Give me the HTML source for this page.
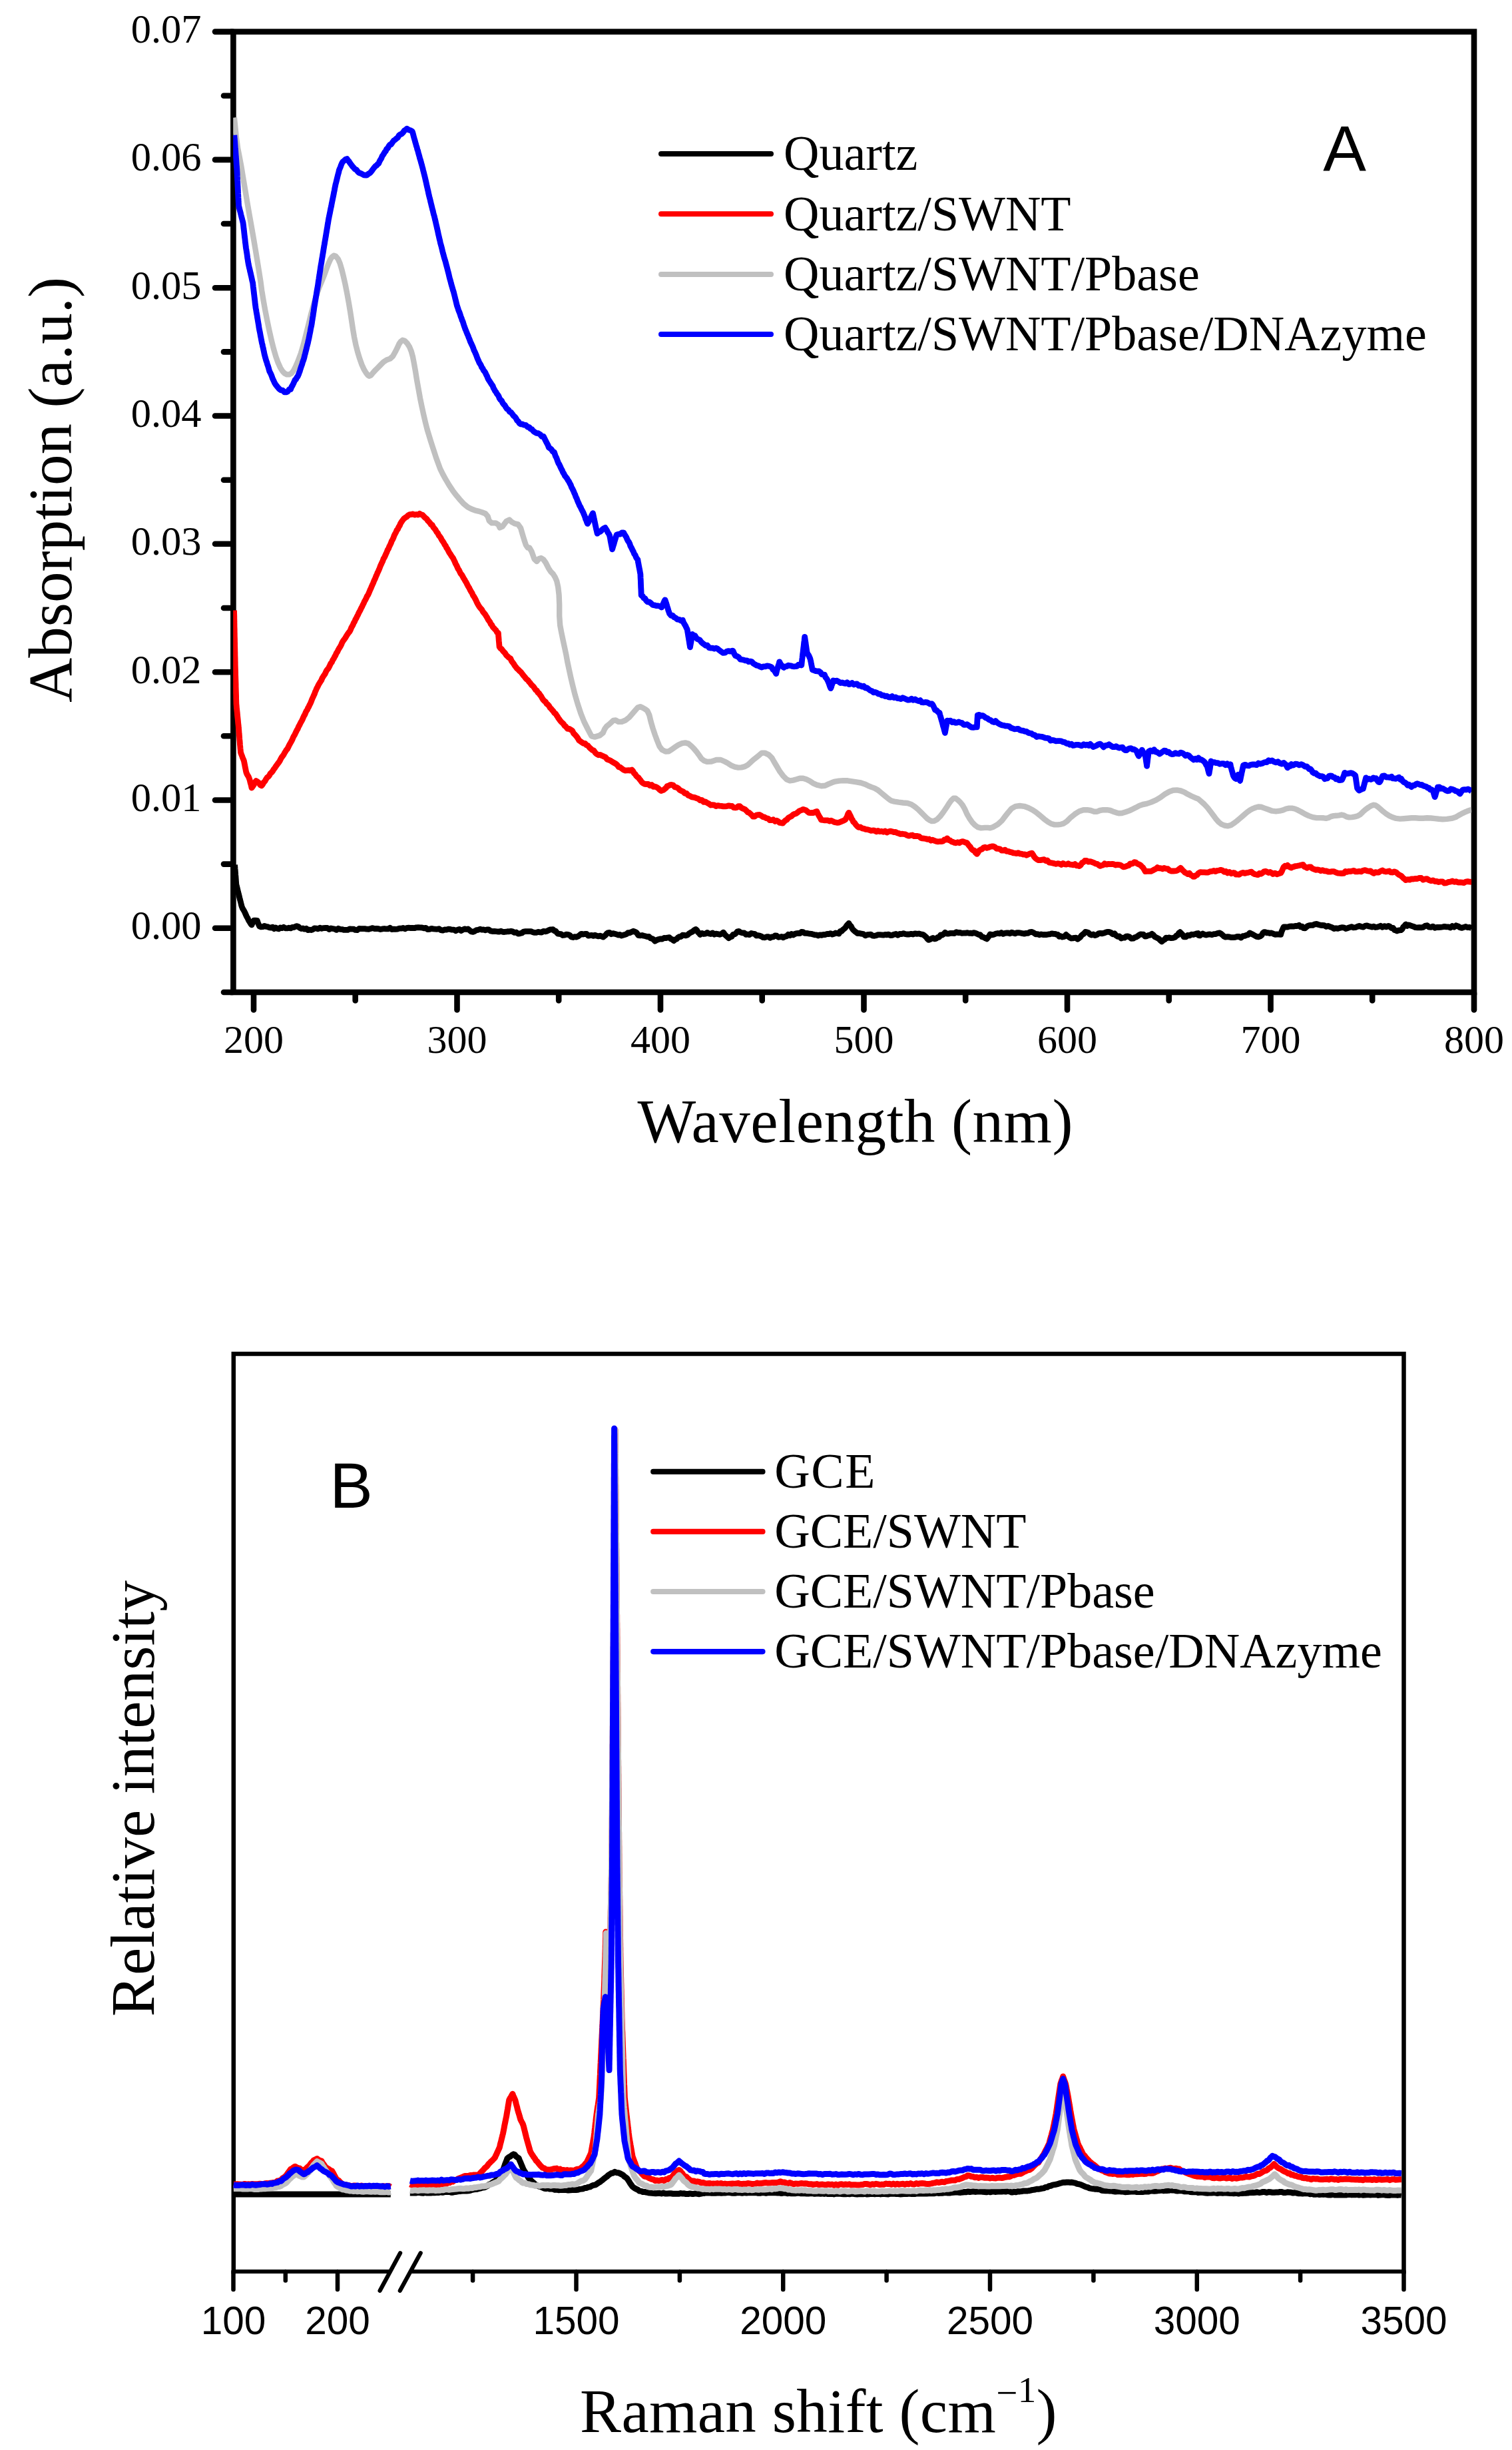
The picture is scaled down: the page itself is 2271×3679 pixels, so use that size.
<!DOCTYPE html>
<html lang="en"><head><meta charset="utf-8"><title>Figure: UV-vis absorption and Raman spectra</title>
<style>html,body{margin:0;padding:0;background:#fff}body{width:2271px;height:3679px;overflow:hidden}svg{display:block}text{fill:#000}</style>
</head><body>
<svg width="2271" height="3679" viewBox="0 0 2271 3679">
<rect width="2271" height="3679" fill="#fff"/>
<g id="chartA">
<rect x="350.4" y="47.6" width="1863.6" height="1442.4" fill="none" stroke="#000" stroke-width="8.6"/>
<line x1="323.0" y1="1393.8" x2="349.4" y2="1393.8" stroke="#000" stroke-width="8.6" stroke-linecap="round"/>
<text x="302.5" y="1410.1" font-family="'Liberation Serif',serif" font-size="60.5" text-anchor="end" >0.00</text>
<line x1="323.0" y1="1201.5" x2="349.4" y2="1201.5" stroke="#000" stroke-width="8.6" stroke-linecap="round"/>
<text x="302.5" y="1217.8" font-family="'Liberation Serif',serif" font-size="60.5" text-anchor="end" >0.01</text>
<line x1="323.0" y1="1009.2" x2="349.4" y2="1009.2" stroke="#000" stroke-width="8.6" stroke-linecap="round"/>
<text x="302.5" y="1025.5" font-family="'Liberation Serif',serif" font-size="60.5" text-anchor="end" >0.02</text>
<line x1="323.0" y1="816.8" x2="349.4" y2="816.8" stroke="#000" stroke-width="8.6" stroke-linecap="round"/>
<text x="302.5" y="833.1" font-family="'Liberation Serif',serif" font-size="60.5" text-anchor="end" >0.03</text>
<line x1="323.0" y1="624.5" x2="349.4" y2="624.5" stroke="#000" stroke-width="8.6" stroke-linecap="round"/>
<text x="302.5" y="640.8" font-family="'Liberation Serif',serif" font-size="60.5" text-anchor="end" >0.04</text>
<line x1="323.0" y1="432.2" x2="349.4" y2="432.2" stroke="#000" stroke-width="8.6" stroke-linecap="round"/>
<text x="302.5" y="448.5" font-family="'Liberation Serif',serif" font-size="60.5" text-anchor="end" >0.05</text>
<line x1="323.0" y1="239.9" x2="349.4" y2="239.9" stroke="#000" stroke-width="8.6" stroke-linecap="round"/>
<text x="302.5" y="256.2" font-family="'Liberation Serif',serif" font-size="60.5" text-anchor="end" >0.06</text>
<line x1="323.0" y1="47.6" x2="349.4" y2="47.6" stroke="#000" stroke-width="8.6" stroke-linecap="round"/>
<text x="302.5" y="63.9" font-family="'Liberation Serif',serif" font-size="60.5" text-anchor="end" >0.07</text>
<line x1="336.0" y1="1490.0" x2="349.4" y2="1490.0" stroke="#000" stroke-width="8.6" stroke-linecap="round"/>
<line x1="336.0" y1="1297.6" x2="349.4" y2="1297.6" stroke="#000" stroke-width="8.6" stroke-linecap="round"/>
<line x1="336.0" y1="1105.3" x2="349.4" y2="1105.3" stroke="#000" stroke-width="8.6" stroke-linecap="round"/>
<line x1="336.0" y1="913.0" x2="349.4" y2="913.0" stroke="#000" stroke-width="8.6" stroke-linecap="round"/>
<line x1="336.0" y1="720.7" x2="349.4" y2="720.7" stroke="#000" stroke-width="8.6" stroke-linecap="round"/>
<line x1="336.0" y1="528.4" x2="349.4" y2="528.4" stroke="#000" stroke-width="8.6" stroke-linecap="round"/>
<line x1="336.0" y1="336.0" x2="349.4" y2="336.0" stroke="#000" stroke-width="8.6" stroke-linecap="round"/>
<line x1="336.0" y1="143.7" x2="349.4" y2="143.7" stroke="#000" stroke-width="8.6" stroke-linecap="round"/>
<line x1="381.0" y1="1491.0" x2="381.0" y2="1516.5" stroke="#000" stroke-width="8.6" stroke-linecap="round"/>
<text x="381.0" y="1581.0" font-family="'Liberation Serif',serif" font-size="60" text-anchor="middle" >200</text>
<line x1="686.5" y1="1491.0" x2="686.5" y2="1516.5" stroke="#000" stroke-width="8.6" stroke-linecap="round"/>
<text x="686.5" y="1581.0" font-family="'Liberation Serif',serif" font-size="60" text-anchor="middle" >300</text>
<line x1="992.0" y1="1491.0" x2="992.0" y2="1516.5" stroke="#000" stroke-width="8.6" stroke-linecap="round"/>
<text x="992.0" y="1581.0" font-family="'Liberation Serif',serif" font-size="60" text-anchor="middle" >400</text>
<line x1="1297.5" y1="1491.0" x2="1297.5" y2="1516.5" stroke="#000" stroke-width="8.6" stroke-linecap="round"/>
<text x="1297.5" y="1581.0" font-family="'Liberation Serif',serif" font-size="60" text-anchor="middle" >500</text>
<line x1="1603.0" y1="1491.0" x2="1603.0" y2="1516.5" stroke="#000" stroke-width="8.6" stroke-linecap="round"/>
<text x="1603.0" y="1581.0" font-family="'Liberation Serif',serif" font-size="60" text-anchor="middle" >600</text>
<line x1="1908.5" y1="1491.0" x2="1908.5" y2="1516.5" stroke="#000" stroke-width="8.6" stroke-linecap="round"/>
<text x="1908.5" y="1581.0" font-family="'Liberation Serif',serif" font-size="60" text-anchor="middle" >700</text>
<line x1="2214.0" y1="1491.0" x2="2214.0" y2="1516.5" stroke="#000" stroke-width="8.6" stroke-linecap="round"/>
<text x="2214.0" y="1581.0" font-family="'Liberation Serif',serif" font-size="60" text-anchor="middle" >800</text>
<line x1="533.7" y1="1491.0" x2="533.7" y2="1502.5" stroke="#000" stroke-width="8.6" stroke-linecap="round"/>
<line x1="839.2" y1="1491.0" x2="839.2" y2="1502.5" stroke="#000" stroke-width="8.6" stroke-linecap="round"/>
<line x1="1144.7" y1="1491.0" x2="1144.7" y2="1502.5" stroke="#000" stroke-width="8.6" stroke-linecap="round"/>
<line x1="1450.2" y1="1491.0" x2="1450.2" y2="1502.5" stroke="#000" stroke-width="8.6" stroke-linecap="round"/>
<line x1="1755.7" y1="1491.0" x2="1755.7" y2="1502.5" stroke="#000" stroke-width="8.6" stroke-linecap="round"/>
<line x1="2061.2" y1="1491.0" x2="2061.2" y2="1502.5" stroke="#000" stroke-width="8.6" stroke-linecap="round"/>
<clipPath id="ca"><rect x="350.2" y="47.6" width="1859.9999999999998" height="1442.4"/></clipPath>
<g clip-path="url(#ca)">
<polyline points="352.6,1298.5 352.8,1301.5 353.0,1304.4 353.3,1307.5 353.5,1310.4 353.7,1313.4 354.0,1316.4 354.2,1319.3 354.4,1322.4 354.6,1325.2 354.9,1328.3 355.6,1330.9 356.3,1333.7 357.0,1336.8 357.7,1339.9 358.4,1342.2 359.1,1345.1 359.8,1348.2 360.5,1351.1 361.2,1353.5 361.8,1356.0 362.5,1359.0 363.1,1361.1 364.4,1364.3 365.6,1366.1 366.9,1368.4 368.1,1370.9 369.3,1373.6 370.6,1376.6 371.8,1378.4 373.1,1381.3 374.3,1383.5 375.5,1385.2 376.8,1387.5 378.0,1388.9 379.1,1386.5 380.2,1384.1 381.3,1382.1 383.8,1382.2 386.3,1382.4 387.4,1385.7 388.5,1388.3 389.6,1390.9 392.1,1391.9 394.6,1391.7 397.0,1390.5 399.5,1391.3 402.0,1391.6 404.5,1392.9 407.0,1393.0 409.4,1392.2 411.6,1394.6 413.9,1392.9 416.1,1394.2 418.5,1394.9 421.0,1393.0 423.5,1393.7 426.0,1392.3 428.6,1393.8 431.3,1393.9 433.9,1393.2 436.6,1393.9 439.2,1392.3 441.4,1392.5 443.6,1391.5 445.8,1390.7 448.0,1391.4 450.2,1393.3 452.4,1394.5 454.9,1394.0 457.4,1395.2 459.9,1394.3 462.4,1396.6 464.8,1396.1 467.3,1396.5 469.8,1395.7 472.3,1393.9 475.0,1394.1 477.8,1394.9 480.5,1393.2 483.3,1394.3 486.1,1393.6 488.8,1393.4 491.6,1393.5 494.3,1395.5 497.1,1394.0 499.8,1394.5 502.6,1395.0 505.3,1396.4 508.2,1394.3 511.0,1395.3 513.8,1395.6 516.7,1396.4 519.5,1396.3 522.4,1396.4 525.2,1394.9 528.0,1395.2 530.9,1395.1 533.7,1396.4 536.5,1396.6 539.4,1394.5 542.2,1394.6 545.0,1394.7 548.0,1394.6 550.9,1395.2 553.8,1395.3 556.8,1394.4 559.7,1393.6 562.7,1394.6 565.6,1394.3 568.5,1394.7 571.5,1395.6 574.3,1394.9 577.2,1394.5 580.0,1394.8 582.8,1394.9 585.7,1393.3 588.5,1395.5 591.3,1395.2 594.2,1395.4 597.0,1395.2 599.8,1394.2 602.7,1394.2 605.5,1393.4 608.3,1394.8 611.2,1393.3 614.0,1393.2 616.8,1393.5 619.7,1393.3 622.5,1393.7 625.3,1392.8 628.2,1392.6 631.0,1392.9 633.8,1393.0 636.7,1393.9 639.5,1393.3 642.3,1395.7 645.2,1395.3 648.0,1394.3 650.8,1394.8 653.7,1395.1 656.5,1395.3 659.3,1394.7 662.2,1396.7 665.0,1397.2 667.9,1395.9 670.7,1396.1 673.4,1395.2 676.2,1395.4 679.0,1396.2 681.7,1396.1 684.5,1397.8 687.2,1396.2 689.9,1395.5 692.5,1397.6 695.2,1396.2 697.8,1394.9 700.4,1395.5 702.9,1395.0 705.4,1397.0 707.9,1398.9 710.4,1399.3 713.0,1398.3 715.7,1396.6 718.3,1396.3 721.0,1395.2 723.6,1396.1 726.2,1395.9 728.9,1396.8 731.5,1396.0 734.2,1396.0 736.8,1397.9 739.5,1398.6 742.1,1398.5 744.8,1398.7 747.4,1399.0 750.1,1399.0 752.5,1398.2 755.0,1399.4 757.5,1399.5 760.0,1399.2 762.5,1398.7 764.9,1398.8 767.4,1398.3 769.9,1398.9 772.6,1400.4 775.4,1400.0 778.2,1402.1 780.9,1401.8 783.7,1401.1 786.4,1399.1 789.2,1398.7 791.9,1398.7 794.7,1398.6 797.5,1398.6 800.2,1399.7 803.0,1400.4 805.6,1400.3 808.3,1399.4 810.9,1399.8 813.5,1400.2 816.2,1398.3 818.7,1398.8 821.2,1398.4 823.6,1397.1 826.1,1396.0 828.3,1395.9 830.5,1395.7 832.7,1397.8 834.5,1398.1 836.4,1400.5 838.2,1402.2 840.0,1402.4 842.6,1402.7 845.3,1404.5 847.9,1404.2 850.6,1403.1 853.2,1403.3 855.7,1404.3 858.2,1407.0 860.7,1407.5 863.1,1406.7 865.6,1407.1 868.1,1406.2 870.6,1404.3 873.1,1402.3 875.7,1403.1 878.4,1402.4 881.0,1402.4 883.7,1405.2 886.3,1404.7 888.8,1404.4 891.3,1405.4 893.7,1404.1 896.2,1405.3 898.7,1405.9 901.2,1405.2 903.7,1406.2 906.1,1407.1 907.8,1405.5 909.4,1404.5 911.1,1402.2 912.8,1400.8 915.4,1400.4 918.0,1402.7 920.7,1401.6 923.3,1402.2 926.0,1402.9 928.5,1404.1 930.9,1403.3 933.4,1405.0 935.9,1404.3 938.4,1403.6 940.9,1402.7 943.3,1400.6 945.8,1400.8 948.6,1399.4 951.3,1398.2 954.1,1399.4 955.7,1400.0 957.4,1402.4 959.0,1404.7 961.7,1404.8 964.3,1404.5 967.0,1405.3 969.6,1405.8 972.3,1406.7 974.6,1406.4 976.9,1408.7 979.2,1409.4 981.5,1410.7 983.8,1413.2 986.6,1411.5 989.4,1410.5 992.1,1409.9 994.8,1410.0 997.4,1408.5 1000.1,1408.6 1002.7,1408.0 1005.3,1407.6 1007.5,1409.7 1009.8,1410.8 1012.0,1412.6 1014.0,1410.9 1016.1,1410.2 1018.2,1408.0 1020.2,1406.7 1022.7,1406.5 1025.2,1404.2 1027.7,1404.4 1030.1,1404.9 1032.6,1404.1 1035.1,1401.7 1037.6,1400.2 1040.1,1399.2 1042.5,1396.8 1045.0,1395.5 1046.7,1396.9 1048.3,1399.7 1050.0,1401.5 1051.6,1403.4 1054.3,1401.4 1056.9,1402.5 1059.6,1402.1 1062.2,1400.4 1064.9,1402.0 1067.5,1402.5 1070.2,1400.9 1072.8,1403.2 1075.4,1402.1 1078.1,1402.6 1080.9,1403.3 1083.6,1402.4 1086.4,1400.1 1088.4,1402.9 1090.5,1405.2 1092.6,1406.9 1094.6,1408.7 1096.8,1407.2 1099.0,1406.4 1101.2,1403.3 1103.3,1403.0 1105.4,1401.4 1107.4,1399.0 1109.5,1398.3 1112.3,1400.1 1115.0,1400.9 1117.8,1400.9 1120.4,1403.4 1123.1,1403.0 1125.7,1403.6 1128.4,1401.5 1131.0,1402.0 1133.5,1402.3 1136.0,1405.0 1138.4,1404.6 1140.9,1405.0 1143.6,1406.1 1146.2,1407.7 1148.9,1407.8 1151.5,1406.7 1154.2,1406.7 1156.6,1408.3 1159.1,1407.0 1161.6,1406.9 1164.1,1404.9 1166.6,1405.2 1169.0,1407.3 1171.5,1407.0 1174.0,1406.5 1176.5,1407.9 1179.0,1406.3 1181.4,1405.9 1183.9,1403.3 1186.4,1404.8 1188.9,1402.4 1191.4,1404.0 1193.8,1402.5 1196.3,1401.6 1198.8,1401.5 1201.3,1401.7 1203.8,1399.4 1206.2,1399.7 1208.7,1401.4 1211.2,1401.3 1213.7,1401.7 1216.2,1402.2 1218.6,1402.3 1221.1,1403.1 1223.6,1403.8 1226.2,1403.8 1228.9,1405.0 1231.5,1403.8 1234.2,1404.3 1236.8,1403.5 1239.5,1403.6 1242.1,1402.4 1244.8,1402.7 1247.4,1401.7 1250.1,1403.2 1252.5,1402.4 1255.0,1401.0 1257.5,1401.3 1260.0,1402.1 1262.0,1398.5 1264.1,1398.3 1266.2,1395.9 1268.2,1394.4 1269.9,1392.9 1271.5,1390.1 1273.2,1388.2 1274.9,1386.4 1276.5,1389.3 1278.2,1390.8 1279.8,1394.0 1281.5,1396.3 1283.7,1398.3 1285.9,1399.8 1288.1,1401.7 1291.0,1401.4 1293.9,1402.2 1296.8,1402.6 1299.7,1404.9 1302.4,1403.7 1305.2,1403.4 1307.9,1403.2 1310.7,1405.2 1313.4,1405.3 1316.2,1404.7 1318.8,1403.7 1321.5,1403.6 1324.1,1403.8 1326.8,1404.2 1329.4,1403.4 1332.1,1403.8 1334.7,1403.1 1337.4,1404.5 1340.0,1404.3 1342.8,1403.2 1345.7,1402.4 1348.5,1404.3 1351.3,1402.5 1354.2,1402.7 1357.0,1401.7 1359.8,1402.7 1362.7,1403.0 1365.6,1403.0 1368.5,1402.3 1371.4,1403.1 1374.3,1401.8 1377.2,1402.4 1380.1,1402.0 1383.0,1402.8 1385.2,1403.1 1387.4,1404.1 1389.6,1405.9 1391.3,1407.5 1392.9,1409.8 1394.6,1411.4 1396.8,1410.8 1399.0,1409.5 1401.2,1408.5 1403.7,1409.8 1406.1,1409.4 1408.3,1407.6 1410.5,1407.4 1412.8,1404.0 1415.0,1404.1 1417.2,1402.8 1419.4,1400.3 1422.2,1402.1 1425.0,1402.1 1427.9,1401.3 1430.7,1401.4 1433.5,1401.5 1436.4,1399.6 1439.2,1400.5 1442.0,1400.4 1444.7,1401.3 1447.5,1401.2 1450.2,1401.2 1453.0,1400.6 1455.7,1401.4 1457.9,1401.2 1460.1,1401.6 1462.4,1400.7 1464.8,1401.1 1467.3,1402.1 1469.8,1403.5 1472.3,1403.7 1474.8,1406.7 1477.2,1407.3 1479.7,1408.7 1482.2,1409.9 1483.8,1408.0 1485.5,1405.7 1487.2,1402.9 1490.0,1403.9 1492.9,1403.2 1495.8,1402.0 1498.7,1401.5 1501.4,1401.9 1504.0,1400.5 1506.7,1402.4 1509.3,1401.3 1512.0,1400.9 1514.4,1401.0 1516.9,1401.8 1519.4,1400.1 1521.9,1401.0 1524.6,1401.8 1527.4,1400.7 1530.1,1400.6 1532.9,1401.0 1535.7,1401.7 1538.4,1402.1 1541.3,1401.4 1544.2,1401.3 1547.1,1399.6 1550.0,1399.5 1552.7,1400.7 1555.5,1402.8 1558.3,1402.6 1561.0,1403.8 1563.8,1402.9 1566.5,1403.6 1569.3,1403.3 1572.0,1403.6 1574.8,1402.9 1577.3,1402.8 1579.7,1401.8 1582.2,1402.4 1584.7,1402.3 1586.8,1403.3 1588.8,1403.5 1590.9,1406.3 1593.0,1405.6 1595.7,1407.0 1598.5,1406.4 1601.2,1403.5 1603.7,1405.7 1606.2,1407.6 1608.7,1409.0 1611.2,1408.9 1613.6,1408.4 1616.1,1408.2 1618.6,1410.2 1621.1,1408.2 1622.7,1407.2 1624.4,1404.6 1626.0,1403.3 1627.7,1402.2 1630.2,1399.4 1632.7,1399.8 1634.9,1400.6 1637.1,1403.0 1639.3,1404.1 1642.0,1403.0 1644.8,1404.7 1647.5,1403.7 1650.0,1401.9 1652.5,1401.3 1655.0,1401.9 1657.5,1401.3 1660.2,1400.3 1663.0,1399.4 1665.7,1399.3 1668.5,1400.4 1671.2,1402.8 1674.0,1401.8 1676.5,1404.9 1679.0,1406.3 1681.4,1405.9 1683.9,1409.0 1686.4,1408.1 1688.9,1408.2 1691.4,1406.2 1693.8,1406.0 1696.6,1407.0 1699.3,1409.3 1702.1,1409.2 1704.3,1407.8 1706.5,1407.1 1708.7,1405.8 1710.9,1404.0 1713.1,1402.8 1715.3,1403.1 1717.5,1403.2 1719.7,1406.0 1721.9,1405.8 1724.7,1404.7 1727.5,1404.2 1730.2,1402.3 1732.3,1404.0 1734.3,1406.5 1736.4,1407.6 1738.5,1408.7 1740.7,1409.9 1742.9,1412.2 1745.1,1413.9 1747.2,1411.8 1749.2,1411.0 1751.3,1408.2 1753.4,1408.5 1756.3,1407.9 1759.1,1408.7 1762.0,1408.4 1764.9,1407.4 1766.8,1405.1 1768.7,1404.6 1770.6,1401.1 1772.5,1399.7 1774.4,1401.7 1776.3,1403.8 1778.2,1406.8 1781.1,1406.9 1783.9,1404.4 1786.8,1404.8 1789.7,1403.2 1792.2,1403.5 1794.7,1402.8 1797.2,1401.9 1799.7,1401.5 1800.0,1404.4 1802.2,1404.9 1804.4,1403.3 1806.5,1402.0 1808.7,1403.2 1811.6,1404.0 1814.6,1403.2 1817.5,1403.0 1820.4,1403.7 1823.3,1402.7 1826.2,1402.6 1829.1,1401.3 1832.0,1400.9 1834.2,1402.3 1836.4,1404.2 1838.6,1406.2 1840.7,1407.1 1843.7,1406.7 1846.6,1407.0 1849.5,1407.7 1852.4,1407.7 1855.3,1407.3 1858.2,1406.3 1861.1,1406.5 1864.0,1408.0 1866.9,1405.6 1869.5,1405.3 1872.0,1404.3 1874.6,1403.7 1877.1,1400.9 1879.7,1402.3 1882.2,1403.5 1884.8,1405.0 1887.3,1406.4 1890.2,1406.9 1893.1,1405.9 1895.0,1404.4 1896.8,1401.2 1898.6,1399.7 1900.4,1399.7 1902.6,1400.9 1904.8,1400.6 1907.0,1401.6 1909.1,1400.9 1912.0,1401.9 1915.0,1403.3 1917.9,1403.0 1920.8,1403.1 1923.7,1403.4 1924.8,1399.3 1925.9,1396.7 1927.0,1394.2 1928.1,1392.0 1931.0,1391.9 1933.9,1392.1 1936.8,1391.1 1939.7,1390.9 1942.6,1391.2 1945.5,1390.4 1948.4,1390.6 1951.3,1389.3 1953.5,1391.9 1955.7,1391.3 1957.9,1393.7 1960.1,1393.8 1962.3,1391.9 1964.4,1390.4 1966.6,1389.6 1968.8,1389.4 1971.7,1389.4 1974.6,1387.8 1977.5,1387.5 1980.4,1388.5 1983.4,1389.3 1986.3,1389.5 1989.2,1389.7 1992.1,1391.4 1995.0,1390.4 1997.9,1391.8 2000.8,1392.7 2003.7,1394.6 2006.6,1393.8 2009.5,1394.4 2012.5,1393.4 2015.4,1392.7 2018.3,1392.8 2021.2,1394.5 2024.1,1393.7 2027.0,1392.6 2029.9,1391.7 2032.8,1392.8 2035.7,1392.7 2038.6,1391.5 2041.6,1390.5 2044.5,1391.5 2047.4,1392.2 2050.3,1390.4 2053.2,1389.9 2055.7,1390.9 2058.3,1391.3 2060.8,1392.2 2063.4,1391.2 2065.9,1392.5 2068.5,1392.2 2071.0,1391.3 2073.6,1390.3 2076.5,1392.3 2079.4,1390.6 2082.3,1391.9 2085.2,1390.4 2087.6,1391.4 2090.1,1393.7 2092.5,1393.5 2094.4,1396.5 2096.4,1397.1 2098.3,1398.0 2100.3,1397.2 2102.2,1396.9 2104.1,1396.7 2106.0,1395.2 2107.8,1391.8 2109.6,1390.3 2111.4,1388.0 2113.6,1390.4 2115.8,1389.0 2118.0,1389.6 2120.1,1390.3 2123.1,1391.3 2126.0,1392.7 2128.9,1392.8 2131.8,1392.6 2134.7,1392.9 2137.6,1392.4 2140.5,1390.4 2143.4,1389.7 2146.3,1392.2 2149.2,1392.3 2152.2,1391.1 2155.1,1393.3 2158.0,1392.5 2160.9,1392.5 2163.8,1392.4 2166.7,1392.0 2169.6,1391.3 2172.5,1391.8 2175.4,1391.8 2178.3,1393.1 2181.3,1390.5 2184.2,1392.2 2187.1,1389.8 2190.0,1390.8 2192.9,1392.7 2195.8,1393.4 2198.7,1392.4 2201.6,1391.5 2204.5,1392.7 2207.5,1392.5 2210.4,1393.9" fill="none" stroke="#000" stroke-width="8.8" stroke-linejoin="round" />
<polyline points="351.6,916.6 351.6,919.5 351.7,922.4 351.8,925.3 351.8,928.2 351.9,931.1 351.9,934.0 352.0,936.9 352.0,939.7 352.1,942.6 352.2,945.5 352.2,948.4 352.3,951.3 352.3,954.2 352.4,957.1 352.5,960.0 352.5,962.9 352.6,965.8 352.6,968.7 352.7,971.6 352.8,974.5 352.8,977.4 352.9,980.2 352.9,983.1 353.0,986.1 353.1,989.0 353.1,991.8 353.2,994.7 353.2,997.6 353.3,1000.6 353.4,1003.6 353.5,1006.6 353.6,1009.6 353.6,1012.5 353.7,1015.5 353.8,1018.4 353.9,1021.4 354.0,1024.4 354.1,1027.4 354.1,1030.4 354.2,1033.3 354.3,1036.3 354.4,1039.3 354.5,1042.3 354.6,1045.2 354.6,1048.2 354.7,1051.2 354.8,1054.2 354.9,1057.1 355.2,1059.8 355.4,1062.7 355.7,1065.3 356.0,1068.1 356.3,1070.8 356.5,1073.7 356.8,1076.4 357.1,1079.3 357.4,1082.0 357.6,1084.8 357.9,1087.4 358.2,1090.1 358.4,1093.0 358.7,1095.9 358.9,1098.8 359.1,1101.5 359.4,1104.3 359.6,1107.2 359.8,1110.1 360.1,1112.9 360.3,1115.8 360.5,1118.6 360.8,1121.4 361.0,1124.1 361.3,1127.1 361.5,1129.9 362.5,1132.6 363.5,1135.1 364.5,1138.0 365.5,1140.2 366.5,1142.9 367.0,1145.8 367.6,1148.5 368.1,1151.6 368.7,1154.2 369.2,1156.8 369.8,1159.6 371.0,1162.7 372.2,1164.6 373.5,1166.8 374.7,1169.9 375.4,1172.3 376.0,1175.2 376.7,1177.3 377.4,1180.1 378.0,1183.0 379.7,1180.8 381.3,1178.4 383.0,1174.8 384.6,1172.6 386.7,1173.8 388.8,1175.6 390.8,1178.7 392.9,1179.7 394.6,1177.8 396.2,1174.7 397.9,1173.1 399.5,1170.2 401.2,1167.6 402.8,1166.4 404.5,1164.6 406.1,1161.4 407.8,1160.1 409.4,1158.2 411.1,1155.3 412.8,1153.2 414.4,1150.6 416.1,1148.3 417.7,1146.1 419.1,1144.4 420.5,1142.2 421.8,1139.4 423.2,1137.0 424.6,1135.2 426.0,1133.4 427.4,1130.6 428.7,1128.6 430.1,1126.2 431.5,1124.8 432.9,1122.2 434.2,1119.4 435.4,1117.2 436.6,1115.1 437.8,1112.9 439.0,1110.7 440.2,1107.7 441.3,1105.4 442.5,1103.6 443.7,1101.0 444.9,1098.5 446.1,1096.1 447.2,1094.5 448.4,1091.4 449.6,1089.3 450.8,1086.8 452.0,1084.5 453.1,1082.6 454.3,1080.4 455.5,1077.3 456.7,1074.8 457.9,1073.0 459.0,1070.1 460.2,1067.5 461.4,1066.1 462.6,1063.2 463.8,1061.3 465.0,1058.5 466.1,1056.6 467.3,1053.8 468.3,1051.0 469.4,1048.4 470.4,1046.4 471.4,1044.0 472.5,1041.8 473.5,1038.6 474.5,1036.6 475.6,1033.9 477.0,1031.4 478.4,1028.4 479.8,1026.0 481.3,1023.6 482.7,1021.5 484.1,1018.0 485.5,1015.8 486.9,1013.8 488.3,1011.7 489.8,1008.3 491.2,1005.9 492.6,1004.5 494.0,1002.2 495.4,999.3 496.8,996.2 498.3,994.6 499.7,991.3 501.1,989.3 502.5,986.4 503.9,984.1 505.3,980.7 506.8,978.8 508.2,975.6 509.6,973.2 511.0,971.1 512.4,968.5 513.8,965.1 515.3,962.6 516.9,960.3 518.6,958.0 520.2,955.3 521.9,952.5 523.5,950.2 525.2,948.3 526.4,946.0 527.7,942.6 528.9,940.6 530.1,938.4 531.4,935.1 532.6,933.5 533.9,930.2 535.1,928.3 536.3,925.7 537.6,923.4 538.8,920.5 540.1,918.2 541.3,915.9 542.5,913.2 543.8,911.0 545.0,908.3 546.3,905.8 547.5,902.9 548.7,901.0 550.0,898.4 551.2,895.6 552.5,893.7 553.7,891.3 554.9,888.4 556.0,885.6 557.2,883.3 558.3,880.4 559.4,877.9 560.5,875.6 561.6,872.7 562.7,870.4 563.8,867.9 564.9,864.9 566.0,862.9 567.1,859.8 568.2,857.8 569.3,855.3 570.4,852.5 571.5,849.5 572.6,847.3 573.7,844.7 574.8,842.6 576.0,839.1 577.3,837.2 578.5,834.6 579.7,831.7 581.0,829.1 582.2,825.8 583.5,823.9 584.7,820.7 585.9,818.5 587.2,815.7 588.4,812.3 589.7,810.2 590.9,807.7 592.1,804.1 593.4,801.7 594.6,799.5 596.0,796.2 597.5,794.5 598.9,791.2 600.3,789.2 601.7,785.8 603.1,783.6 604.6,781.5 606.6,778.8 608.7,777.3 610.8,776.1 612.8,774.1 615.3,772.7 617.8,772.5 620.3,771.9 622.7,773.1 625.2,772.5 627.7,773.0 630.2,771.3 632.7,772.8 634.7,773.2 636.8,775.8 638.9,777.8 640.9,779.1 642.6,781.9 644.2,783.3 645.9,785.3 647.5,787.7 649.2,788.4 650.8,791.7 652.5,793.6 654.2,795.8 655.8,798.8 657.5,800.5 659.1,804.0 660.8,805.9 662.2,808.0 663.6,810.9 665.0,812.8 666.4,814.9 667.9,817.9 669.3,819.4 670.7,822.7 672.1,824.4 673.5,827.3 674.9,830.0 676.4,831.9 677.8,834.4 679.2,836.3 680.6,838.3 681.8,840.9 683.1,843.5 684.3,846.5 685.6,848.7 686.8,851.3 688.0,854.2 689.3,855.9 690.5,858.4 691.9,861.3 693.4,862.9 694.8,865.2 696.2,868.0 697.6,870.1 699.0,872.7 700.4,874.9 701.9,878.0 703.3,880.6 704.7,882.7 706.1,885.8 707.5,888.2 709.0,890.4 710.4,894.0 711.8,895.8 713.2,898.2 714.6,900.8 716.0,904.0 717.5,906.9 718.9,909.4 720.3,911.5 721.9,913.5 723.6,915.3 725.3,918.5 726.9,920.5 728.6,922.4 730.2,925.1 731.6,927.2 733.0,930.1 734.5,932.2 735.9,934.0 737.3,937.2 738.7,938.5 740.1,941.4 741.8,943.2 743.4,945.0 745.1,946.7 746.7,949.8 748.4,950.6 748.6,954.2 748.9,957.1 749.1,959.8 749.3,962.6 749.6,965.5 749.8,968.3 750.1,971.2 751.7,973.6 753.4,974.6 755.0,976.8 756.7,978.8 758.3,980.4 760.4,983.8 762.5,985.7 764.5,987.7 766.6,988.5 768.2,992.3 769.9,994.6 771.5,996.7 773.2,999.6 774.9,1001.7 776.5,1003.9 778.5,1005.5 780.5,1007.7 782.5,1009.4 784.4,1011.9 786.4,1014.6 788.1,1016.4 789.7,1018.6 791.4,1020.3 793.0,1021.5 794.7,1023.9 796.3,1025.6 798.0,1028.1 799.7,1029.6 801.3,1031.1 803.0,1033.7 804.6,1036.1 806.3,1036.9 807.9,1040.1 809.6,1041.0 811.2,1043.6 812.9,1045.7 814.5,1048.7 816.2,1051.2 817.8,1052.8 819.5,1054.1 821.2,1056.9 822.8,1058.0 824.5,1059.8 826.1,1062.7 827.8,1064.2 829.4,1066.3 831.1,1068.1 832.7,1070.6 834.4,1071.7 836.0,1074.2 837.4,1076.1 838.7,1078.5 840.0,1080.1 841.7,1082.5 843.3,1084.2 845.0,1085.7 846.6,1087.5 848.3,1090.1 849.9,1091.1 852.4,1094.3 854.9,1094.4 857.4,1095.8 859.8,1097.6 861.5,1101.2 863.1,1102.6 864.8,1104.5 866.5,1106.6 868.1,1108.8 869.8,1111.9 872.0,1113.3 874.2,1114.8 876.4,1116.3 878.6,1116.3 880.8,1118.7 883.0,1119.6 885.2,1122.4 887.4,1124.3 889.6,1126.4 891.8,1126.8 894.0,1130.2 896.2,1132.2 898.9,1133.8 901.5,1133.3 904.2,1134.8 906.8,1135.9 909.4,1137.1 911.9,1140.1 914.4,1141.2 916.9,1142.1 919.4,1143.8 921.3,1145.0 923.3,1146.0 925.3,1147.3 927.3,1148.9 929.3,1151.8 931.8,1152.4 934.2,1154.3 936.7,1156.1 939.2,1157.0 941.7,1156.9 944.2,1156.6 946.6,1157.2 949.1,1156.0 950.8,1158.1 952.4,1161.1 954.1,1162.5 955.7,1165.1 957.4,1166.7 959.0,1167.7 960.7,1170.2 962.4,1172.2 964.0,1174.6 965.7,1175.9 968.3,1177.3 971.0,1177.5 973.6,1177.4 976.2,1179.6 978.9,1178.5 981.4,1181.4 983.8,1181.2 986.3,1182.1 988.8,1183.8 991.0,1186.1 993.2,1187.6 995.4,1186.6 997.1,1186.0 998.7,1184.4 1000.4,1183.2 1002.0,1180.5 1004.2,1180.0 1006.4,1178.6 1008.7,1178.5 1011.1,1179.0 1013.6,1182.0 1016.1,1182.3 1018.6,1183.8 1021.1,1186.4 1023.5,1187.7 1026.0,1188.6 1028.5,1191.3 1031.0,1191.3 1033.5,1194.1 1035.9,1195.1 1038.4,1196.6 1041.1,1197.2 1043.7,1197.6 1046.3,1198.7 1049.0,1199.7 1051.6,1201.8 1054.3,1201.4 1056.9,1204.4 1059.6,1203.9 1062.2,1205.6 1064.9,1207.0 1067.5,1209.0 1070.2,1208.6 1072.8,1208.8 1075.4,1210.6 1078.1,1209.6 1080.9,1210.1 1083.6,1210.3 1086.4,1210.8 1089.1,1210.8 1091.9,1210.5 1094.6,1209.8 1097.1,1210.4 1099.6,1210.5 1102.1,1212.7 1104.6,1212.9 1106.8,1212.5 1109.0,1210.6 1111.2,1210.7 1113.6,1213.0 1116.1,1214.3 1118.6,1215.1 1121.1,1217.4 1123.1,1219.8 1125.1,1220.3 1127.0,1221.9 1129.0,1223.7 1131.0,1226.1 1133.5,1226.1 1136.0,1224.1 1138.4,1223.7 1140.9,1223.5 1143.4,1224.9 1145.9,1226.6 1148.4,1227.1 1150.8,1228.7 1153.5,1229.0 1156.1,1231.5 1158.8,1231.6 1161.4,1230.8 1164.1,1233.4 1166.4,1232.1 1168.7,1233.4 1171.0,1235.4 1173.3,1235.7 1175.6,1236.2 1177.7,1233.9 1179.8,1231.8 1181.8,1230.9 1183.9,1228.3 1186.4,1226.8 1188.9,1225.5 1191.4,1223.1 1193.8,1222.2 1195.9,1221.6 1198.0,1220.0 1200.0,1218.2 1202.1,1217.1 1204.3,1216.4 1206.5,1215.3 1208.7,1216.1 1210.8,1216.9 1212.9,1218.8 1214.9,1220.4 1217.0,1220.6 1219.5,1220.5 1221.9,1220.5 1224.4,1219.3 1226.9,1218.5 1228.2,1221.7 1229.6,1224.2 1230.9,1226.4 1232.2,1228.6 1233.5,1231.1 1236.0,1231.5 1238.5,1231.8 1241.0,1231.8 1243.4,1231.9 1245.9,1233.1 1248.4,1232.2 1250.9,1233.4 1253.4,1234.7 1255.6,1235.0 1257.8,1235.4 1260.0,1235.1 1262.5,1234.2 1264.9,1233.1 1267.4,1232.2 1269.9,1230.5 1271.1,1228.2 1272.4,1225.8 1273.6,1222.4 1274.9,1220.3 1276.0,1222.7 1277.1,1224.6 1278.2,1227.0 1279.3,1229.9 1280.4,1231.2 1281.5,1234.0 1283.5,1235.5 1285.6,1238.6 1287.7,1240.9 1289.7,1242.3 1292.4,1242.0 1295.0,1243.8 1297.7,1244.3 1300.3,1245.4 1303.0,1245.6 1305.6,1246.4 1308.3,1247.3 1310.9,1247.0 1313.5,1247.2 1316.2,1248.9 1318.8,1247.4 1321.5,1248.7 1324.1,1248.2 1326.8,1249.3 1329.4,1248.0 1332.1,1250.1 1334.7,1248.7 1337.4,1248.1 1340.0,1248.7 1342.5,1249.6 1345.0,1249.3 1347.4,1250.8 1349.9,1251.4 1352.4,1252.5 1354.9,1252.2 1357.4,1252.5 1359.8,1252.9 1362.5,1254.4 1365.1,1255.2 1367.8,1254.4 1370.4,1254.0 1373.1,1255.6 1375.5,1255.3 1378.0,1255.5 1380.5,1256.0 1383.0,1258.2 1385.5,1258.9 1387.9,1259.2 1390.4,1259.5 1392.9,1260.3 1395.6,1260.0 1398.2,1262.2 1400.8,1261.2 1403.5,1262.4 1406.1,1263.3 1408.9,1263.8 1411.6,1263.5 1414.4,1263.7 1416.5,1263.0 1418.5,1260.9 1420.6,1261.1 1422.7,1258.9 1424.9,1261.5 1427.1,1262.1 1429.3,1263.9 1431.5,1264.4 1433.7,1265.5 1435.9,1265.8 1438.4,1264.7 1440.9,1265.8 1443.3,1264.2 1445.8,1263.6 1448.0,1264.2 1450.2,1265.2 1452.4,1265.6 1454.1,1268.1 1455.7,1270.2 1457.4,1271.8 1459.0,1274.7 1461.1,1276.6 1463.2,1277.1 1465.2,1280.4 1467.3,1282.4 1469.0,1280.1 1470.6,1277.2 1472.3,1276.2 1474.8,1275.2 1477.2,1273.0 1479.7,1272.1 1482.2,1273.4 1484.7,1272.6 1487.2,1271.5 1489.6,1271.0 1492.1,1270.9 1494.6,1272.2 1497.1,1274.4 1499.6,1274.4 1502.0,1275.0 1504.5,1277.1 1507.0,1277.2 1509.5,1276.2 1512.0,1278.3 1514.4,1278.3 1516.9,1279.4 1519.4,1279.8 1521.9,1280.9 1524.4,1281.1 1526.8,1281.7 1529.3,1280.6 1531.8,1282.1 1534.3,1282.2 1536.8,1283.1 1539.2,1282.8 1541.7,1284.2 1544.5,1282.9 1547.2,1281.7 1550.0,1281.1 1551.6,1283.6 1553.3,1286.5 1554.9,1288.4 1557.4,1290.5 1559.9,1291.6 1562.7,1291.7 1565.4,1291.2 1568.2,1290.7 1570.7,1292.6 1573.1,1292.0 1575.6,1295.1 1578.1,1295.5 1580.7,1296.0 1583.4,1296.6 1586.0,1297.4 1588.7,1296.6 1591.3,1297.0 1594.0,1298.5 1596.6,1296.5 1599.3,1297.9 1601.9,1298.1 1604.6,1296.8 1607.0,1298.1 1609.5,1298.3 1612.0,1298.9 1614.5,1297.5 1616.7,1299.8 1618.9,1299.7 1621.1,1300.5 1623.2,1299.1 1625.2,1295.6 1627.3,1294.7 1629.4,1292.5 1632.1,1292.4 1634.9,1294.2 1637.6,1293.6 1640.4,1294.7 1643.1,1295.7 1645.9,1297.2 1648.1,1297.3 1650.3,1299.1 1652.5,1300.4 1654.7,1299.5 1656.9,1299.0 1659.1,1296.8 1662.0,1298.2 1664.9,1297.3 1667.8,1297.7 1670.7,1297.3 1673.2,1297.9 1675.6,1299.0 1678.1,1298.3 1680.6,1298.6 1682.8,1299.0 1685.0,1300.4 1687.2,1301.8 1690.0,1301.3 1692.7,1300.3 1695.5,1299.5 1697.6,1296.8 1699.6,1297.2 1701.7,1296.5 1703.8,1294.7 1706.0,1295.1 1708.2,1297.0 1710.4,1297.9 1712.9,1299.0 1715.3,1301.5 1716.6,1302.6 1717.8,1304.5 1719.1,1306.6 1720.3,1308.7 1723.0,1308.4 1725.8,1308.4 1728.6,1308.4 1731.0,1307.3 1733.5,1305.9 1736.0,1304.8 1738.5,1302.6 1741.0,1303.9 1743.4,1303.7 1745.9,1304.8 1748.4,1303.5 1751.2,1304.4 1753.9,1304.7 1756.7,1307.1 1759.4,1308.0 1762.2,1308.0 1764.9,1307.8 1767.0,1307.7 1769.1,1306.6 1771.1,1305.0 1773.2,1303.3 1774.9,1305.2 1776.5,1307.0 1778.2,1308.5 1779.8,1310.3 1782.0,1311.3 1784.2,1312.6 1786.4,1311.1 1788.3,1313.9 1790.2,1314.6 1792.1,1316.4 1794.0,1316.4 1796.0,1314.6 1798.0,1313.9 1800.0,1311.3 1802.9,1309.6 1805.8,1309.9 1808.7,1309.8 1811.6,1310.1 1814.6,1310.0 1817.5,1308.7 1820.4,1308.4 1823.3,1307.5 1825.8,1308.6 1828.4,1307.3 1830.9,1307.0 1833.5,1306.4 1836.0,1307.0 1838.6,1309.2 1841.1,1308.4 1843.7,1311.0 1846.6,1309.4 1849.5,1311.7 1852.4,1310.5 1854.3,1310.9 1856.3,1313.2 1858.2,1312.8 1861.1,1313.3 1864.0,1311.3 1866.9,1310.3 1869.5,1311.4 1872.0,1310.7 1874.6,1310.4 1877.1,1309.6 1879.7,1309.2 1882.2,1311.5 1884.8,1312.8 1887.3,1313.3 1889.5,1313.6 1891.7,1311.4 1893.9,1312.3 1896.0,1311.0 1898.5,1308.8 1900.9,1308.4 1903.3,1309.4 1905.5,1310.5 1907.7,1309.5 1909.9,1310.8 1912.0,1312.5 1915.0,1311.1 1917.9,1312.8 1920.8,1311.9 1923.7,1310.9 1924.8,1309.3 1925.9,1306.9 1927.0,1304.2 1928.1,1301.9 1930.0,1300.3 1931.9,1301.1 1933.9,1299.4 1935.8,1301.2 1937.8,1302.3 1939.7,1303.0 1941.6,1301.8 1943.6,1301.5 1945.5,1300.6 1948.4,1300.3 1951.3,1299.7 1954.2,1299.0 1957.2,1298.4 1959.1,1301.5 1961.0,1302.0 1963.0,1303.3 1965.9,1301.8 1968.8,1302.0 1971.2,1304.2 1973.7,1305.3 1976.1,1306.3 1978.6,1305.9 1981.2,1306.4 1983.7,1307.7 1986.3,1306.7 1989.2,1307.8 1992.1,1308.0 1995.0,1309.0 1997.9,1309.2 2000.8,1308.7 2003.7,1308.7 2006.6,1310.1 2009.5,1311.2 2012.5,1311.3 2015.4,1311.5 2018.3,1311.4 2020.7,1308.5 2023.1,1309.3 2025.6,1308.3 2028.2,1308.6 2030.8,1308.0 2033.4,1307.4 2036.0,1308.9 2038.6,1308.9 2041.6,1308.4 2044.5,1308.8 2047.4,1307.2 2050.3,1306.6 2053.2,1307.7 2056.1,1308.3 2058.5,1307.9 2061.0,1310.1 2063.4,1311.4 2065.8,1309.6 2068.2,1310.1 2070.7,1310.0 2072.6,1308.8 2074.5,1307.6 2076.5,1307.0 2079.0,1308.5 2081.6,1309.0 2084.1,1308.6 2086.7,1308.0 2089.2,1309.9 2091.8,1310.0 2094.3,1308.8 2096.9,1309.8 2099.3,1312.1 2101.7,1313.8 2104.1,1314.9 2106.0,1316.6 2107.8,1318.6 2109.6,1319.8 2111.4,1321.6 2114.3,1320.7 2117.2,1321.2 2120.1,1319.8 2123.1,1320.0 2126.0,1319.4 2128.9,1319.5 2131.8,1318.4 2134.7,1318.5 2137.6,1321.1 2140.5,1320.0 2143.4,1319.7 2146.3,1321.7 2149.2,1322.7 2152.2,1321.9 2155.1,1323.5 2158.0,1323.5 2160.9,1324.5 2163.8,1323.9 2166.7,1323.9 2169.6,1326.2 2172.5,1325.9 2175.4,1324.5 2178.3,1324.2 2181.3,1323.0 2184.2,1324.4 2187.1,1323.7 2190.0,1325.1 2192.9,1324.8 2195.8,1325.1 2198.7,1325.6 2201.6,1324.0 2204.5,1323.6 2207.5,1324.2 2210.4,1324.3" fill="none" stroke="#ff0000" stroke-width="8.8" stroke-linejoin="round" />
<polyline points="351.9,176.5 352.9,186.4 354.9,206.2 357.2,222.8 359.8,236.0 362.5,250.5 365.1,266.4 368.1,284.3 371.4,304.1 374.7,323.3 378.0,341.8 381.0,359.0 383.7,374.9 386.3,390.7 388.9,406.6 391.3,421.8 393.2,436.4 395.6,450.9 398.2,465.5 401.2,480.7 404.5,496.6 407.8,511.1 411.1,524.3 414.4,535.6 417.7,544.8 421.0,552.1 424.3,557.4 427.6,560.8 430.9,562.4 434.2,562.4 437.6,560.8 440.9,556.7 444.2,550.1 447.8,541.5 451.8,531.0 455.7,517.7 459.7,501.9 463.7,486.0 467.6,470.1 471.6,455.6 475.6,442.3 479.6,431.1 483.5,421.8 487.2,412.6 490.5,403.3 493.4,395.7 496.1,389.7 498.7,385.8 501.4,383.8 504.4,384.8 507.7,388.8 510.6,395.4 513.3,404.6 515.9,415.2 518.6,427.1 521.2,440.3 523.9,454.9 526.2,468.8 528.2,482.0 530.1,494.6 532.1,506.5 534.4,517.7 537.1,528.3 540.1,538.2 543.4,547.5 546.7,554.8 550.0,560.1 552.6,563.4 554.6,564.7 557.3,563.4 560.6,559.4 564.2,555.4 568.2,551.5 572.1,547.5 576.1,543.5 580.7,540.5 586.0,538.6 590.3,534.6 593.6,528.6 596.6,522.7 599.3,516.7 601.9,512.8 604.6,510.8 607.9,511.8 611.8,515.7 615.1,521.0 617.8,527.6 620.1,536.2 622.1,546.8 624.1,558.1 626.0,570.0 628.4,583.2 631.0,597.8 633.7,611.0 636.3,622.9 638.9,634.1 641.6,644.7 647.0,662.5 655.1,687.5 661.2,704.1 665.3,712.4 669.9,720.7 674.8,728.9 679.8,736.4 684.7,743.0 690.4,749.8 696.8,756.8 702.6,761.6 707.9,764.3 713.2,766.3 718.5,767.6 723.8,769.2 729.1,771.2 732.7,775.5 734.7,782.1 738.7,785.4 744.6,785.4 748.6,787.8 750.6,792.4 754.6,790.7 760.5,782.8 765.1,780.5 768.5,783.8 772.8,786.1 778.0,787.4 782.0,792.7 784.7,802.0 787.3,810.6 789.9,818.5 792.6,822.5 795.2,822.5 798.5,828.1 802.5,839.4 806.2,843.0 809.5,839.0 812.8,838.0 816.1,840.0 819.7,845.0 823.7,852.9 827.3,858.5 830.6,861.8 833.6,866.5 836.2,872.4 838.2,881.3 839.6,893.3 840.2,907.8 840.2,925.0 841.2,938.9 843.2,949.5 845.5,960.7 848.1,972.6 850.5,983.9 852.4,994.4 854.8,1005.7 857.4,1017.6 860.4,1030.2 863.7,1043.4 867.7,1057.1 872.4,1071.4 877.2,1083.5 882.2,1093.5 885.9,1100.7 888.4,1105.4 893.3,1106.6 900.8,1104.4 905.7,1100.5 908.2,1094.7 911.1,1090.6 914.4,1088.1 917.7,1085.2 921.0,1081.9 924.7,1081.5 928.9,1083.9 933.8,1083.9 939.6,1081.5 945.0,1077.3 950.0,1071.5 954.3,1066.6 957.9,1062.5 961.6,1061.2 965.4,1062.9 969.0,1064.9 972.3,1067.4 975.2,1073.6 977.6,1083.5 980.5,1093.5 983.8,1103.4 987.2,1112.5 990.5,1120.7 994.6,1126.1 999.6,1128.6 1004.5,1128.2 1009.5,1124.9 1014.4,1121.6 1019.4,1118.3 1024.4,1116.2 1029.3,1115.4 1033.9,1116.6 1038.0,1119.9 1042.1,1124.0 1046.3,1129.0 1050.0,1134.0 1053.3,1138.9 1057.4,1142.2 1062.4,1143.9 1068.6,1143.5 1076.0,1141.0 1082.6,1141.0 1088.4,1143.5 1093.8,1146.4 1098.8,1149.7 1103.7,1151.7 1108.7,1152.6 1113.6,1152.4 1118.6,1151.2 1123.6,1148.3 1128.5,1143.7 1133.1,1139.7 1137.2,1136.4 1140.9,1133.4 1144.2,1130.6 1148.8,1130.6 1154.6,1133.4 1159.1,1137.7 1162.4,1143.5 1166.6,1150.5 1171.5,1158.8 1176.5,1165.4 1181.4,1170.3 1186.4,1172.4 1191.4,1171.6 1196.3,1170.3 1201.3,1168.7 1206.2,1168.7 1211.2,1170.3 1216.2,1172.8 1221.1,1176.1 1226.9,1178.6 1233.5,1180.3 1239.3,1179.8 1244.3,1177.4 1249.2,1175.3 1254.2,1173.6 1260.0,1172.6 1266.6,1172.1 1273.2,1172.3 1279.8,1173.3 1286.4,1174.4 1293.0,1175.5 1298.8,1177.4 1303.8,1179.8 1308.8,1181.9 1313.7,1183.6 1318.7,1186.5 1323.6,1190.6 1328.6,1194.7 1333.6,1198.9 1337.0,1201.4 1339.0,1202.5 1343.3,1203.6 1349.9,1204.7 1356.5,1205.5 1363.1,1206.0 1368.9,1207.9 1373.9,1211.2 1378.9,1215.4 1383.8,1220.3 1388.4,1224.9 1392.5,1229.0 1396.2,1231.7 1399.5,1233.1 1403.2,1232.7 1407.4,1230.5 1411.9,1226.1 1416.9,1219.5 1421.4,1212.9 1425.6,1206.3 1429.1,1201.6 1432.1,1198.8 1435.4,1198.8 1439.0,1201.6 1442.5,1205.0 1445.8,1209.2 1449.1,1215.0 1452.4,1222.4 1456.2,1229.0 1460.3,1234.8 1464.4,1239.2 1468.6,1242.2 1473.5,1243.4 1479.3,1242.9 1483.8,1242.9 1487.2,1243.4 1492.1,1241.7 1498.7,1237.9 1504.5,1232.7 1509.5,1226.1 1514.4,1219.9 1519.4,1214.1 1525.2,1210.8 1531.8,1210.0 1538.4,1210.8 1545.0,1213.3 1550.8,1216.2 1555.8,1219.5 1561.6,1224.1 1568.2,1229.8 1574.0,1234.1 1578.9,1237.0 1583.9,1238.4 1588.8,1238.4 1593.4,1237.8 1597.5,1236.6 1602.5,1233.2 1608.3,1227.4 1614.5,1222.4 1621.1,1218.3 1627.3,1216.2 1633.1,1216.2 1638.4,1217.0 1643.4,1218.7 1648.0,1218.7 1652.1,1217.0 1657.0,1216.2 1662.8,1216.2 1667.8,1217.0 1671.9,1218.7 1676.1,1220.1 1680.2,1221.2 1685.2,1221.0 1690.9,1219.3 1696.3,1217.4 1701.3,1215.0 1706.2,1212.6 1711.2,1209.9 1716.6,1208.0 1722.4,1206.9 1729.0,1204.6 1736.4,1201.3 1743.4,1197.2 1750.1,1192.2 1756.3,1188.8 1762.0,1186.8 1767.8,1186.4 1773.6,1187.5 1779.0,1189.6 1783.9,1192.6 1789.7,1195.5 1796.3,1198.3 1799.7,1199.7 1799.9,1199.8 1802.9,1202.4 1808.7,1207.5 1813.8,1213.0 1818.2,1218.8 1822.6,1224.6 1826.9,1230.4 1830.9,1234.8 1834.6,1237.7 1838.9,1239.5 1844.0,1240.3 1848.7,1239.2 1853.1,1236.3 1857.5,1233.0 1861.8,1229.4 1866.9,1225.0 1872.8,1219.9 1877.9,1216.3 1882.2,1214.1 1886.2,1212.5 1889.9,1211.5 1894.2,1211.8 1899.3,1213.6 1904.8,1215.5 1910.6,1217.7 1916.4,1218.4 1922.2,1217.7 1927.3,1216.4 1931.7,1214.5 1936.1,1213.6 1940.4,1213.6 1944.8,1214.5 1949.2,1216.4 1954.2,1219.0 1960.1,1222.4 1965.9,1225.1 1971.7,1227.1 1977.5,1228.1 1983.4,1228.1 1988.1,1228.3 1991.7,1228.8 1995.4,1228.0 1999.0,1226.1 2003.0,1225.1 2007.4,1224.8 2011.4,1224.3 2015.0,1223.5 2018.6,1224.3 2022.3,1226.4 2026.3,1227.4 2030.6,1227.1 2035.0,1226.4 2039.4,1225.2 2043.4,1222.8 2047.0,1219.2 2051.0,1215.7 2055.4,1212.5 2059.2,1210.2 2062.6,1208.8 2065.9,1209.1 2069.1,1211.3 2072.8,1214.4 2077.2,1218.3 2081.6,1221.7 2085.9,1224.6 2091.0,1227.0 2096.9,1228.9 2102.7,1229.6 2108.5,1229.2 2114.3,1228.8 2120.1,1228.3 2126.0,1228.3 2131.8,1228.8 2137.6,1228.8 2143.4,1228.3 2149.2,1228.5 2155.1,1229.2 2160.9,1229.8 2166.7,1230.2 2173.3,1229.9 2180.5,1228.9 2186.4,1227.1 2190.7,1224.5 2195.1,1222.1 2199.4,1219.9 2203.8,1218.1 2208.2,1216.6 2210.4,1215.9" fill="none" stroke="#c0c0c0" stroke-width="8.4" stroke-linejoin="round" />
<polyline points="351.9,202.9 352.1,205.8 352.3,208.7 352.6,211.7 352.8,214.8 353.0,217.6 353.2,220.6 353.4,223.6 353.7,226.3 353.9,229.4 354.1,232.3 354.3,235.2 354.6,238.3 354.8,241.1 355.0,244.1 355.2,247.0 355.4,250.0 355.7,252.9 355.9,255.8 356.0,258.8 356.2,261.6 356.3,264.7 356.5,267.7 356.6,270.5 356.8,273.4 356.9,276.4 357.0,279.3 357.2,282.3 357.3,285.3 357.5,288.2 357.6,291.0 357.8,294.1 357.9,297.0 358.1,299.9 358.2,302.9 358.4,305.7 358.5,308.7 359.2,311.6 359.8,314.3 360.5,316.8 361.2,319.2 361.8,322.0 362.5,324.8 363.1,327.0 363.8,329.8 364.5,332.4 365.1,334.9 365.5,338.0 365.8,340.8 366.1,343.7 366.5,346.5 366.8,349.6 367.1,352.2 367.4,355.3 367.8,358.0 368.1,360.8 368.4,364.0 368.8,366.6 369.1,369.7 369.5,372.7 370.0,375.6 370.4,378.2 370.9,381.3 371.3,384.1 371.7,387.4 372.2,390.3 372.6,393.1 373.1,396.0 373.7,398.8 374.4,402.1 375.1,404.7 375.7,407.8 376.4,410.3 377.0,413.3 377.7,416.1 378.4,419.5 379.0,422.3 379.7,424.9 380.0,428.1 380.3,430.8 380.7,433.7 381.0,436.5 381.3,439.4 381.7,442.4 382.0,445.1 382.3,447.9 382.7,450.9 383.0,453.7 383.3,456.8 383.7,459.4 384.1,462.6 384.6,465.1 385.1,468.4 385.6,471.2 386.1,473.8 386.5,476.8 387.0,479.6 387.5,482.5 388.0,485.4 388.5,488.3 388.9,491.5 389.4,494.2 389.9,496.8 390.4,499.0 390.9,501.7 391.4,504.7 391.9,506.9 392.4,509.9 392.9,512.3 393.5,515.4 394.1,517.4 394.7,520.6 395.3,522.9 395.8,525.4 396.4,528.0 397.0,531.2 397.6,533.6 398.2,536.0 399.0,538.8 399.9,541.9 400.7,543.9 401.5,546.9 402.3,549.1 403.2,551.8 404.0,555.0 404.8,557.6 405.9,559.7 407.1,562.2 408.2,564.9 409.3,568.1 410.5,570.6 411.6,573.0 412.8,575.6 414.6,578.3 416.5,580.6 418.3,582.9 420.2,584.6 422.0,585.9 424.7,586.2 427.3,588.9 429.9,588.9 432.2,587.9 434.4,584.6 436.6,584.6 437.9,581.0 439.2,579.0 440.5,576.4 441.9,573.3 443.2,570.4 444.5,569.7 445.8,566.9 447.1,565.4 448.5,562.3 449.3,559.8 450.2,557.7 451.1,554.6 452.0,551.8 452.9,549.3 453.8,546.9 454.6,543.7 455.5,541.6 456.4,538.8 457.1,536.3 457.7,533.3 458.4,531.1 459.0,528.5 459.7,525.9 460.4,522.9 461.0,520.5 461.7,517.6 462.4,515.3 463.0,512.1 463.6,509.7 464.2,506.8 464.8,503.6 465.4,500.7 466.0,497.8 466.5,494.8 467.1,491.6 467.7,489.2 468.3,485.8 468.7,482.9 469.2,479.9 469.6,477.0 470.1,474.4 470.5,471.1 471.0,468.2 471.4,465.5 471.8,462.3 472.3,459.3 472.8,456.7 473.2,453.8 473.7,450.9 474.2,448.1 474.7,444.9 475.2,442.4 475.6,439.4 476.1,436.2 476.6,433.4 477.1,430.7 477.6,427.8 478.0,424.7 478.4,421.7 478.9,418.9 479.3,415.9 479.8,413.1 480.2,410.3 480.7,407.0 481.1,404.3 481.5,401.4 482.0,398.5 482.4,396.2 482.9,393.6 483.3,390.7 483.7,388.1 484.2,385.6 484.6,382.8 485.1,380.1 485.5,377.7 485.9,375.0 486.4,372.1 486.8,369.4 487.3,366.8 487.7,364.3 488.1,361.9 488.6,359.1 489.0,356.6 489.5,353.9 489.9,351.2 490.4,348.2 490.8,345.8 491.2,343.3 491.7,340.7 492.1,337.7 492.6,335.1 493.0,332.6 493.4,329.8 494.0,327.0 494.6,323.8 495.2,321.0 495.8,318.1 496.4,314.9 497.0,312.0 497.6,309.6 498.1,306.5 498.7,303.7 499.3,300.6 499.9,297.7 500.5,294.8 501.1,291.9 501.7,288.5 502.3,285.9 502.8,282.7 503.4,280.0 504.0,276.9 504.7,274.4 505.3,272.0 506.0,269.1 506.7,266.2 507.3,263.8 508.0,261.1 508.7,258.8 509.3,255.7 510.4,253.0 511.4,250.7 512.5,247.5 513.5,245.3 514.6,243.1 516.8,241.3 519.0,239.4 521.2,238.5 522.5,240.7 523.9,242.0 525.2,244.0 526.5,245.9 528.2,248.1 529.8,250.3 531.5,252.1 533.1,254.0 535.1,254.8 537.1,257.3 539.1,259.3 541.1,260.1 543.7,261.3 546.3,262.8 549.0,263.0 551.2,263.0 553.4,261.0 555.6,259.9 557.3,258.0 558.9,255.8 560.6,253.5 562.2,251.4 563.9,249.6 565.5,248.6 567.2,246.6 568.8,245.4 570.2,241.9 571.5,239.7 572.8,237.8 574.1,234.3 575.4,232.6 576.8,230.4 578.1,228.0 579.4,227.0 580.7,223.7 582.4,222.6 584.0,219.5 585.7,217.3 587.4,216.9 589.3,214.0 591.3,211.2 593.3,209.9 595.3,208.1 597.3,206.7 599.3,203.4 601.2,201.7 603.2,201.2 605.2,199.2 607.2,196.2 609.2,194.9 611.2,193.3 613.8,195.0 616.5,195.7 619.1,197.3 619.8,199.0 620.4,201.2 621.1,203.8 621.7,206.2 622.4,208.6 623.1,210.8 623.8,213.7 624.6,216.3 625.3,219.1 626.1,221.1 626.8,224.4 627.6,226.3 628.4,229.6 629.1,232.1 629.9,234.7 630.6,237.7 631.4,240.0 632.1,242.5 632.9,245.5 633.7,248.2 634.3,250.6 635.0,253.1 635.6,255.8 636.3,258.4 637.0,261.3 637.6,263.6 638.3,266.3 638.9,269.1 639.5,271.6 640.1,274.2 640.7,277.2 641.3,279.9 641.9,282.3 642.5,284.9 643.1,287.4 643.6,290.1 644.2,292.6 644.9,295.6 645.6,298.2 646.2,300.5 646.9,303.7 647.5,306.0 648.2,309.0 648.9,311.6 649.5,314.4 650.2,316.5 650.8,319.3 651.5,322.3 652.2,324.2 652.8,326.9 653.5,329.9 654.2,332.5 654.8,335.5 655.4,338.0 656.0,340.5 656.6,343.4 657.2,345.8 657.8,348.4 658.3,351.2 658.9,353.6 659.5,356.3 660.1,359.1 660.8,361.5 661.4,364.6 662.1,367.1 662.8,369.6 663.4,371.9 664.1,374.8 664.7,377.4 665.4,380.2 666.2,382.9 666.9,385.8 667.7,388.5 668.4,390.7 669.2,393.3 669.9,396.1 670.7,399.1 671.3,401.2 672.0,404.0 672.7,406.8 673.3,409.0 674.0,411.8 674.7,414.9 675.3,417.4 676.0,419.9 676.7,422.2 677.5,425.5 678.2,427.9 679.0,430.7 679.8,433.5 680.5,436.0 681.3,438.3 681.9,440.8 682.6,443.5 683.3,446.3 683.9,448.9 684.6,451.4 685.2,454.0 685.9,457.0 686.6,459.6 687.5,462.0 688.5,465.3 689.4,467.6 690.3,469.6 691.3,472.7 692.2,475.7 693.2,477.8 694.1,480.9 695.1,482.8 696.0,485.8 697.0,489.0 697.9,491.4 698.8,494.1 699.8,496.3 700.9,499.2 702.0,501.9 703.1,504.2 704.2,507.3 705.3,509.8 706.4,513.0 707.5,515.2 708.6,517.6 709.7,519.9 710.8,522.6 711.9,526.0 713.0,527.9 714.1,530.5 715.3,533.2 716.4,536.3 717.6,539.3 718.7,541.7 719.8,544.5 721.0,546.3 722.3,548.3 723.6,551.7 724.9,553.2 726.2,556.0 727.6,557.6 728.9,559.5 730.2,562.4 731.5,564.8 732.9,568.5 734.2,570.7 735.6,572.7 737.1,575.2 738.5,577.4 740.0,579.2 741.2,582.7 742.3,584.5 743.7,587.3 745.0,588.7 746.3,591.2 747.6,592.8 748.9,594.7 750.3,598.3 751.8,600.4 753.4,601.7 754.9,604.9 756.4,607.0 758.0,608.3 759.5,611.0 761.5,614.0 763.5,615.2 765.5,618.4 767.5,619.1 769.4,621.6 771.4,624.5 773.2,625.8 775.0,628.1 776.7,631.4 778.5,632.9 780.2,635.6 782.0,636.8 784.7,637.0 787.3,638.2 789.9,638.4 792.6,641.3 794.7,641.3 796.8,643.8 798.9,644.6 801.1,647.4 803.2,648.9 805.8,650.3 808.5,650.7 811.1,652.2 813.8,655.4 816.4,655.4 817.7,658.1 819.0,660.7 820.4,663.5 821.7,666.0 823.0,668.4 824.3,671.9 826.3,673.3 828.3,674.9 830.3,678.1 832.3,678.8 833.4,682.0 834.5,685.3 835.6,687.1 836.7,690.1 837.8,693.2 838.9,695.9 840.2,697.7 841.5,700.6 842.9,703.7 844.2,705.9 845.5,709.3 846.8,711.0 848.4,714.5 849.9,716.2 851.5,718.2 853.0,721.0 854.5,722.9 856.1,726.3 857.2,728.1 858.3,731.3 859.4,733.3 860.5,735.5 861.6,737.7 862.7,740.6 863.8,742.8 864.9,746.2 866.0,748.0 867.1,751.1 868.2,753.8 869.3,756.1 870.6,759.4 872.0,761.5 873.3,764.5 874.6,767.0 875.9,769.3 876.9,771.9 877.8,774.0 878.8,776.6 879.7,779.8 880.7,781.7 881.6,784.5 882.5,786.4 883.9,784.2 885.2,781.3 886.5,778.8 887.8,775.9 889.2,773.0 890.5,770.6 891.1,773.5 891.7,776.2 892.3,779.3 892.9,781.8 893.5,784.7 894.1,787.8 894.7,790.4 895.3,793.3 895.9,796.0 896.5,798.3 897.1,801.2 899.1,798.7 901.1,798.7 903.0,797.1 905.0,794.8 907.0,793.4 909.0,792.4 910.3,794.7 911.6,796.5 913.0,799.7 914.3,801.4 915.6,804.2 916.1,806.4 916.6,809.0 917.1,812.1 917.6,814.7 918.1,817.3 918.6,819.6 919.1,822.2 919.6,824.9 920.4,822.1 921.2,819.3 922.1,816.6 922.9,813.5 923.7,810.9 924.5,808.4 925.4,805.2 926.2,802.9 928.8,802.2 931.5,802.0 934.1,799.9 936.8,799.8 938.1,802.7 939.4,804.6 940.7,806.6 942.1,810.2 943.4,812.5 944.7,814.2 945.8,816.4 946.8,819.7 947.9,821.8 948.9,823.5 950.0,826.1 951.3,828.3 952.6,831.7 954.0,833.3 955.3,836.8 956.6,838.9 957.9,840.4 958.4,843.8 958.9,846.2 959.4,849.1 959.9,851.8 960.4,854.1 960.9,856.7 961.4,859.8 961.9,862.1 962.0,865.1 962.1,868.0 962.3,870.9 962.4,873.8 962.5,876.6 962.6,879.5 962.7,882.3 962.9,885.3 963.0,888.1 963.1,891.0 963.2,894.0 965.1,895.0 966.9,898.2 968.8,898.5 970.6,901.8 972.5,903.8 975.1,903.9 977.8,905.9 980.4,908.4 983.1,908.8 985.7,909.6 988.4,909.7 991.0,910.2 993.7,912.0 994.7,909.9 995.8,907.3 996.8,905.1 997.9,902.5 998.9,900.8 999.8,903.3 1000.6,905.6 1001.4,908.2 1002.2,911.1 1003.1,913.7 1003.9,916.8 1004.7,918.9 1005.6,921.5 1007.9,924.3 1010.2,924.1 1012.5,926.8 1014.8,927.9 1017.5,930.2 1020.1,930.4 1022.8,932.0 1025.4,931.3 1026.7,934.9 1028.0,937.2 1029.4,939.4 1030.7,942.2 1032.0,944.7 1032.5,946.8 1032.9,949.6 1033.4,952.4 1033.8,955.2 1034.3,957.9 1034.7,960.7 1035.2,963.5 1035.6,966.5 1036.1,969.2 1036.5,971.8 1037.0,969.0 1037.5,966.3 1038.0,963.4 1038.5,960.4 1039.0,957.6 1039.5,954.7 1039.9,952.4 1041.8,954.3 1043.7,954.3 1045.5,957.4 1047.4,959.6 1049.2,960.2 1051.2,961.2 1053.2,964.0 1055.2,965.9 1057.1,967.3 1059.8,969.3 1062.4,969.0 1065.1,972.7 1067.7,973.1 1070.4,973.1 1073.0,974.1 1075.7,973.2 1077.6,974.0 1079.6,975.8 1081.6,977.3 1083.6,978.8 1086.2,980.4 1088.9,980.2 1091.5,978.3 1094.2,977.6 1096.1,978.1 1098.1,977.8 1100.0,977.1 1101.1,977.6 1102.3,980.5 1103.4,982.7 1104.6,984.7 1107.0,985.5 1109.5,986.8 1112.0,990.1 1114.5,990.5 1117.0,991.0 1119.4,991.9 1121.9,991.8 1124.4,993.6 1126.9,993.1 1129.4,993.8 1131.8,996.5 1134.3,997.9 1136.8,999.3 1139.3,999.8 1141.8,1001.2 1144.2,1002.1 1146.9,1000.8 1149.5,1000.9 1152.2,999.8 1154.8,1000.3 1157.5,1001.1 1159.1,1002.0 1160.8,1005.2 1162.4,1006.2 1164.1,1008.7 1165.7,1011.7 1166.6,1007.7 1167.4,1004.9 1168.2,1002.5 1169.0,999.5 1169.9,997.2 1170.7,993.8 1172.3,997.0 1174.0,999.0 1175.6,1001.0 1177.3,1002.4 1179.5,1000.8 1181.7,1000.7 1183.9,999.2 1186.1,999.5 1188.3,999.8 1190.5,1000.7 1192.7,1000.8 1194.9,1000.7 1197.1,1000.4 1199.3,998.2 1201.6,998.6 1203.8,999.0 1204.1,996.3 1204.4,993.4 1204.7,990.4 1205.1,987.5 1205.4,984.7 1205.7,981.8 1206.1,979.1 1206.4,976.2 1206.7,973.4 1207.1,970.6 1207.4,967.7 1207.7,964.8 1208.1,962.0 1208.4,958.9 1208.7,956.3 1209.1,959.2 1209.5,961.9 1210.0,964.9 1210.4,968.0 1210.8,970.7 1211.2,973.6 1211.6,976.4 1212.0,979.3 1213.3,982.4 1214.5,983.7 1215.7,986.4 1217.0,989.5 1217.5,992.0 1218.1,994.6 1218.6,997.6 1219.2,1000.2 1219.7,1003.1 1220.3,1005.8 1222.8,1006.7 1225.3,1007.7 1227.7,1008.0 1230.2,1008.0 1232.3,1009.5 1234.3,1012.6 1236.4,1013.0 1238.5,1013.1 1239.9,1017.1 1241.3,1018.7 1242.7,1020.9 1244.1,1024.1 1245.0,1026.2 1245.9,1029.0 1246.8,1031.5 1247.7,1033.6 1248.5,1031.7 1249.3,1028.9 1250.1,1027.0 1250.9,1024.8 1251.7,1021.9 1254.5,1022.6 1257.2,1022.2 1260.0,1023.8 1262.5,1025.5 1264.9,1025.0 1267.4,1025.9 1269.9,1026.4 1272.4,1024.8 1274.9,1027.6 1277.3,1027.1 1279.8,1025.5 1282.3,1028.0 1284.8,1027.2 1287.3,1026.9 1289.7,1029.7 1292.2,1029.5 1294.7,1031.1 1297.2,1030.3 1299.7,1033.0 1302.1,1032.8 1304.6,1034.9 1307.1,1036.9 1309.6,1037.7 1312.1,1039.8 1314.5,1039.4 1317.0,1040.3 1319.5,1042.1 1322.0,1042.1 1324.5,1044.1 1326.9,1044.1 1329.4,1045.6 1332.1,1045.2 1334.7,1046.8 1337.4,1047.1 1340.0,1045.6 1342.6,1047.7 1345.3,1046.9 1347.9,1048.5 1350.6,1048.7 1353.2,1049.5 1355.9,1047.8 1358.5,1048.8 1361.2,1050.2 1363.8,1051.2 1366.5,1050.9 1369.1,1049.2 1371.7,1051.2 1374.4,1050.0 1377.0,1051.7 1379.7,1052.8 1382.2,1051.6 1384.6,1054.7 1387.1,1054.8 1389.6,1054.5 1392.1,1054.6 1394.6,1055.7 1397.0,1057.2 1399.5,1056.7 1400.8,1058.2 1402.0,1060.4 1403.2,1062.9 1404.5,1066.2 1406.7,1066.6 1408.9,1069.2 1411.1,1070.2 1411.8,1073.3 1412.5,1075.6 1413.2,1077.8 1414.0,1080.9 1414.7,1083.1 1415.4,1085.7 1416.1,1088.3 1416.7,1090.9 1417.4,1092.6 1418.0,1095.4 1418.7,1097.7 1419.4,1100.5 1419.8,1098.1 1420.3,1095.4 1420.8,1092.4 1421.3,1089.9 1421.7,1087.6 1422.2,1085.0 1422.7,1082.2 1425.2,1082.6 1427.6,1082.1 1430.1,1084.5 1432.6,1083.6 1435.1,1085.4 1437.6,1085.1 1440.0,1083.9 1442.5,1085.1 1445.0,1085.6 1447.5,1088.4 1450.0,1088.3 1452.4,1087.6 1454.6,1089.1 1456.8,1090.7 1459.0,1092.1 1461.8,1092.4 1464.6,1091.9 1467.3,1091.8 1467.5,1089.5 1467.6,1087.0 1467.7,1084.4 1467.9,1081.7 1468.0,1079.2 1468.2,1076.7 1468.3,1073.9 1470.7,1073.3 1473.2,1075.2 1475.6,1074.3 1478.1,1075.8 1480.5,1077.8 1483.0,1078.6 1485.5,1080.8 1488.0,1081.5 1490.5,1083.6 1492.9,1084.5 1495.4,1082.6 1497.9,1085.2 1500.4,1086.8 1502.9,1088.2 1505.3,1089.0 1508.0,1089.4 1510.6,1090.2 1513.3,1090.2 1515.9,1090.8 1518.6,1093.0 1521.2,1093.9 1523.9,1094.8 1526.5,1094.7 1529.2,1094.3 1531.8,1096.3 1534.3,1097.0 1536.8,1097.2 1539.2,1098.4 1541.7,1098.4 1544.2,1100.2 1546.7,1101.0 1549.2,1101.4 1551.6,1103.3 1554.3,1103.9 1556.9,1106.5 1559.6,1105.7 1562.2,1106.0 1564.9,1106.3 1567.5,1107.1 1570.2,1108.2 1572.8,1108.4 1575.4,1108.8 1578.1,1112.1 1580.7,1111.4 1583.4,1111.9 1586.0,1112.8 1588.7,1112.6 1591.3,1112.7 1594.0,1112.9 1596.6,1114.2 1599.3,1114.7 1601.9,1116.5 1604.6,1116.5 1606.9,1118.3 1609.2,1117.2 1611.5,1119.5 1613.8,1119.2 1616.1,1118.4 1619.0,1118.3 1621.9,1119.1 1624.8,1119.9 1627.7,1117.6 1630.2,1119.0 1632.7,1118.1 1635.1,1119.6 1637.6,1117.4 1639.8,1119.5 1642.0,1121.5 1644.2,1120.7 1647.0,1119.5 1649.7,1117.8 1652.5,1117.1 1655.0,1119.1 1657.5,1121.8 1660.2,1119.6 1663.0,1119.2 1665.7,1117.8 1668.5,1119.8 1671.2,1121.5 1674.0,1121.7 1676.5,1120.6 1679.0,1122.3 1681.4,1123.2 1683.9,1122.3 1686.0,1122.1 1688.0,1125.2 1690.1,1126.6 1692.2,1126.5 1694.4,1124.8 1696.6,1123.9 1698.8,1123.7 1701.0,1125.3 1703.2,1125.1 1705.4,1126.5 1706.7,1127.4 1707.9,1130.0 1709.1,1133.0 1710.4,1135.4 1711.6,1133.0 1712.9,1131.3 1714.1,1128.7 1715.3,1126.2 1716.6,1128.9 1717.8,1130.4 1719.1,1133.3 1720.3,1134.9 1720.7,1137.7 1721.1,1140.2 1721.4,1142.5 1721.8,1145.1 1722.2,1147.4 1722.6,1150.3 1722.9,1147.4 1723.3,1144.9 1723.6,1141.8 1723.9,1139.4 1724.3,1136.7 1724.6,1133.9 1724.9,1131.1 1725.3,1128.4 1728.0,1127.0 1730.8,1128.3 1733.5,1125.7 1735.6,1129.0 1737.7,1129.2 1739.7,1130.7 1741.8,1132.1 1744.0,1130.4 1746.2,1128.9 1748.4,1127.2 1750.7,1127.4 1753.0,1129.6 1755.3,1129.2 1757.7,1131.5 1760.0,1132.6 1762.6,1132.4 1765.3,1130.6 1767.9,1131.7 1770.6,1132.0 1773.2,1130.1 1775.7,1130.7 1778.2,1132.4 1780.6,1134.7 1783.1,1133.5 1785.6,1134.6 1788.1,1137.3 1790.6,1139.1 1793.0,1140.9 1795.4,1139.3 1797.7,1140.7 1800.0,1138.0 1802.2,1140.9 1804.4,1140.7 1806.5,1142.0 1808.7,1143.7 1810.2,1145.7 1811.6,1148.5 1813.1,1150.5 1813.8,1153.1 1814.6,1156.5 1815.3,1159.0 1816.0,1161.8 1816.4,1159.2 1816.8,1156.8 1817.3,1154.1 1817.7,1151.1 1818.1,1148.3 1818.5,1146.0 1818.9,1143.0 1821.5,1145.3 1824.0,1144.6 1826.6,1145.7 1829.1,1145.6 1832.0,1147.3 1834.9,1146.7 1837.8,1146.6 1840.7,1148.7 1843.2,1146.8 1845.6,1149.2 1848.0,1147.7 1848.7,1151.7 1849.5,1154.2 1850.2,1157.2 1850.9,1159.3 1851.7,1162.3 1852.4,1164.9 1853.8,1167.3 1855.3,1168.8 1856.8,1169.6 1857.7,1167.0 1858.7,1165.1 1859.7,1163.2 1860.4,1165.6 1861.1,1167.6 1861.8,1169.8 1862.6,1172.5 1863.2,1169.4 1863.8,1166.3 1864.4,1163.8 1865.0,1160.4 1865.7,1157.7 1866.3,1154.6 1866.9,1152.1 1867.5,1149.2 1870.3,1148.3 1873.1,1149.7 1875.8,1149.9 1878.6,1148.3 1881.5,1148.0 1884.4,1147.9 1887.3,1148.7 1890.2,1146.0 1893.1,1147.1 1896.0,1146.3 1898.4,1145.0 1900.7,1144.5 1903.0,1144.5 1905.4,1141.7 1907.7,1142.8 1910.6,1142.0 1913.5,1143.9 1916.4,1144.9 1919.3,1143.7 1922.2,1146.1 1925.1,1147.0 1928.1,1145.4 1930.0,1147.0 1931.9,1149.1 1933.9,1152.9 1935.8,1149.4 1937.8,1150.6 1939.7,1147.5 1942.6,1149.1 1945.5,1147.2 1948.4,1147.4 1951.3,1148.9 1954.2,1147.7 1957.2,1148.9 1960.1,1151.1 1963.0,1151.0 1964.7,1153.0 1966.5,1154.9 1968.2,1154.7 1970.0,1156.8 1971.7,1159.8 1973.9,1161.1 1976.1,1160.9 1978.3,1163.5 1980.4,1164.3 1982.8,1165.6 1985.1,1165.6 1987.4,1166.2 1989.8,1169.8 1992.1,1168.8 1994.0,1168.8 1996.0,1165.5 1997.9,1164.9 2000.1,1165.1 2002.3,1167.0 2004.5,1167.4 2006.6,1169.8 2008.8,1169.1 2011.0,1171.5 2013.2,1171.5 2015.4,1171.1 2016.2,1169.8 2017.1,1167.6 2018.0,1165.7 2018.9,1162.8 2019.7,1160.3 2022.6,1161.8 2025.6,1161.4 2028.5,1160.7 2030.9,1161.1 2033.3,1162.5 2035.7,1164.4 2036.2,1167.5 2036.6,1170.2 2037.0,1173.1 2037.4,1175.7 2037.8,1178.5 2038.2,1181.1 2038.6,1183.7 2040.1,1185.7 2041.6,1187.1 2043.5,1185.9 2045.4,1185.0 2047.4,1184.4 2048.1,1181.6 2048.8,1178.8 2049.6,1176.0 2050.3,1173.1 2051.0,1170.4 2051.7,1167.8 2054.2,1170.2 2056.6,1169.5 2059.0,1170.5 2061.0,1169.6 2062.9,1167.9 2064.8,1169.2 2066.7,1168.6 2068.5,1171.7 2070.3,1174.2 2072.1,1174.6 2073.2,1173.0 2074.3,1170.3 2075.4,1167.8 2076.5,1165.4 2079.4,1164.8 2082.3,1167.2 2085.2,1167.1 2088.1,1167.6 2090.1,1166.2 2092.0,1168.9 2093.9,1168.9 2096.4,1169.3 2098.8,1168.5 2101.2,1167.3 2103.0,1170.4 2104.9,1169.6 2106.7,1172.8 2108.5,1174.5 2110.4,1175.2 2112.4,1176.8 2114.3,1179.2 2116.3,1178.3 2118.2,1180.3 2120.1,1181.6 2122.3,1179.5 2124.5,1179.4 2126.7,1177.4 2128.9,1176.7 2131.1,1177.6 2133.2,1178.6 2135.4,1178.3 2137.6,1179.9 2139.8,1180.7 2142.0,1181.0 2144.2,1183.1 2146.3,1183.2 2148.3,1185.9 2150.2,1185.7 2152.2,1187.4 2152.9,1189.4 2153.6,1191.9 2154.3,1194.2 2155.1,1196.7 2155.8,1194.9 2156.5,1192.1 2157.2,1189.7 2158.0,1187.3 2158.7,1185.1 2159.4,1182.2 2161.9,1181.9 2164.3,1184.3 2166.7,1183.8 2169.1,1185.2 2171.6,1186.7 2174.0,1187.9 2176.5,1187.5 2179.1,1184.7 2181.6,1185.3 2184.2,1186.3 2186.4,1187.9 2188.5,1188.1 2190.7,1190.0 2192.9,1192.0 2194.4,1189.6 2195.8,1187.5 2197.3,1185.8 2199.9,1185.7 2202.5,1185.8 2205.1,1185.0 2207.7,1186.2 2210.4,1188.3" fill="none" stroke="#0000ff" stroke-width="8.8" stroke-linejoin="round" />
</g>
<text x="1284.5" y="1715.0" font-family="'Liberation Serif',serif" font-size="93" text-anchor="middle" textLength="654" lengthAdjust="spacing">Wavelength (nm)</text>
<text transform="translate(107,735.5) rotate(-90)" font-family="'Liberation Serif',serif" font-size="93" text-anchor="middle" textLength="639" lengthAdjust="spacing">Absorption (a.u.)</text>
<line x1="993.0" y1="230.9" x2="1158.0" y2="230.9" stroke="#000" stroke-width="8" stroke-linecap="round"/>
<text x="1177.0" y="255.2" font-family="'Liberation Serif',serif" font-size="74" text-anchor="start" >Quartz</text>
<line x1="993.0" y1="321.3" x2="1158.0" y2="321.3" stroke="#ff0000" stroke-width="8" stroke-linecap="round"/>
<text x="1177.0" y="345.6" font-family="'Liberation Serif',serif" font-size="74" text-anchor="start" >Quartz/SWNT</text>
<line x1="993.0" y1="411.9" x2="1158.0" y2="411.9" stroke="#c0c0c0" stroke-width="8" stroke-linecap="round"/>
<text x="1177.0" y="436.2" font-family="'Liberation Serif',serif" font-size="74" text-anchor="start" >Quartz/SWNT/Pbase</text>
<line x1="993.0" y1="502.0" x2="1158.0" y2="502.0" stroke="#0000ff" stroke-width="8" stroke-linecap="round"/>
<text x="1177.0" y="526.3" font-family="'Liberation Serif',serif" font-size="74" text-anchor="start" >Quartz/SWNT/Pbase/DNAzyme</text>
<text x="2019.5" y="256.0" font-family="'Liberation Sans',sans-serif" font-size="97" text-anchor="middle" >A</text>
</g>
<g id="chartB">
<polyline points="350.8,3414.25 350.8,2033.0 2108.5,2033.0 2108.5,3414.25" fill="none" stroke="#000" stroke-width="6.5" stroke-linejoin="miter"/>
<line x1="350.8" y1="3411.0" x2="586.0" y2="3411.0" stroke="#000" stroke-width="6" stroke-linecap="butt"/>
<line x1="616.0" y1="3411.0" x2="2108.5" y2="3411.0" stroke="#000" stroke-width="6" stroke-linecap="butt"/>
<line x1="570.6" y1="3439.7" x2="601.1" y2="3383.3" stroke="#000" stroke-width="6.2" stroke-linecap="round"/>
<line x1="600.8" y1="3439.7" x2="631.7" y2="3383.3" stroke="#000" stroke-width="6.2" stroke-linecap="round"/>
<line x1="350.5" y1="3411.0" x2="350.5" y2="3438.0" stroke="#000" stroke-width="6.5" stroke-linecap="round"/>
<text x="350.5" y="3504.6" font-family="'Liberation Sans',sans-serif" font-size="58.5" text-anchor="middle" >100</text>
<line x1="507.0" y1="3411.0" x2="507.0" y2="3438.0" stroke="#000" stroke-width="6.5" stroke-linecap="round"/>
<text x="507.0" y="3504.6" font-family="'Liberation Sans',sans-serif" font-size="58.5" text-anchor="middle" >200</text>
<line x1="865.5" y1="3411.0" x2="865.5" y2="3438.0" stroke="#000" stroke-width="6.5" stroke-linecap="round"/>
<text x="865.5" y="3504.6" font-family="'Liberation Sans',sans-serif" font-size="58.5" text-anchor="middle" >1500</text>
<line x1="1176.2" y1="3411.0" x2="1176.2" y2="3438.0" stroke="#000" stroke-width="6.5" stroke-linecap="round"/>
<text x="1176.2" y="3504.6" font-family="'Liberation Sans',sans-serif" font-size="58.5" text-anchor="middle" >2000</text>
<line x1="1487.0" y1="3411.0" x2="1487.0" y2="3438.0" stroke="#000" stroke-width="6.5" stroke-linecap="round"/>
<text x="1487.0" y="3504.6" font-family="'Liberation Sans',sans-serif" font-size="58.5" text-anchor="middle" >2500</text>
<line x1="1797.8" y1="3411.0" x2="1797.8" y2="3438.0" stroke="#000" stroke-width="6.5" stroke-linecap="round"/>
<text x="1797.8" y="3504.6" font-family="'Liberation Sans',sans-serif" font-size="58.5" text-anchor="middle" >3000</text>
<line x1="2108.5" y1="3411.0" x2="2108.5" y2="3438.0" stroke="#000" stroke-width="6.5" stroke-linecap="round"/>
<text x="2108.5" y="3504.6" font-family="'Liberation Sans',sans-serif" font-size="58.5" text-anchor="middle" >3500</text>
<line x1="428.8" y1="3411.0" x2="428.8" y2="3424.5" stroke="#000" stroke-width="6.5" stroke-linecap="round"/>
<line x1="710.1" y1="3411.0" x2="710.1" y2="3424.5" stroke="#000" stroke-width="6.5" stroke-linecap="round"/>
<line x1="1020.9" y1="3411.0" x2="1020.9" y2="3424.5" stroke="#000" stroke-width="6.5" stroke-linecap="round"/>
<line x1="1331.6" y1="3411.0" x2="1331.6" y2="3424.5" stroke="#000" stroke-width="6.5" stroke-linecap="round"/>
<line x1="1642.4" y1="3411.0" x2="1642.4" y2="3424.5" stroke="#000" stroke-width="6.5" stroke-linecap="round"/>
<line x1="1953.1" y1="3411.0" x2="1953.1" y2="3424.5" stroke="#000" stroke-width="6.5" stroke-linecap="round"/>
<clipPath id="cb"><rect x="350.4" y="2033" width="1754.8" height="1378"/></clipPath>
<g clip-path="url(#cb)">
<polyline points="350.5,3295.0 586.8,3295.0" fill="none" stroke="#000" stroke-width="9" stroke-linejoin="round" />
<polyline points="350.6,3279.9 353.4,3280.2 356.2,3279.8 359.0,3279.9 361.9,3280.3 364.7,3280.3 367.5,3279.4 370.3,3280.1 373.2,3279.7 376.0,3279.9 378.8,3279.5 381.6,3279.7 384.4,3279.7 387.3,3279.7 390.1,3279.2 392.9,3279.5 395.6,3279.7 398.2,3278.7 400.8,3278.5 403.5,3279.0 406.1,3278.1 408.8,3277.8 411.4,3277.4 414.1,3277.1 416.7,3275.0 419.4,3274.6 422.0,3273.7 424.0,3271.3 426.0,3269.9 428.0,3268.6 429.9,3266.8 431.6,3264.2 433.3,3261.7 434.9,3259.7 436.6,3257.3 438.8,3256.3 441.0,3254.5 443.2,3253.3 445.4,3254.5 447.6,3255.6 449.8,3255.9 451.6,3257.3 453.3,3258.8 455.1,3260.5 456.9,3258.1 458.8,3257.4 460.6,3255.5 462.5,3253.6 464.3,3252.3 466.0,3250.0 467.6,3247.8 469.3,3246.4 471.0,3244.1 473.6,3242.9 476.2,3241.5 478.4,3243.3 480.7,3244.5 482.9,3244.9 484.5,3247.9 486.2,3250.1 487.8,3252.4 489.5,3255.0 491.8,3256.0 494.1,3257.4 496.4,3259.2 498.7,3260.0 500.1,3262.4 501.4,3264.8 502.7,3267.4 504.0,3269.7 505.3,3272.1 507.2,3273.4 509.0,3274.6 510.9,3276.9 512.8,3278.4 514.6,3280.2 517.2,3280.9 519.9,3280.7 522.5,3281.5 525.2,3282.0 528.1,3283.0 531.1,3282.1 534.0,3282.1 536.9,3283.0 539.9,3282.8 542.8,3282.1 545.7,3283.1 548.7,3283.1 551.6,3282.9 554.5,3282.3 557.5,3283.2 560.4,3282.9 563.3,3283.1 566.3,3283.8 569.2,3283.6 572.1,3283.7 575.1,3282.7 578.0,3283.0 581.0,3283.3 583.9,3282.6 586.8,3284.0" fill="none" stroke="#ff0000" stroke-width="9" stroke-linejoin="round" />
<polyline points="350.6,3286.5 353.4,3286.3 356.2,3286.4 359.0,3286.5 361.9,3286.5 364.7,3287.1 367.5,3286.9 370.3,3286.9 373.2,3286.9 376.0,3286.5 378.8,3286.8 381.6,3287.5 384.4,3287.4 387.3,3287.6 390.1,3287.0 392.9,3287.0 395.6,3286.6 398.2,3286.7 400.8,3286.3 403.5,3286.1 406.1,3285.8 408.8,3285.6 411.4,3285.1 414.1,3284.8 416.7,3283.6 419.4,3283.6 422.0,3282.6 424.0,3281.0 426.0,3280.0 428.0,3279.0 429.9,3277.7 431.6,3276.0 433.3,3274.1 434.9,3272.3 436.6,3270.8 438.5,3268.8 440.5,3267.5 442.5,3265.9 444.5,3264.1 446.7,3265.3 448.9,3267.0 451.1,3267.9 453.8,3269.0 456.4,3268.9 458.4,3267.3 460.4,3265.4 462.4,3263.0 464.3,3261.6 465.7,3259.0 467.0,3257.2 468.3,3254.9 469.6,3253.1 471.0,3250.8 472.7,3249.2 474.5,3247.3 476.2,3245.6 478.4,3247.0 480.7,3248.0 482.9,3249.2 484.4,3252.0 486.0,3254.0 487.6,3256.8 489.2,3258.8 490.8,3261.2 492.4,3263.2 494.0,3265.8 495.6,3268.0 497.1,3269.8 498.7,3272.1 500.1,3273.9 501.4,3276.4 502.7,3278.4 504.0,3280.2 505.3,3282.3 507.7,3284.0 510.0,3284.8 512.3,3286.8 514.6,3287.7 517.2,3288.1 519.9,3289.0 522.5,3289.2 525.2,3290.0 528.1,3289.7 531.1,3290.6 534.0,3290.1 536.9,3290.8 539.9,3290.2 542.8,3291.0 545.8,3291.2 548.7,3290.8 551.6,3290.5 554.6,3291.0 557.5,3291.3 560.4,3290.9 563.4,3291.3 566.3,3290.9 569.2,3291.4 572.2,3291.7 575.1,3291.5 578.0,3291.8 581.0,3291.3 583.9,3292.1 586.8,3291.4" fill="none" stroke="#c0c0c0" stroke-width="9" stroke-linejoin="round" />
<polyline points="350.6,3280.7 353.2,3281.4 355.9,3281.6 358.5,3281.6 361.2,3281.1 363.8,3280.8 366.5,3281.0 369.4,3281.5 372.3,3281.0 375.3,3281.6 378.2,3280.3 381.2,3280.8 384.1,3281.2 387.0,3280.7 390.0,3280.6 392.9,3279.8 395.6,3279.7 398.2,3279.6 400.8,3280.2 403.5,3279.8 406.1,3278.7 408.8,3279.4 411.4,3277.9 414.1,3277.7 416.7,3277.2 419.4,3275.4 422.0,3275.2 424.0,3273.5 426.0,3271.4 428.0,3270.4 429.9,3269.3 431.6,3267.4 433.3,3266.2 434.9,3264.0 436.6,3263.0 438.8,3261.0 441.0,3259.2 443.2,3258.3 445.8,3257.9 448.5,3258.8 450.4,3260.7 452.4,3262.1 454.4,3263.6 456.4,3264.8 458.4,3264.0 460.4,3262.2 462.4,3261.5 464.3,3259.6 466.5,3258.4 468.7,3256.4 471.0,3254.6 473.6,3253.6 476.2,3251.7 478.4,3253.5 480.7,3256.1 482.9,3257.2 484.8,3259.1 486.8,3260.5 488.8,3261.4 490.8,3262.3 492.8,3263.5 494.8,3265.8 496.7,3266.2 498.7,3268.0 500.4,3270.0 502.0,3271.6 503.7,3273.9 505.3,3275.6 507.7,3277.0 510.0,3277.9 512.3,3278.7 514.6,3279.5 517.2,3280.4 519.9,3280.8 522.5,3281.4 525.2,3282.2 528.1,3283.1 531.1,3282.5 534.0,3283.1 536.9,3281.9 539.9,3283.2 542.8,3282.5 545.8,3282.9 548.7,3282.6 551.6,3282.8 554.6,3282.2 557.5,3283.0 560.4,3282.3 563.4,3282.5 566.3,3282.2 569.2,3282.8 572.2,3283.0 575.1,3282.8 578.0,3283.7 581.0,3282.6 583.9,3283.4 586.8,3283.0" fill="none" stroke="#0000ff" stroke-width="9" stroke-linejoin="round" />
<polyline points="615.9,3292.9 618.8,3293.0 621.6,3293.1 624.4,3293.1 627.2,3292.4 630.1,3292.6 632.9,3293.0 635.7,3293.3 638.6,3292.4 641.4,3293.0 644.2,3293.0 647.2,3293.0 650.1,3292.4 653.1,3292.7 656.0,3292.2 658.9,3292.5 661.9,3291.5 664.8,3292.3 667.7,3291.6 670.7,3291.4 673.0,3291.3 675.3,3291.5 677.7,3292.2 680.0,3292.2 682.9,3291.4 685.9,3291.2 688.8,3290.6 691.8,3290.4 694.7,3290.0 697.6,3289.8 700.6,3290.1 703.5,3289.7 706.5,3289.2 709.1,3288.3 711.7,3287.8 714.4,3287.6 717.0,3287.2 719.7,3286.5 722.3,3285.8 725.0,3284.9 727.6,3284.8 729.9,3283.6 732.2,3282.3 734.4,3280.3 736.7,3279.6 739.0,3277.9 741.2,3276.4 743.5,3275.8 745.3,3273.3 747.0,3271.1 748.8,3268.6 750.5,3266.8 752.3,3264.6 754.1,3262.4 755.1,3259.6 756.1,3257.0 757.1,3254.3 758.0,3251.6 759.0,3248.9 760.0,3246.4 761.0,3243.8 762.0,3241.1 764.3,3239.2 766.6,3238.1 769.0,3236.1 771.3,3234.8 773.3,3235.7 775.2,3238.1 777.2,3239.6 779.2,3240.8 780.3,3243.8 781.4,3246.2 782.5,3248.8 783.6,3251.6 784.7,3254.1 785.8,3256.9 787.1,3259.3 788.5,3261.4 789.8,3263.6 791.1,3265.6 792.4,3268.0 793.8,3270.3 795.9,3272.4 798.0,3274.7 800.1,3276.7 802.2,3278.5 804.3,3280.4 807.0,3281.9 809.6,3283.1 812.3,3283.7 814.9,3285.0 817.6,3286.3 820.2,3286.6 822.9,3286.1 825.5,3287.0 828.1,3286.8 830.8,3287.2 833.4,3288.3 836.1,3288.2 838.7,3288.7 841.7,3288.6 844.6,3288.5 847.5,3288.3 850.5,3288.5 853.4,3289.0 856.4,3288.7 859.3,3288.4 862.2,3288.2 865.2,3288.4 867.8,3288.3 870.5,3287.4 873.1,3287.1 875.8,3286.7 878.4,3285.4 881.1,3285.4 883.7,3284.2 886.3,3283.9 889.0,3282.2 891.6,3281.3 894.3,3280.8 896.9,3279.2 899.0,3277.6 901.2,3276.5 903.3,3274.7 905.4,3273.3 907.5,3271.3 909.5,3269.8 911.5,3268.5 913.5,3266.5 915.4,3265.2 918.1,3263.5 920.7,3263.0 923.4,3261.3 926.0,3262.5 928.7,3262.7 931.3,3263.7 934.0,3265.2 936.0,3266.4 937.9,3268.4 939.9,3269.6 941.9,3271.3 943.5,3273.6 945.1,3276.2 946.7,3278.8 948.3,3281.0 949.8,3283.3 952.0,3285.0 954.1,3286.3 956.2,3287.4 958.3,3288.3 960.4,3290.1 963.1,3290.4 965.7,3291.5 968.4,3291.4 971.0,3292.2 973.7,3292.7 976.3,3293.0 979.2,3293.2 982.0,3293.4 984.9,3293.7 987.8,3293.4 990.6,3293.3 993.5,3294.0 996.4,3293.1 999.2,3294.0 1002.1,3293.9 1005.0,3293.8 1007.8,3293.8 1010.7,3294.2 1013.5,3294.3 1016.4,3294.2 1019.2,3294.3 1022.0,3293.6 1024.9,3293.9 1027.7,3293.8 1030.5,3294.6 1033.4,3294.6 1036.2,3293.9 1039.0,3294.4 1041.9,3294.4 1044.7,3293.9 1047.5,3294.3 1050.4,3294.7 1052.8,3294.2 1055.2,3293.4 1057.6,3293.5 1060.0,3292.7 1062.9,3292.9 1065.8,3292.8 1068.8,3293.3 1071.7,3293.0 1074.6,3293.2 1077.5,3293.0 1080.4,3292.7 1083.3,3293.3 1086.3,3293.1 1089.2,3293.0 1092.1,3292.6 1095.0,3292.5 1097.9,3292.9 1100.8,3293.2 1103.8,3293.2 1106.7,3292.7 1109.6,3292.5 1112.5,3292.9 1115.4,3293.2 1118.4,3292.5 1121.3,3293.1 1124.2,3292.5 1127.1,3292.7 1130.0,3292.4 1132.9,3292.7 1135.9,3292.7 1138.8,3293.3 1141.7,3293.3 1144.6,3292.5 1147.5,3292.7 1150.5,3293.3 1153.4,3292.6 1156.3,3292.7 1159.2,3292.8 1162.1,3292.5 1165.0,3292.7 1168.0,3292.9 1170.9,3292.9 1173.8,3293.6 1176.7,3292.9 1179.6,3292.9 1182.5,3293.7 1185.5,3293.2 1188.4,3293.7 1191.3,3293.5 1194.2,3293.7 1197.1,3293.3 1200.1,3293.2 1203.0,3293.8 1205.9,3293.6 1208.8,3293.7 1211.7,3293.9 1214.6,3294.0 1217.6,3293.6 1220.5,3293.7 1223.4,3294.3 1226.3,3294.0 1229.2,3293.8 1232.2,3294.2 1235.1,3293.9 1238.0,3294.4 1240.9,3293.8 1243.8,3294.6 1246.7,3294.4 1249.7,3294.2 1252.6,3294.9 1255.5,3294.2 1258.4,3294.3 1261.3,3294.1 1264.2,3294.6 1267.2,3294.8 1270.1,3294.7 1273.0,3294.4 1275.9,3294.8 1278.8,3294.1 1281.8,3294.3 1284.7,3294.7 1287.6,3295.0 1290.5,3294.6 1293.4,3294.7 1296.3,3294.8 1299.3,3294.4 1302.2,3295.0 1305.1,3294.8 1308.0,3294.4 1310.9,3294.4 1313.9,3294.8 1316.8,3294.4 1319.7,3294.2 1322.6,3294.9 1325.5,3294.5 1328.4,3294.5 1331.4,3294.7 1334.3,3294.9 1337.2,3294.1 1340.1,3294.3 1343.0,3294.1 1345.9,3294.4 1348.9,3294.5 1351.8,3294.9 1354.7,3294.7 1357.6,3294.6 1360.5,3294.3 1363.4,3294.4 1366.2,3294.1 1369.1,3294.6 1372.0,3294.4 1374.9,3294.4 1377.7,3293.7 1380.6,3294.1 1383.5,3294.1 1386.4,3293.8 1389.3,3294.1 1392.1,3294.0 1395.0,3293.8 1397.9,3293.8 1400.8,3293.6 1403.6,3293.7 1406.5,3292.9 1409.4,3293.4 1412.3,3293.3 1415.1,3293.2 1418.0,3292.8 1420.9,3292.5 1423.8,3293.0 1426.5,3293.0 1429.3,3292.4 1432.0,3292.2 1434.8,3292.0 1437.5,3291.8 1440.3,3292.2 1443.0,3292.4 1445.8,3292.1 1448.6,3291.5 1451.3,3291.7 1454.1,3290.9 1456.8,3291.5 1459.6,3291.1 1462.3,3290.8 1465.1,3291.4 1467.8,3291.0 1470.6,3291.1 1473.4,3290.9 1476.1,3291.3 1478.9,3291.5 1481.6,3291.8 1484.4,3291.0 1487.1,3291.8 1489.9,3291.1 1492.8,3291.1 1495.8,3291.4 1498.7,3291.0 1501.7,3290.9 1504.6,3291.1 1507.5,3290.6 1510.5,3291.1 1513.4,3290.4 1516.3,3290.9 1518.2,3291.6 1520.0,3292.1 1522.9,3291.3 1525.9,3291.8 1528.8,3290.7 1531.8,3290.9 1534.7,3290.5 1537.6,3289.9 1540.6,3290.1 1543.5,3289.9 1546.5,3289.5 1549.1,3288.8 1551.7,3288.4 1554.4,3288.0 1557.0,3287.2 1559.7,3287.3 1562.3,3286.9 1565.0,3286.2 1567.6,3285.9 1570.3,3284.5 1572.9,3284.3 1575.6,3282.7 1578.2,3282.3 1580.8,3281.1 1583.5,3280.6 1586.1,3280.2 1588.8,3279.6 1591.4,3278.7 1594.1,3278.0 1596.7,3277.2 1599.4,3277.3 1602.0,3277.1 1604.7,3276.9 1607.3,3277.3 1609.9,3277.0 1612.6,3277.7 1615.2,3278.2 1617.9,3279.4 1620.5,3279.7 1623.2,3280.5 1625.8,3281.7 1628.5,3282.8 1631.1,3284.0 1633.8,3284.7 1636.4,3285.9 1639.0,3286.4 1641.7,3286.7 1644.3,3287.2 1647.0,3287.0 1649.6,3287.6 1652.3,3287.9 1654.9,3289.3 1657.6,3289.6 1660.5,3289.8 1663.4,3289.6 1666.4,3289.9 1669.3,3289.9 1672.3,3290.6 1675.2,3291.1 1678.1,3290.7 1681.1,3290.6 1684.0,3290.9 1687.0,3291.1 1689.9,3291.7 1692.8,3291.6 1695.8,3291.2 1698.7,3290.9 1701.7,3290.9 1704.6,3290.9 1707.5,3291.5 1710.5,3291.2 1713.4,3291.6 1716.4,3291.4 1719.3,3291.1 1722.2,3290.7 1725.2,3290.9 1728.1,3290.0 1731.1,3289.9 1734.0,3290.2 1736.9,3290.0 1739.6,3289.5 1742.2,3289.4 1744.9,3289.0 1747.5,3289.7 1750.2,3289.3 1752.8,3289.4 1755.4,3289.3 1758.1,3288.6 1760.7,3289.1 1763.4,3289.0 1766.0,3289.7 1768.7,3290.0 1771.3,3289.6 1774.0,3289.7 1776.6,3290.2 1779.3,3290.8 1782.1,3290.8 1785.0,3290.6 1787.9,3291.6 1790.8,3291.8 1793.7,3291.7 1796.6,3291.4 1799.5,3292.5 1802.3,3292.3 1805.2,3292.0 1808.1,3292.5 1811.0,3293.0 1813.8,3293.3 1816.7,3292.9 1819.5,3293.1 1822.3,3292.7 1825.2,3292.8 1828.0,3293.5 1830.8,3293.0 1833.7,3292.8 1836.5,3293.3 1839.3,3292.9 1842.2,3293.0 1845.0,3293.3 1847.9,3293.4 1850.7,3293.5 1853.0,3293.7 1855.3,3293.6 1857.7,3293.3 1860.0,3294.1 1862.8,3293.2 1865.7,3293.4 1868.5,3293.2 1871.3,3293.2 1874.2,3293.1 1877.0,3292.4 1879.8,3292.6 1882.7,3292.6 1885.5,3292.3 1888.3,3291.8 1891.2,3292.5 1894.0,3292.1 1896.8,3291.5 1899.7,3291.6 1902.5,3292.4 1905.4,3291.6 1908.2,3291.8 1911.0,3292.2 1913.9,3292.2 1916.7,3292.0 1919.5,3292.1 1922.4,3291.5 1925.2,3291.6 1928.0,3292.6 1930.9,3292.5 1933.7,3291.8 1936.5,3291.9 1939.4,3292.2 1942.2,3293.1 1945.0,3292.6 1947.9,3293.2 1950.7,3293.7 1953.5,3293.6 1956.4,3294.1 1959.2,3293.6 1962.0,3293.7 1964.9,3293.8 1967.7,3294.7 1970.5,3294.2 1973.4,3295.3 1976.2,3295.2 1979.0,3294.9 1981.9,3295.6 1984.7,3295.0 1987.6,3295.4 1990.4,3295.0 1993.2,3295.7 1996.1,3295.9 1998.9,3296.0 2001.7,3295.1 2004.6,3296.0 2007.4,3295.7 2010.2,3296.0 2013.1,3295.8 2015.9,3295.9 2018.7,3295.9 2021.6,3296.1 2024.4,3295.4 2027.2,3295.4 2030.1,3295.9 2032.9,3295.6 2035.7,3295.7 2038.6,3295.3 2041.4,3296.1 2044.2,3295.4 2047.1,3296.2 2049.9,3296.1 2052.7,3295.8 2055.6,3295.5 2058.4,3296.0 2061.3,3295.6 2064.2,3295.8 2067.2,3295.5 2070.1,3296.4 2073.0,3296.0 2075.9,3295.8 2078.8,3295.6 2081.7,3296.3 2084.6,3296.4 2087.6,3296.4 2090.5,3295.7 2093.4,3296.0 2096.3,3296.0 2099.2,3296.4 2102.1,3295.9 2105.0,3296.3" fill="none" stroke="#000" stroke-width="9" stroke-linejoin="round" />
<polyline points="615.9,3279.9 618.4,3281.0 621.0,3281.0 623.5,3280.2 626.0,3280.6 628.5,3281.0 631.0,3282.3 633.7,3281.7 636.3,3281.2 638.9,3280.7 641.6,3280.2 644.2,3280.1 646.9,3280.4 649.5,3281.1 652.2,3281.1 654.8,3281.4 657.5,3281.9 660.1,3281.2 662.8,3280.5 665.4,3278.9 668.0,3279.4 670.7,3279.1 673.0,3277.7 675.3,3277.6 677.7,3275.7 680.0,3276.1 682.6,3274.2 685.3,3273.5 687.9,3271.7 690.6,3270.7 693.2,3269.7 695.9,3268.5 698.5,3267.5 701.2,3267.4 703.8,3267.5 706.5,3266.4 709.1,3266.6 711.7,3266.0 714.4,3265.9 717.0,3265.9 719.7,3265.2 721.7,3262.6 723.7,3260.6 725.6,3258.8 727.6,3256.3 729.2,3254.7 730.8,3253.6 732.4,3251.8 734.0,3249.3 735.6,3247.9 737.5,3245.9 739.5,3244.1 741.5,3242.0 743.5,3239.7 744.6,3237.0 745.7,3235.0 746.8,3232.3 747.9,3230.1 749.0,3227.5 750.1,3225.2 750.8,3222.7 751.4,3219.7 752.1,3217.2 752.8,3214.6 753.4,3211.9 754.1,3209.4 754.7,3206.6 755.4,3204.1 756.0,3201.1 756.6,3198.2 757.2,3195.0 757.7,3192.1 758.3,3189.2 758.9,3186.5 759.5,3183.2 760.1,3180.4 760.7,3177.6 761.1,3175.0 761.6,3172.1 762.0,3169.6 762.5,3167.0 762.9,3164.3 763.3,3161.7 763.8,3159.1 764.2,3156.3 764.7,3153.6 766.0,3151.0 767.3,3149.2 768.6,3146.5 769.9,3144.3 770.9,3147.1 771.9,3149.2 772.9,3151.4 773.9,3153.8 774.6,3156.4 775.2,3159.1 775.9,3161.6 776.6,3164.1 777.2,3166.8 777.9,3169.4 778.7,3172.2 779.5,3174.7 780.3,3177.3 781.1,3180.2 781.9,3183.0 783.2,3185.6 784.5,3187.9 785.8,3190.9 786.5,3193.3 787.1,3195.9 787.8,3198.6 788.5,3201.3 789.1,3204.0 789.8,3206.6 790.4,3209.3 791.1,3211.7 791.9,3214.7 792.6,3217.1 793.4,3220.0 794.1,3222.3 794.9,3225.3 795.6,3227.7 796.4,3230.6 797.7,3233.0 799.0,3235.2 800.4,3237.2 801.7,3239.3 803.5,3241.6 805.2,3244.5 807.0,3246.0 808.6,3248.3 810.2,3250.1 811.7,3252.0 813.3,3253.4 814.9,3255.2 817.6,3255.8 820.2,3258.1 822.9,3258.0 825.5,3258.2 828.1,3257.8 830.8,3257.0 833.4,3256.4 836.1,3256.1 838.7,3257.9 841.4,3257.1 844.0,3258.9 846.7,3258.4 849.3,3259.3 852.0,3258.5 854.6,3259.7 857.2,3258.9 859.9,3259.2 862.5,3259.6 865.2,3257.9 867.8,3257.2 870.5,3257.0 873.1,3255.2 875.1,3253.4 877.1,3251.9 879.1,3249.3 881.1,3247.3 882.2,3245.0 883.3,3242.7 884.4,3240.3 885.5,3238.0 886.6,3235.5 887.7,3233.3 888.2,3230.3 888.6,3227.8 889.1,3225.1 889.6,3222.3 890.1,3219.6 890.6,3217.0 891.0,3214.2 891.5,3211.7 892.0,3209.1 892.3,3206.1 892.7,3203.3 893.0,3200.5 893.3,3197.6 893.7,3194.8 894.0,3192.0 894.3,3189.1 894.7,3186.3 895.0,3183.5 895.3,3180.7 895.7,3177.9 896.0,3175.0 896.4,3172.1 896.8,3169.4 897.2,3166.7 897.6,3163.9 898.1,3161.2 898.5,3158.4 898.9,3155.6 899.3,3152.7 899.7,3150.1 899.8,3147.1 900.0,3144.1 900.1,3141.2 900.2,3138.4 900.4,3135.4 900.5,3132.5 900.7,3129.6 900.8,3126.7 900.9,3123.7 901.1,3120.9 901.2,3117.9 901.4,3115.0 901.5,3112.1 901.6,3109.1 901.8,3106.3 901.9,3103.3 902.0,3100.4 902.2,3097.5 902.3,3094.6 902.5,3091.6 902.6,3088.7 902.7,3085.8 902.9,3082.9 903.0,3080.0 903.1,3077.0 903.3,3074.1 903.4,3071.1 903.6,3068.1 903.7,3065.2 903.8,3062.2 904.0,3059.3 904.1,3056.3 904.3,3053.4 904.4,3050.4 904.5,3047.4 904.7,3044.5 904.8,3041.5 905.0,3038.5 905.1,3035.5 905.3,3032.6 905.4,3029.6 905.5,3026.7 905.7,3023.7 905.8,3020.7 906.0,3017.7 906.1,3014.8 906.2,3011.8 906.4,3008.9 906.5,3005.9 906.7,3003.0 906.8,3000.0 906.9,2997.1 907.0,2994.3 907.1,2991.4 907.2,2988.6 907.3,2985.7 907.4,2982.9 907.5,2980.0 907.6,2977.2 907.7,2974.3 907.8,2971.5 907.8,2968.6 907.9,2965.7 908.0,2962.9 908.1,2960.0 908.2,2957.2 908.3,2954.3 908.4,2951.4 908.5,2948.6 908.6,2945.7 908.7,2942.9 908.8,2940.0 908.9,2937.2 908.9,2934.4 909.0,2931.6 909.1,2928.8 909.2,2926.1 909.2,2923.3 909.3,2920.5 909.4,2917.7 909.4,2914.9 909.5,2912.1 909.6,2909.4 909.7,2906.6 909.7,2903.8 909.8,2901.0 909.9,2903.9 910.0,2906.7 910.1,2909.6 910.2,2912.5 910.3,2915.4 910.4,2918.3 910.5,2921.2 910.6,2924.0 910.7,2926.9 910.8,2929.8 910.9,2932.7 911.0,2935.6 911.1,2938.5 911.2,2941.4 911.3,2944.3 911.4,2947.1 911.5,2950.0 911.6,2952.9 911.7,2955.8 911.8,2958.7 911.9,2961.7 912.0,2964.6 912.1,2967.5 912.2,2970.4 912.3,2973.3 912.4,2976.3 912.5,2979.2 912.6,2982.1 912.8,2985.0 912.9,2987.9 913.0,2990.9 913.1,2993.8 913.2,2996.7 913.3,2999.6 913.4,3002.5 913.5,3005.4 913.6,3008.3 913.7,3011.3 913.8,3014.2 913.9,3017.1 914.0,3020.0 914.1,3017.0 914.1,3014.1 914.2,3011.1 914.3,3008.1 914.3,3005.1 914.4,3002.2 914.5,2999.2 914.5,2996.2 914.6,2993.2 914.6,2990.3 914.7,2987.3 914.8,2984.3 914.8,2981.4 914.9,2978.4 915.0,2975.4 915.0,2972.4 915.1,2969.4 915.2,2966.5 915.2,2963.5 915.3,2960.5 915.4,2957.6 915.4,2954.6 915.5,2951.6 915.6,2948.7 915.6,2945.7 915.7,2942.7 915.8,2939.7 915.8,2936.7 915.9,2933.8 915.9,2930.8 916.0,2927.9 916.1,2924.9 916.1,2921.9 916.2,2918.9 916.3,2916.0 916.3,2913.0 916.4,2910.0 916.5,2907.0 916.5,2904.0 916.6,2901.1 916.7,2898.1 916.7,2895.1 916.8,2892.2 916.9,2889.2 916.9,2886.2 917.0,2883.2 917.0,2880.3 917.1,2877.3 917.2,2874.3 917.2,2871.4 917.3,2868.4 917.4,2865.4 917.4,2862.4 917.5,2859.4 917.6,2856.5 917.6,2853.5 917.7,2850.5 917.8,2847.6 917.8,2844.6 917.9,2841.6 918.0,2838.7 918.0,2835.7 918.1,2832.7 918.2,2829.7 918.2,2826.7 918.3,2823.8 918.3,2820.8 918.4,2817.8 918.5,2814.9 918.5,2811.9 918.6,2808.9 918.7,2806.0 918.7,2803.0 918.8,2800.0 918.8,2797.0 918.8,2794.0 918.9,2791.0 918.9,2788.0 918.9,2785.0 918.9,2782.0 919.0,2779.0 919.0,2776.0 919.0,2773.0 919.0,2770.0 919.1,2767.0 919.1,2764.1 919.1,2761.1 919.1,2758.1 919.2,2755.1 919.2,2752.1 919.2,2749.1 919.2,2746.1 919.3,2743.1 919.3,2740.1 919.3,2737.1 919.3,2734.1 919.3,2731.1 919.4,2728.1 919.4,2725.1 919.4,2722.1 919.4,2719.1 919.5,2716.1 919.5,2713.1 919.5,2710.1 919.5,2707.1 919.6,2704.2 919.6,2701.2 919.6,2698.2 919.6,2695.2 919.7,2692.2 919.7,2689.2 919.7,2686.2 919.7,2683.2 919.8,2680.2 919.8,2677.2 919.8,2674.2 919.8,2671.2 919.8,2668.2 919.9,2665.2 919.9,2662.2 919.9,2659.2 919.9,2656.2 920.0,2653.2 920.0,2650.2 920.0,2647.2 920.0,2644.2 920.1,2641.2 920.1,2638.2 920.1,2635.3 920.1,2632.3 920.2,2629.3 920.2,2626.3 920.2,2623.3 920.2,2620.3 920.3,2617.3 920.3,2614.3 920.3,2611.3 920.3,2608.3 920.4,2605.3 920.4,2602.3 920.4,2599.3 920.4,2596.3 920.4,2593.3 920.5,2590.3 920.5,2587.3 920.5,2584.3 920.5,2581.3 920.6,2578.3 920.6,2575.3 920.6,2572.3 920.6,2569.4 920.7,2566.4 920.7,2563.4 920.7,2560.4 920.7,2557.4 920.8,2554.4 920.8,2551.4 920.8,2548.4 920.8,2545.4 920.9,2542.4 920.9,2539.4 920.9,2536.4 920.9,2533.4 920.9,2530.4 921.0,2527.4 921.0,2524.4 921.0,2521.4 921.0,2518.4 921.1,2515.4 921.1,2512.4 921.1,2509.4 921.1,2506.4 921.2,2503.4 921.2,2500.5 921.2,2497.5 921.2,2494.5 921.3,2491.5 921.3,2488.5 921.3,2485.5 921.3,2482.5 921.4,2479.5 921.4,2476.5 921.4,2473.5 921.4,2470.5 921.4,2467.5 921.5,2464.5 921.5,2461.5 921.5,2458.5 921.5,2455.5 921.6,2452.5 921.6,2449.5 921.6,2446.5 921.6,2443.6 921.7,2440.6 921.7,2437.6 921.7,2434.6 921.7,2431.6 921.8,2428.6 921.8,2425.6 921.8,2422.6 921.8,2419.6 921.9,2416.6 921.9,2413.6 921.9,2410.6 921.9,2407.6 921.9,2404.6 922.0,2401.6 922.0,2398.6 922.0,2395.6 922.0,2392.6 922.1,2389.6 922.1,2386.6 922.1,2383.6 922.1,2380.6 922.2,2377.6 922.2,2374.6 922.2,2371.7 922.2,2368.7 922.3,2365.7 922.3,2362.7 922.3,2359.7 922.3,2356.7 922.4,2353.7 922.4,2350.7 922.4,2347.7 922.4,2344.7 922.4,2341.7 922.5,2338.7 922.5,2335.7 922.5,2332.7 922.5,2329.7 922.6,2326.7 922.6,2323.7 922.6,2320.7 922.6,2317.7 922.7,2314.7 922.7,2311.7 922.7,2308.8 922.7,2305.8 922.8,2302.8 922.8,2299.8 922.8,2296.8 922.8,2293.8 922.9,2290.8 922.9,2287.8 922.9,2284.8 922.9,2281.8 923.0,2278.8 923.0,2275.8 923.0,2272.8 923.0,2269.8 923.0,2266.8 923.1,2263.8 923.1,2260.8 923.1,2257.8 923.1,2254.8 923.2,2251.8 923.2,2248.8 923.2,2245.8 923.2,2242.8 923.3,2239.9 923.3,2236.9 923.3,2233.9 923.3,2230.9 923.4,2227.9 923.4,2224.9 923.4,2221.9 923.4,2218.9 923.5,2215.9 923.5,2212.9 923.5,2209.9 923.5,2206.9 923.5,2203.9 923.6,2200.9 923.6,2197.9 923.6,2194.9 923.6,2191.9 923.7,2188.9 923.7,2185.9 923.7,2183.0 923.7,2179.9 923.8,2177.0 923.8,2174.0 923.8,2171.0 923.8,2168.0 923.9,2165.0 923.9,2162.0 923.9,2159.0 923.9,2156.0 924.0,2153.0 924.0,2150.0 924.0,2147.0 924.0,2150.0 924.1,2153.0 924.1,2156.0 924.1,2159.0 924.1,2162.0 924.2,2165.0 924.2,2168.0 924.2,2171.0 924.2,2174.0 924.3,2177.0 924.3,2180.0 924.3,2182.9 924.4,2185.9 924.4,2188.9 924.4,2191.9 924.4,2194.9 924.5,2197.9 924.5,2200.9 924.5,2203.9 924.6,2206.9 924.6,2209.9 924.6,2212.9 924.6,2215.9 924.7,2218.9 924.7,2221.9 924.7,2224.9 924.7,2227.9 924.8,2230.9 924.8,2233.9 924.8,2236.9 924.9,2239.9 924.9,2242.8 924.9,2245.8 924.9,2248.8 925.0,2251.8 925.0,2254.8 925.0,2257.8 925.0,2260.8 925.1,2263.8 925.1,2266.8 925.1,2269.8 925.2,2272.8 925.2,2275.8 925.2,2278.8 925.2,2281.8 925.3,2284.8 925.3,2287.8 925.3,2290.8 925.3,2293.8 925.4,2296.8 925.4,2299.8 925.4,2302.8 925.5,2305.8 925.5,2308.8 925.5,2311.7 925.5,2314.7 925.6,2317.7 925.6,2320.7 925.6,2323.7 925.7,2326.7 925.7,2329.7 925.7,2332.7 925.7,2335.7 925.8,2338.7 925.8,2341.7 925.8,2344.7 925.8,2347.7 925.9,2350.7 925.9,2353.7 925.9,2356.7 926.0,2359.7 926.0,2362.7 926.0,2365.7 926.0,2368.7 926.1,2371.7 926.1,2374.7 926.1,2377.7 926.1,2380.6 926.2,2383.6 926.2,2386.6 926.2,2389.6 926.3,2392.6 926.3,2395.6 926.3,2398.6 926.3,2401.6 926.4,2404.6 926.4,2407.6 926.4,2410.6 926.4,2413.6 926.5,2416.6 926.5,2419.6 926.5,2422.6 926.6,2425.6 926.6,2428.6 926.6,2431.6 926.6,2434.6 926.7,2437.6 926.7,2440.5 926.7,2443.6 926.8,2446.5 926.8,2449.5 926.8,2452.5 926.8,2455.5 926.9,2458.5 926.9,2461.5 926.9,2464.5 926.9,2467.5 927.0,2470.5 927.0,2473.5 927.0,2476.5 927.1,2479.5 927.1,2482.5 927.1,2485.5 927.1,2488.5 927.2,2491.5 927.2,2494.5 927.2,2497.5 927.2,2500.5 927.3,2503.5 927.3,2506.4 927.3,2509.4 927.4,2512.4 927.4,2515.4 927.4,2518.4 927.4,2521.4 927.5,2524.4 927.5,2527.4 927.5,2530.4 927.6,2533.4 927.6,2536.4 927.6,2539.4 927.6,2542.4 927.7,2545.4 927.7,2548.4 927.7,2551.4 927.7,2554.4 927.8,2557.4 927.8,2560.4 927.8,2563.4 927.9,2566.4 927.9,2569.3 927.9,2572.4 927.9,2575.4 928.0,2578.3 928.0,2581.3 928.0,2584.3 928.0,2587.3 928.1,2590.3 928.1,2593.3 928.1,2596.3 928.2,2599.3 928.2,2602.3 928.2,2605.3 928.2,2608.3 928.3,2611.3 928.3,2614.3 928.3,2617.3 928.3,2620.3 928.4,2623.3 928.4,2626.3 928.4,2629.3 928.5,2632.3 928.5,2635.2 928.5,2638.2 928.5,2641.2 928.6,2644.2 928.6,2647.2 928.6,2650.2 928.7,2653.2 928.7,2656.2 928.7,2659.2 928.7,2662.2 928.8,2665.2 928.8,2668.2 928.8,2671.2 928.8,2674.2 928.9,2677.2 928.9,2680.2 928.9,2683.2 929.0,2686.2 929.0,2689.2 929.0,2692.2 929.0,2695.2 929.1,2698.2 929.1,2701.2 929.1,2704.1 929.1,2707.1 929.2,2710.1 929.2,2713.1 929.2,2716.1 929.3,2719.1 929.3,2722.1 929.3,2725.1 929.3,2728.1 929.4,2731.1 929.4,2734.1 929.4,2737.1 929.4,2740.1 929.5,2743.1 929.5,2746.1 929.5,2749.1 929.6,2752.1 929.6,2755.1 929.6,2758.1 929.6,2761.1 929.7,2764.1 929.7,2767.1 929.7,2770.1 929.8,2773.0 929.8,2776.0 929.8,2779.0 929.8,2782.0 929.9,2785.0 929.9,2788.0 929.9,2791.0 929.9,2794.0 930.0,2797.0 930.0,2800.0 930.0,2803.0 930.1,2806.0 930.1,2808.9 930.2,2811.9 930.2,2814.9 930.2,2817.9 930.3,2820.9 930.3,2823.8 930.4,2826.8 930.4,2829.8 930.5,2832.8 930.5,2835.7 930.5,2838.7 930.6,2841.7 930.6,2844.7 930.7,2847.7 930.7,2850.6 930.8,2853.6 930.8,2856.6 930.8,2859.6 930.9,2862.6 930.9,2865.5 931.0,2868.5 931.0,2871.5 931.0,2874.5 931.1,2877.5 931.1,2880.4 931.2,2883.4 931.2,2886.4 931.2,2889.4 931.3,2892.3 931.3,2895.3 931.4,2898.3 931.4,2901.3 931.5,2904.3 931.5,2907.3 931.5,2910.2 931.6,2913.2 931.6,2916.2 931.7,2919.2 931.7,2922.1 931.8,2925.1 931.8,2928.1 931.8,2931.1 931.9,2934.1 931.9,2937.0 932.0,2940.0 932.0,2943.0 932.1,2945.9 932.1,2948.9 932.2,2951.8 932.3,2954.8 932.3,2957.6 932.4,2960.6 932.5,2963.5 932.5,2966.4 932.6,2969.4 932.7,2972.3 932.7,2975.3 932.8,2978.2 932.9,2981.1 932.9,2984.1 933.0,2987.0 933.1,2990.0 933.1,2992.9 933.2,2995.8 933.3,2998.7 933.3,3001.7 933.4,3004.6 933.5,3007.5 933.5,3010.5 933.6,3013.4 933.7,3016.3 933.7,3019.3 933.8,3022.2 933.9,3025.1 933.9,3028.1 934.0,3031.0 934.1,3033.9 934.2,3037.0 934.3,3039.9 934.4,3042.9 934.5,3045.9 934.6,3048.9 934.8,3051.8 934.9,3054.8 935.0,3057.8 935.1,3060.8 935.2,3063.7 935.3,3066.7 935.4,3069.7 935.5,3072.7 935.6,3075.6 935.7,3078.6 935.8,3081.6 935.9,3084.5 936.0,3087.5 936.1,3090.5 936.3,3093.4 936.4,3096.5 936.5,3099.4 936.6,3102.4 936.7,3105.3 936.8,3108.4 936.9,3111.3 937.0,3114.3 937.1,3117.3 937.2,3120.3 937.3,3123.2 937.4,3126.2 937.5,3129.2 937.7,3132.2 937.8,3135.1 937.9,3138.1 938.0,3141.1 938.1,3144.0 938.2,3147.0 938.3,3150.0 938.6,3152.8 938.9,3155.6 939.2,3158.4 939.5,3161.1 939.8,3163.9 940.1,3166.7 940.4,3169.4 940.7,3172.2 941.0,3174.9 941.3,3177.9 941.7,3180.7 942.0,3183.5 942.3,3186.4 942.7,3189.1 943.0,3192.1 943.3,3194.9 943.7,3197.6 944.0,3200.5 944.3,3203.3 944.7,3206.2 945.0,3209.0 945.5,3211.9 946.0,3214.9 946.5,3217.6 947.0,3220.7 947.5,3223.4 948.0,3226.3 948.5,3229.2 949.0,3232.3 949.5,3235.1 950.0,3238.1 951.0,3240.6 952.0,3243.6 953.0,3246.2 954.0,3248.6 955.0,3251.6 956.0,3254.4 957.0,3256.8 958.8,3258.9 960.7,3260.2 962.5,3262.1 964.3,3264.5 966.2,3266.3 968.0,3268.1 970.7,3268.5 973.4,3269.8 976.1,3271.2 978.8,3272.3 981.5,3272.9 984.2,3274.6 986.9,3273.9 989.5,3274.8 992.2,3274.0 994.8,3273.5 997.5,3274.5 1000.1,3272.6 1002.8,3272.4 1005.4,3270.4 1008.0,3270.8 1009.7,3268.2 1011.3,3266.4 1013.0,3263.8 1014.7,3262.3 1016.4,3260.7 1018.2,3259.2 1019.9,3258.6 1021.6,3259.7 1023.3,3262.1 1024.9,3263.7 1026.6,3266.5 1028.7,3268.2 1030.8,3268.7 1032.9,3270.9 1035.0,3272.4 1037.1,3274.4 1039.8,3275.0 1042.4,3275.0 1045.1,3276.5 1047.7,3275.8 1050.4,3276.3 1053.0,3278.0 1055.7,3277.4 1057.8,3278.0 1060.0,3279.0 1062.9,3278.7 1065.8,3278.4 1068.6,3279.7 1071.5,3278.9 1074.4,3279.4 1077.3,3278.6 1080.1,3279.6 1083.0,3278.5 1085.9,3279.6 1088.8,3279.1 1091.6,3279.7 1094.5,3279.4 1097.4,3279.2 1100.3,3279.0 1103.1,3279.5 1106.0,3278.9 1108.9,3278.3 1111.8,3279.6 1114.6,3279.5 1117.5,3279.3 1120.4,3279.4 1123.3,3278.5 1126.1,3278.9 1128.9,3279.4 1131.6,3279.5 1134.4,3279.4 1137.2,3278.1 1139.9,3278.8 1142.7,3278.6 1145.4,3278.2 1148.2,3277.8 1150.9,3277.6 1153.7,3278.1 1156.5,3278.0 1159.2,3277.6 1161.9,3277.4 1164.5,3277.4 1167.1,3277.4 1169.8,3276.8 1172.4,3275.8 1175.3,3277.3 1178.1,3276.9 1180.9,3278.2 1183.8,3278.6 1186.6,3277.6 1189.4,3278.7 1192.3,3279.7 1195.2,3278.9 1198.0,3279.2 1200.9,3278.9 1203.8,3278.5 1206.7,3278.9 1209.5,3278.8 1212.4,3279.1 1215.3,3279.8 1218.2,3279.7 1221.0,3280.4 1223.9,3280.1 1226.8,3279.6 1229.7,3280.6 1232.5,3280.2 1235.4,3280.1 1238.3,3280.7 1241.2,3280.5 1244.0,3280.0 1246.9,3280.5 1249.8,3280.1 1252.7,3281.2 1255.5,3280.1 1258.4,3281.4 1261.3,3279.9 1264.2,3279.8 1267.0,3280.6 1269.9,3280.0 1272.8,3280.5 1275.7,3279.8 1278.5,3281.0 1281.4,3280.7 1284.3,3280.7 1287.2,3281.0 1290.0,3281.1 1292.9,3280.6 1295.8,3280.6 1298.7,3279.4 1301.5,3279.5 1304.4,3280.0 1307.3,3280.9 1310.2,3279.8 1313.0,3280.2 1315.9,3279.3 1318.8,3279.9 1321.7,3280.6 1324.6,3280.1 1327.4,3280.4 1330.3,3279.1 1333.2,3279.4 1336.1,3279.3 1338.9,3280.3 1341.8,3279.1 1344.7,3280.3 1347.6,3279.2 1350.4,3280.2 1353.3,3279.6 1356.2,3279.2 1359.1,3280.2 1361.9,3279.2 1364.8,3279.7 1367.7,3278.6 1370.6,3279.8 1373.4,3280.0 1376.3,3278.6 1379.2,3279.5 1382.1,3278.7 1384.9,3278.5 1387.8,3278.8 1390.7,3279.2 1393.4,3279.4 1396.2,3279.2 1399.0,3278.9 1401.7,3278.1 1404.5,3277.8 1407.2,3276.8 1410.0,3277.4 1412.7,3276.8 1415.5,3276.3 1418.2,3276.8 1421.0,3275.5 1423.8,3275.1 1426.5,3274.6 1429.3,3274.0 1432.0,3274.1 1434.8,3273.9 1437.5,3272.4 1440.3,3272.4 1442.9,3271.5 1445.6,3270.5 1448.2,3269.2 1450.9,3268.5 1453.5,3266.7 1456.2,3267.2 1458.8,3268.2 1461.5,3268.4 1464.1,3269.7 1466.7,3269.3 1469.6,3270.4 1472.5,3269.5 1475.4,3269.4 1478.3,3270.2 1481.2,3270.1 1484.1,3270.2 1487.0,3271.0 1489.9,3270.3 1492.8,3270.8 1495.8,3270.9 1498.7,3270.2 1501.7,3270.1 1504.6,3270.6 1507.5,3270.0 1510.5,3269.2 1513.4,3268.8 1516.3,3268.7 1518.2,3267.9 1520.0,3266.4 1522.6,3266.5 1525.3,3265.5 1527.9,3264.6 1530.6,3264.3 1533.2,3264.3 1535.9,3262.6 1538.5,3261.1 1541.2,3260.0 1543.8,3258.7 1546.5,3258.3 1549.1,3256.6 1551.2,3254.4 1553.3,3252.2 1555.4,3250.2 1557.6,3248.5 1559.7,3247.5 1561.3,3244.8 1562.9,3242.0 1564.4,3240.1 1566.0,3237.2 1567.6,3235.2 1568.9,3232.4 1570.3,3229.6 1571.6,3227.4 1572.9,3224.8 1574.2,3222.0 1575.6,3219.1 1576.3,3216.7 1577.0,3214.0 1577.7,3211.4 1578.5,3208.6 1579.2,3206.3 1579.9,3203.2 1580.6,3200.7 1581.4,3198.1 1581.9,3195.4 1582.4,3192.7 1583.0,3190.3 1583.5,3187.7 1584.0,3184.9 1584.6,3182.2 1585.1,3179.7 1585.6,3176.9 1586.1,3174.3 1586.5,3171.7 1586.9,3169.0 1587.3,3166.3 1587.7,3163.7 1588.0,3161.1 1588.4,3158.6 1588.8,3155.9 1589.2,3153.1 1589.6,3150.5 1590.0,3147.9 1590.4,3145.2 1590.8,3142.6 1591.2,3139.9 1591.6,3137.4 1592.0,3134.6 1592.4,3132.1 1592.8,3129.4 1593.7,3126.6 1594.7,3123.6 1595.7,3121.0 1596.7,3118.1 1597.7,3121.1 1598.7,3123.9 1599.7,3126.6 1600.7,3129.6 1601.2,3131.9 1601.7,3134.7 1602.2,3137.4 1602.7,3139.8 1603.2,3142.5 1603.7,3145.1 1604.2,3147.9 1604.7,3150.6 1605.1,3153.1 1605.5,3155.9 1606.0,3158.4 1606.4,3161.2 1606.9,3163.7 1607.3,3166.5 1607.7,3169.0 1608.2,3171.6 1608.6,3174.2 1609.1,3177.1 1609.6,3179.7 1610.1,3182.3 1610.6,3184.8 1611.1,3187.7 1611.6,3190.3 1612.1,3192.7 1612.6,3195.5 1613.1,3198.2 1613.9,3200.6 1614.6,3203.2 1615.4,3206.0 1616.2,3208.9 1616.9,3211.6 1617.7,3213.9 1618.4,3216.8 1619.2,3219.4 1620.5,3222.2 1621.9,3224.7 1623.2,3227.6 1624.5,3230.0 1625.8,3232.9 1627.1,3235.2 1629.0,3237.0 1630.8,3239.4 1632.7,3241.5 1634.6,3243.5 1636.4,3245.6 1638.6,3247.5 1640.8,3249.4 1643.0,3250.7 1645.2,3252.5 1647.4,3254.6 1649.6,3256.4 1652.3,3257.6 1654.9,3259.2 1657.6,3259.9 1660.2,3261.7 1662.9,3262.6 1665.5,3263.7 1668.1,3263.9 1670.8,3264.4 1673.4,3264.3 1676.1,3264.2 1678.7,3265.6 1681.4,3265.3 1684.0,3265.4 1687.0,3265.2 1689.9,3265.3 1692.8,3265.7 1695.8,3265.8 1698.7,3265.1 1701.7,3265.4 1704.6,3264.5 1707.5,3264.8 1710.5,3264.6 1713.1,3264.3 1715.8,3264.1 1718.4,3264.5 1721.1,3264.3 1723.7,3263.2 1726.3,3263.0 1729.0,3263.6 1731.6,3263.2 1734.3,3262.2 1736.9,3261.0 1739.6,3260.1 1742.2,3258.4 1744.9,3257.0 1747.5,3256.9 1750.2,3255.9 1752.8,3256.8 1755.4,3255.6 1758.1,3255.3 1760.7,3256.3 1763.4,3256.6 1766.0,3256.2 1768.7,3256.9 1771.3,3257.1 1774.0,3259.4 1776.6,3260.7 1779.3,3261.6 1781.9,3262.8 1784.6,3264.0 1787.2,3264.9 1789.8,3265.9 1792.5,3266.9 1795.1,3267.5 1797.8,3268.2 1800.4,3268.2 1803.4,3268.4 1806.4,3268.4 1809.4,3269.7 1812.3,3268.7 1815.3,3268.9 1818.3,3269.3 1821.3,3270.5 1824.2,3270.7 1827.2,3269.9 1830.1,3270.8 1833.1,3271.0 1836.0,3270.3 1838.9,3270.1 1841.9,3271.1 1844.8,3270.5 1847.7,3270.2 1850.7,3271.5 1853.0,3270.8 1855.3,3270.8 1857.7,3271.2 1860.0,3270.6 1862.8,3269.8 1865.7,3270.0 1868.5,3269.6 1871.3,3268.6 1874.2,3268.7 1877.0,3268.9 1879.8,3267.8 1882.2,3267.5 1884.6,3266.7 1887.0,3265.2 1889.4,3264.2 1891.7,3264.4 1894.4,3262.9 1897.0,3261.1 1899.7,3259.7 1901.7,3259.4 1903.7,3258.2 1905.6,3256.0 1907.6,3255.3 1909.6,3253.6 1911.6,3251.6 1913.6,3249.6 1915.6,3251.6 1917.5,3253.7 1919.5,3255.3 1921.5,3256.4 1923.5,3257.1 1925.5,3258.5 1927.5,3259.9 1929.8,3261.0 1932.2,3261.9 1934.6,3263.7 1937.0,3263.5 1939.4,3265.8 1941.7,3265.5 1944.1,3267.2 1946.5,3267.1 1948.9,3268.4 1951.3,3268.9 1953.8,3268.7 1956.4,3270.4 1958.9,3270.8 1961.5,3270.4 1964.0,3271.6 1966.6,3271.6 1969.1,3272.8 1972.1,3271.4 1975.1,3271.9 1978.1,3271.7 1981.0,3272.4 1984.0,3272.7 1987.0,3272.8 1990.0,3272.4 1992.9,3272.2 1995.9,3272.9 1998.9,3271.8 2001.7,3272.1 2004.6,3272.9 2007.4,3272.5 2010.2,3273.4 2013.1,3272.0 2015.9,3272.6 2018.7,3272.3 2021.6,3272.0 2024.4,3272.2 2027.2,3272.2 2030.1,3272.7 2032.9,3272.8 2035.7,3273.0 2038.6,3272.7 2041.4,3273.3 2044.2,3273.0 2047.1,3273.8 2049.9,3272.5 2052.7,3273.0 2055.6,3273.0 2058.4,3272.8 2061.2,3273.6 2064.1,3272.6 2066.9,3273.6 2069.8,3272.8 2072.6,3272.8 2075.4,3273.2 2078.3,3273.1 2081.2,3272.7 2084.2,3272.4 2087.2,3273.7 2090.2,3272.8 2093.1,3272.4 2096.1,3273.3 2099.1,3273.1 2102.1,3272.7 2105.0,3272.7" fill="none" stroke="#ff0000" stroke-width="9" stroke-linejoin="round" />
<polyline points="615.9,3289.2 618.9,3289.6 621.9,3289.0 624.8,3289.1 627.8,3289.7 630.8,3289.0 633.7,3289.0 636.7,3288.7 639.7,3289.3 642.6,3289.4 645.6,3289.1 648.6,3289.0 651.5,3288.8 654.5,3289.5 657.5,3289.1 660.3,3289.3 663.1,3288.5 665.9,3288.7 668.7,3287.7 671.5,3287.7 674.4,3288.3 677.2,3287.8 680.0,3287.5 682.9,3287.2 685.9,3287.0 688.8,3286.5 691.8,3286.3 694.7,3286.7 697.6,3286.7 700.6,3286.0 703.5,3286.3 706.5,3285.5 709.4,3285.7 712.3,3284.7 715.3,3284.7 718.2,3284.0 721.2,3283.8 724.1,3282.9 727.0,3282.9 730.0,3282.6 732.9,3281.6 735.6,3280.7 738.2,3280.0 740.8,3278.8 743.5,3277.7 746.1,3276.8 748.8,3275.5 750.9,3273.0 753.0,3271.1 755.1,3269.3 757.2,3267.0 759.4,3265.0 761.0,3262.6 762.5,3260.5 764.1,3258.8 765.7,3256.6 767.3,3254.3 768.6,3256.7 769.9,3259.6 771.3,3261.9 772.6,3265.0 773.9,3267.7 775.2,3270.2 777.4,3271.5 779.5,3273.6 781.6,3274.6 783.7,3276.8 785.8,3278.1 788.5,3278.0 791.1,3279.6 793.8,3279.7 796.4,3280.7 799.0,3281.1 801.7,3281.5 804.3,3282.4 807.2,3281.7 810.1,3282.5 812.9,3281.8 815.8,3281.4 818.7,3281.8 821.5,3281.5 824.4,3281.5 827.3,3282.2 830.1,3281.6 833.0,3281.6 835.9,3281.8 838.7,3281.7 841.7,3282.2 844.6,3281.9 847.5,3281.6 850.5,3281.4 853.4,3280.5 856.4,3280.6 859.3,3279.7 862.2,3280.2 865.2,3279.7 867.8,3278.3 870.5,3276.4 873.1,3275.0 875.8,3274.5 878.4,3272.8 880.0,3270.6 881.5,3268.6 883.0,3265.9 884.6,3264.1 886.1,3261.7 887.7,3259.7 888.3,3256.6 888.9,3253.7 889.5,3251.0 890.1,3247.9 890.7,3245.2 891.3,3242.3 891.9,3239.3 892.5,3236.5 893.1,3233.5 893.7,3230.6 894.3,3227.7 894.5,3224.9 894.8,3221.9 895.0,3219.0 895.2,3216.0 895.5,3213.1 895.7,3210.2 895.9,3207.3 896.2,3204.4 896.4,3201.4 896.6,3198.4 896.9,3195.5 897.1,3192.6 897.3,3189.7 897.6,3186.7 897.8,3183.8 898.0,3180.8 898.3,3178.0 898.5,3175.0 899.0,3172.2 899.4,3169.5 899.9,3166.6 900.3,3163.9 900.8,3161.1 901.2,3158.4 901.7,3155.5 902.1,3152.7 902.6,3150.0 902.7,3147.1 902.8,3144.2 903.0,3141.3 903.1,3138.3 903.2,3135.4 903.3,3132.5 903.4,3129.6 903.6,3126.7 903.7,3123.8 903.8,3120.8 903.9,3117.9 904.0,3115.0 904.2,3112.1 904.3,3109.2 904.4,3106.2 904.5,3103.4 904.7,3100.4 904.8,3097.5 904.9,3094.6 905.0,3091.7 905.1,3088.8 905.3,3085.9 905.4,3082.9 905.5,3080.0 905.6,3077.0 905.7,3074.1 905.8,3071.1 905.9,3068.1 906.0,3065.2 906.1,3062.2 906.2,3059.2 906.3,3056.3 906.4,3053.3 906.5,3050.4 906.6,3047.4 906.7,3044.4 906.8,3041.5 907.0,3038.5 907.1,3035.6 907.2,3032.6 907.3,3029.6 907.4,3026.7 907.5,3023.7 907.6,3020.8 907.7,3017.8 907.8,3014.8 907.9,3011.8 908.0,3008.9 908.1,3005.9 908.2,3003.0 908.3,3000.0 908.4,2997.1 908.4,2994.3 908.5,2991.4 908.6,2988.6 908.7,2985.7 908.7,2982.9 908.8,2980.0 908.9,2977.1 908.9,2974.3 909.0,2971.4 909.1,2968.6 909.2,2965.7 909.2,2962.9 909.3,2960.0 909.4,2957.1 909.4,2954.3 909.5,2951.4 909.6,2948.6 909.7,2945.7 909.7,2942.8 909.8,2940.0 909.8,2937.2 909.9,2934.3 909.9,2931.5 910.0,2928.6 910.0,2925.8 910.1,2922.9 910.1,2920.1 910.2,2917.2 910.2,2914.4 910.3,2911.5 910.3,2908.7 910.4,2905.9 910.4,2903.0 910.5,2905.9 910.6,2908.9 910.7,2911.8 910.8,2914.8 910.9,2917.7 911.0,2920.6 911.1,2923.5 911.2,2926.5 911.3,2929.4 911.4,2932.4 911.5,2935.3 911.6,2938.3 911.7,2941.2 911.8,2944.1 911.9,2947.0 912.0,2950.0 912.1,2952.9 912.2,2955.8 912.3,2958.8 912.4,2961.7 912.5,2964.6 912.6,2967.5 912.7,2970.4 912.8,2973.3 912.9,2976.3 913.0,2979.1 913.1,2982.1 913.2,2985.0 913.4,2987.9 913.5,2990.8 913.6,2993.8 913.7,2996.7 913.8,2999.6 913.9,3002.5 914.0,3005.4 914.1,3008.3 914.2,3011.3 914.3,3014.2 914.4,3017.1 914.5,3020.0 914.6,3017.0 914.6,3014.1 914.7,3011.1 914.7,3008.1 914.8,3005.1 914.8,3002.2 914.9,2999.2 914.9,2996.2 915.0,2993.2 915.0,2990.3 915.1,2987.3 915.1,2984.3 915.2,2981.4 915.3,2978.4 915.3,2975.4 915.4,2972.4 915.4,2969.5 915.5,2966.5 915.5,2963.5 915.6,2960.5 915.6,2957.6 915.7,2954.6 915.7,2951.6 915.8,2948.6 915.9,2945.7 915.9,2942.7 916.0,2939.7 916.0,2936.8 916.1,2933.8 916.1,2930.8 916.2,2927.8 916.2,2924.9 916.3,2921.9 916.3,2918.9 916.4,2915.9 916.4,2913.0 916.5,2910.0 916.6,2907.0 916.6,2904.0 916.7,2901.1 916.7,2898.1 916.8,2895.1 916.8,2892.2 916.9,2889.2 916.9,2886.2 917.0,2883.2 917.0,2880.3 917.1,2877.3 917.1,2874.3 917.2,2871.3 917.3,2868.4 917.3,2865.4 917.4,2862.4 917.4,2859.5 917.5,2856.5 917.5,2853.5 917.6,2850.5 917.6,2847.6 917.7,2844.6 917.7,2841.6 917.8,2838.7 917.9,2835.7 917.9,2832.7 918.0,2829.7 918.0,2826.8 918.1,2823.8 918.1,2820.8 918.2,2817.8 918.2,2814.9 918.3,2811.9 918.3,2808.9 918.4,2805.9 918.4,2803.0 918.5,2800.0 918.5,2797.0 918.6,2794.0 918.6,2791.0 918.6,2788.0 918.6,2785.0 918.7,2782.0 918.7,2779.0 918.7,2776.0 918.7,2773.0 918.8,2770.0 918.8,2767.1 918.8,2764.1 918.8,2761.1 918.9,2758.1 918.9,2755.1 918.9,2752.1 918.9,2749.1 919.0,2746.1 919.0,2743.1 919.0,2740.1 919.0,2737.1 919.1,2734.1 919.1,2731.1 919.1,2728.1 919.1,2725.1 919.2,2722.1 919.2,2719.1 919.2,2716.1 919.2,2713.1 919.3,2710.1 919.3,2707.1 919.3,2704.1 919.3,2701.2 919.4,2698.2 919.4,2695.2 919.4,2692.2 919.4,2689.2 919.5,2686.2 919.5,2683.2 919.5,2680.2 919.5,2677.2 919.6,2674.2 919.6,2671.2 919.6,2668.2 919.6,2665.2 919.7,2662.2 919.7,2659.2 919.7,2656.2 919.7,2653.2 919.8,2650.2 919.8,2647.2 919.8,2644.2 919.8,2641.2 919.9,2638.2 919.9,2635.2 919.9,2632.3 919.9,2629.3 920.0,2626.3 920.0,2623.3 920.0,2620.3 920.0,2617.3 920.1,2614.3 920.1,2611.3 920.1,2608.3 920.1,2605.3 920.2,2602.3 920.2,2599.3 920.2,2596.3 920.2,2593.3 920.3,2590.3 920.3,2587.3 920.3,2584.3 920.3,2581.3 920.4,2578.3 920.4,2575.3 920.4,2572.4 920.4,2569.4 920.5,2566.4 920.5,2563.4 920.5,2560.4 920.5,2557.4 920.6,2554.4 920.6,2551.4 920.6,2548.4 920.6,2545.4 920.7,2542.4 920.7,2539.4 920.7,2536.4 920.7,2533.4 920.8,2530.4 920.8,2527.4 920.8,2524.4 920.8,2521.4 920.9,2518.4 920.9,2515.4 920.9,2512.4 920.9,2509.4 921.0,2506.4 921.0,2503.5 921.0,2500.5 921.0,2497.5 921.1,2494.5 921.1,2491.5 921.1,2488.5 921.1,2485.5 921.2,2482.5 921.2,2479.5 921.2,2476.5 921.2,2473.5 921.3,2470.5 921.3,2467.5 921.3,2464.5 921.4,2461.5 921.4,2458.5 921.4,2455.5 921.4,2452.5 921.5,2449.5 921.5,2446.5 921.5,2443.5 921.5,2440.5 921.6,2437.6 921.6,2434.6 921.6,2431.6 921.6,2428.6 921.7,2425.6 921.7,2422.6 921.7,2419.6 921.7,2416.6 921.8,2413.6 921.8,2410.6 921.8,2407.6 921.8,2404.6 921.9,2401.6 921.9,2398.6 921.9,2395.6 921.9,2392.6 922.0,2389.6 922.0,2386.6 922.0,2383.6 922.0,2380.6 922.1,2377.6 922.1,2374.7 922.1,2371.7 922.1,2368.7 922.2,2365.7 922.2,2362.7 922.2,2359.7 922.2,2356.7 922.3,2353.7 922.3,2350.7 922.3,2347.7 922.3,2344.7 922.4,2341.7 922.4,2338.7 922.4,2335.7 922.4,2332.7 922.5,2329.7 922.5,2326.7 922.5,2323.7 922.5,2320.7 922.6,2317.7 922.6,2314.7 922.6,2311.7 922.6,2308.8 922.7,2305.8 922.7,2302.8 922.7,2299.8 922.7,2296.8 922.8,2293.8 922.8,2290.8 922.8,2287.8 922.8,2284.8 922.9,2281.8 922.9,2278.8 922.9,2275.8 922.9,2272.8 923.0,2269.8 923.0,2266.8 923.0,2263.8 923.0,2260.8 923.1,2257.8 923.1,2254.8 923.1,2251.8 923.1,2248.8 923.2,2245.9 923.2,2242.9 923.2,2239.9 923.2,2236.9 923.3,2233.9 923.3,2230.9 923.3,2227.9 923.3,2224.9 923.4,2221.9 923.4,2218.9 923.4,2215.9 923.4,2212.9 923.5,2209.9 923.5,2206.9 923.5,2203.9 923.5,2200.9 923.6,2197.9 923.6,2194.9 923.6,2191.9 923.6,2188.9 923.7,2185.9 923.7,2182.9 923.7,2180.0 923.7,2177.0 923.8,2174.0 923.8,2171.0 923.8,2168.0 923.8,2165.0 923.9,2162.0 923.9,2159.0 923.9,2156.0 923.9,2153.0 924.0,2150.0 924.0,2147.0 924.0,2150.0 924.1,2153.0 924.1,2156.0 924.1,2159.0 924.1,2162.0 924.2,2165.0 924.2,2168.0 924.2,2171.0 924.2,2174.0 924.3,2176.9 924.3,2180.0 924.3,2182.9 924.4,2185.9 924.4,2188.9 924.4,2191.9 924.4,2194.9 924.5,2197.9 924.5,2200.9 924.5,2203.9 924.6,2206.9 924.6,2209.9 924.6,2212.9 924.6,2215.9 924.7,2218.9 924.7,2221.9 924.7,2224.9 924.7,2227.9 924.8,2230.9 924.8,2233.9 924.8,2236.9 924.9,2239.9 924.9,2242.9 924.9,2245.8 924.9,2248.8 925.0,2251.8 925.0,2254.8 925.0,2257.8 925.0,2260.8 925.1,2263.8 925.1,2266.8 925.1,2269.8 925.2,2272.8 925.2,2275.8 925.2,2278.8 925.2,2281.8 925.3,2284.8 925.3,2287.8 925.3,2290.8 925.3,2293.8 925.4,2296.8 925.4,2299.8 925.4,2302.8 925.5,2305.8 925.5,2308.8 925.5,2311.7 925.5,2314.7 925.6,2317.7 925.6,2320.7 925.6,2323.7 925.7,2326.7 925.7,2329.7 925.7,2332.7 925.7,2335.7 925.8,2338.7 925.8,2341.7 925.8,2344.7 925.8,2347.7 925.9,2350.7 925.9,2353.7 925.9,2356.7 926.0,2359.7 926.0,2362.7 926.0,2365.7 926.0,2368.7 926.1,2371.7 926.1,2374.7 926.1,2377.6 926.1,2380.6 926.2,2383.6 926.2,2386.6 926.2,2389.6 926.3,2392.6 926.3,2395.6 926.3,2398.6 926.3,2401.6 926.4,2404.6 926.4,2407.6 926.4,2410.6 926.4,2413.6 926.5,2416.6 926.5,2419.6 926.5,2422.6 926.6,2425.6 926.6,2428.6 926.6,2431.6 926.6,2434.6 926.7,2437.6 926.7,2440.6 926.7,2443.5 926.8,2446.5 926.8,2449.5 926.8,2452.5 926.8,2455.5 926.9,2458.5 926.9,2461.5 926.9,2464.5 926.9,2467.5 927.0,2470.5 927.0,2473.5 927.0,2476.5 927.1,2479.5 927.1,2482.5 927.1,2485.5 927.1,2488.5 927.2,2491.5 927.2,2494.5 927.2,2497.5 927.2,2500.5 927.3,2503.5 927.3,2506.5 927.3,2509.4 927.4,2512.4 927.4,2515.4 927.4,2518.4 927.4,2521.4 927.5,2524.4 927.5,2527.4 927.5,2530.4 927.6,2533.4 927.6,2536.4 927.6,2539.4 927.6,2542.4 927.7,2545.4 927.7,2548.4 927.7,2551.4 927.7,2554.4 927.8,2557.4 927.8,2560.4 927.8,2563.4 927.9,2566.4 927.9,2569.4 927.9,2572.3 927.9,2575.3 928.0,2578.3 928.0,2581.3 928.0,2584.3 928.0,2587.3 928.1,2590.3 928.1,2593.3 928.1,2596.3 928.2,2599.3 928.2,2602.3 928.2,2605.3 928.2,2608.3 928.3,2611.3 928.3,2614.3 928.3,2617.3 928.3,2620.3 928.4,2623.3 928.4,2626.3 928.4,2629.3 928.5,2632.3 928.5,2635.3 928.5,2638.3 928.5,2641.2 928.6,2644.2 928.6,2647.2 928.6,2650.2 928.7,2653.2 928.7,2656.2 928.7,2659.2 928.7,2662.2 928.8,2665.2 928.8,2668.2 928.8,2671.2 928.8,2674.2 928.9,2677.2 928.9,2680.2 928.9,2683.2 929.0,2686.2 929.0,2689.2 929.0,2692.2 929.0,2695.2 929.1,2698.2 929.1,2701.1 929.1,2704.1 929.1,2707.1 929.2,2710.1 929.2,2713.1 929.2,2716.1 929.3,2719.1 929.3,2722.1 929.3,2725.1 929.3,2728.1 929.4,2731.1 929.4,2734.1 929.4,2737.1 929.4,2740.1 929.5,2743.1 929.5,2746.1 929.5,2749.1 929.6,2752.1 929.6,2755.1 929.6,2758.1 929.6,2761.1 929.7,2764.1 929.7,2767.1 929.7,2770.1 929.8,2773.0 929.8,2776.0 929.8,2779.0 929.8,2782.0 929.9,2785.0 929.9,2788.0 929.9,2791.0 929.9,2794.0 930.0,2797.0 930.0,2800.0 930.0,2803.0 930.1,2806.0 930.1,2808.9 930.1,2811.9 930.2,2814.9 930.2,2817.9 930.2,2820.9 930.2,2823.8 930.3,2826.8 930.3,2829.8 930.3,2832.8 930.4,2835.7 930.4,2838.7 930.4,2841.7 930.5,2844.7 930.5,2847.7 930.5,2850.6 930.6,2853.6 930.6,2856.6 930.6,2859.6 930.7,2862.6 930.7,2865.5 930.7,2868.5 930.8,2871.5 930.8,2874.5 930.8,2877.5 930.8,2880.4 930.9,2883.4 930.9,2886.4 930.9,2889.4 931.0,2892.4 931.0,2895.3 931.0,2898.3 931.1,2901.3 931.1,2904.3 931.1,2907.2 931.2,2910.2 931.2,2913.2 931.2,2916.2 931.2,2919.2 931.3,2922.1 931.3,2925.1 931.3,2928.1 931.4,2931.1 931.4,2934.1 931.4,2937.0 931.5,2940.0 931.5,2943.0 931.6,2945.9 931.6,2948.9 931.7,2951.8 931.8,2954.7 931.8,2957.7 931.9,2960.6 932.0,2963.5 932.0,2966.5 932.1,2969.4 932.2,2972.3 932.2,2975.3 932.3,2978.2 932.4,2981.1 932.4,2984.1 932.5,2987.0 932.6,2989.9 932.6,2992.9 932.7,2995.8 932.8,2998.7 932.8,3001.7 932.9,3004.6 933.0,3007.5 933.0,3010.5 933.1,3013.4 933.2,3016.3 933.2,3019.3 933.3,3022.2 933.4,3025.1 933.4,3028.1 933.5,3031.0 933.6,3034.0 933.6,3037.0 933.7,3039.9 933.8,3042.9 933.8,3045.9 933.9,3048.8 933.9,3051.8 934.0,3054.8 934.1,3057.8 934.1,3060.8 934.2,3063.7 934.2,3066.7 934.3,3069.7 934.4,3072.7 934.4,3075.6 934.5,3078.6 934.6,3081.6 934.6,3084.6 934.7,3087.5 934.8,3090.5 934.8,3093.5 934.9,3096.5 934.9,3099.4 935.0,3102.4 935.1,3105.4 935.1,3108.4 935.2,3111.3 935.2,3114.3 935.3,3117.3 935.4,3120.2 935.4,3123.2 935.5,3126.2 935.6,3129.2 935.6,3132.1 935.7,3135.1 935.8,3138.1 935.8,3141.1 935.9,3144.0 935.9,3147.0 936.0,3150.0 936.3,3152.9 936.5,3155.7 936.8,3158.6 937.0,3161.4 937.3,3164.3 937.5,3167.1 937.8,3170.0 938.0,3172.8 938.3,3175.6 938.5,3178.5 938.8,3181.4 939.1,3184.2 939.3,3187.1 939.6,3189.9 939.8,3192.8 940.1,3195.6 940.3,3198.5 940.6,3201.3 940.8,3204.2 941.1,3206.9 941.4,3209.8 941.6,3212.6 941.9,3215.4 942.2,3218.2 942.4,3221.1 942.7,3223.9 943.0,3226.7 943.2,3229.6 943.5,3232.3 943.8,3235.2 944.0,3238.0 944.3,3240.8 944.6,3243.6 945.4,3246.3 946.3,3248.9 947.2,3251.7 948.1,3254.4 949.0,3256.8 949.8,3259.6 950.7,3262.2 951.6,3264.8 952.5,3267.4 954.1,3269.9 955.7,3272.0 957.2,3273.5 958.8,3275.8 960.4,3277.9 963.1,3278.8 965.7,3280.2 968.4,3281.8 971.0,3281.9 973.7,3283.9 976.3,3284.4 978.9,3284.0 981.6,3284.9 984.2,3284.1 986.9,3283.9 989.5,3283.7 992.2,3283.9 994.8,3283.5 997.5,3283.5 1000.1,3282.8 1002.8,3282.4 1005.4,3281.4 1008.0,3280.5 1009.7,3278.4 1011.3,3276.2 1013.0,3273.9 1014.7,3271.3 1016.4,3270.0 1018.2,3268.1 1019.9,3266.2 1021.6,3268.1 1023.3,3270.0 1024.9,3271.8 1026.6,3274.4 1028.7,3276.0 1030.8,3277.4 1032.9,3280.0 1035.0,3281.8 1037.1,3282.9 1039.8,3284.1 1042.4,3284.2 1045.1,3285.1 1047.7,3286.0 1050.4,3286.0 1053.0,3286.7 1055.7,3287.5 1057.8,3286.9 1060.0,3287.4 1062.9,3287.2 1065.8,3287.9 1068.6,3287.0 1071.5,3287.7 1074.4,3286.9 1077.3,3287.2 1080.1,3287.1 1083.0,3287.2 1085.9,3287.7 1088.8,3287.3 1091.6,3288.1 1094.5,3287.3 1097.4,3287.9 1100.3,3288.3 1103.1,3287.4 1106.0,3287.6 1108.9,3288.3 1111.8,3288.0 1114.6,3288.6 1117.5,3287.9 1120.4,3288.0 1123.3,3288.7 1126.1,3288.0 1128.9,3288.7 1131.6,3288.5 1134.4,3287.6 1137.2,3288.0 1139.9,3288.3 1142.7,3287.3 1145.4,3288.1 1148.2,3287.9 1150.9,3287.8 1153.7,3287.5 1156.5,3286.8 1159.2,3287.8 1161.9,3286.4 1164.5,3286.9 1167.1,3286.5 1169.8,3285.7 1172.4,3285.8 1175.3,3285.9 1178.1,3286.8 1180.9,3286.5 1183.8,3288.0 1186.6,3287.8 1189.4,3288.8 1192.3,3288.9 1195.2,3289.3 1198.0,3288.8 1200.9,3289.2 1203.8,3288.6 1206.7,3289.2 1209.5,3288.8 1212.4,3289.8 1215.3,3289.7 1218.2,3289.4 1221.0,3290.2 1223.9,3290.2 1226.8,3290.3 1229.7,3289.3 1232.5,3290.1 1235.4,3290.2 1238.3,3290.2 1241.2,3289.5 1244.0,3290.7 1246.9,3290.2 1249.8,3290.4 1252.7,3290.8 1255.5,3290.2 1258.4,3290.0 1261.3,3291.1 1264.2,3290.3 1267.0,3290.0 1269.9,3290.1 1272.8,3291.1 1275.7,3290.8 1278.5,3290.2 1281.4,3290.1 1284.3,3291.0 1287.2,3290.7 1290.0,3290.6 1292.9,3290.1 1295.8,3290.4 1298.7,3291.1 1301.5,3289.9 1304.4,3290.4 1307.3,3290.0 1310.2,3291.1 1313.0,3290.1 1315.9,3291.1 1318.8,3291.0 1321.7,3290.8 1324.6,3290.0 1327.4,3290.7 1330.3,3290.4 1333.2,3290.4 1336.1,3289.9 1338.9,3290.3 1341.8,3290.6 1344.7,3289.8 1347.6,3290.6 1350.4,3290.1 1353.3,3289.8 1356.2,3289.8 1359.1,3290.0 1361.9,3290.2 1364.8,3290.0 1367.7,3290.4 1370.6,3289.9 1373.4,3289.8 1376.3,3290.4 1379.2,3289.4 1382.1,3289.1 1384.9,3289.4 1387.8,3289.4 1390.7,3289.1 1393.4,3289.3 1396.2,3288.6 1399.0,3289.5 1401.7,3288.8 1404.5,3289.0 1407.2,3288.6 1410.0,3288.5 1412.7,3288.3 1415.5,3287.6 1418.2,3287.9 1421.0,3287.1 1423.8,3287.3 1426.5,3286.8 1429.3,3286.5 1432.0,3285.2 1434.8,3284.8 1437.5,3284.9 1440.3,3284.3 1442.9,3283.8 1445.6,3282.2 1448.2,3281.6 1450.9,3280.8 1453.5,3280.9 1456.2,3281.2 1458.8,3281.5 1461.5,3281.9 1464.1,3282.0 1466.7,3282.3 1469.6,3282.9 1472.5,3282.6 1475.4,3282.7 1478.3,3282.7 1481.2,3282.7 1484.1,3283.1 1487.0,3282.9 1489.9,3282.5 1492.8,3282.8 1495.8,3282.7 1498.7,3282.6 1501.7,3282.7 1504.6,3282.4 1507.5,3282.4 1510.5,3282.3 1513.4,3282.2 1516.3,3282.8 1518.2,3282.1 1520.0,3282.2 1522.6,3282.6 1525.3,3281.8 1527.9,3281.4 1530.6,3281.1 1533.2,3280.4 1535.9,3279.9 1538.5,3278.6 1541.2,3278.5 1543.8,3277.5 1546.5,3275.7 1549.1,3274.8 1551.2,3273.4 1553.3,3271.8 1555.4,3271.3 1557.6,3269.9 1559.7,3268.0 1561.5,3266.2 1563.4,3264.7 1565.2,3263.0 1567.1,3260.8 1568.9,3258.9 1570.3,3256.2 1571.6,3253.9 1572.9,3251.3 1574.2,3248.6 1575.6,3245.6 1576.9,3243.2 1577.7,3240.6 1578.5,3237.9 1579.4,3235.2 1580.2,3232.4 1581.0,3229.7 1581.8,3227.3 1582.7,3224.4 1583.5,3222.1 1584.0,3219.4 1584.6,3216.7 1585.1,3214.1 1585.6,3211.5 1586.1,3208.8 1586.7,3206.0 1587.2,3203.5 1587.7,3200.8 1588.3,3198.1 1588.6,3195.6 1589.0,3192.9 1589.3,3190.2 1589.7,3187.5 1590.0,3184.9 1590.4,3182.3 1590.7,3179.6 1591.1,3177.0 1591.4,3174.4 1591.8,3171.3 1592.1,3168.4 1592.4,3165.4 1592.8,3162.5 1593.1,3159.5 1593.4,3156.5 1593.7,3153.5 1594.1,3150.5 1594.7,3147.9 1595.4,3145.3 1596.1,3142.6 1596.7,3139.9 1597.4,3142.5 1598.0,3145.1 1598.7,3147.9 1599.4,3150.4 1599.7,3153.1 1600.1,3155.8 1600.4,3158.5 1600.8,3161.1 1601.1,3163.7 1601.5,3166.4 1601.8,3169.0 1602.2,3171.7 1602.5,3174.3 1602.9,3176.9 1603.3,3179.6 1603.7,3182.3 1604.1,3184.9 1604.5,3187.5 1604.8,3190.1 1605.2,3192.8 1605.6,3195.5 1606.0,3198.1 1606.4,3200.8 1606.9,3203.4 1607.3,3206.1 1607.7,3208.7 1608.2,3211.4 1608.6,3214.1 1609.1,3216.7 1609.5,3219.4 1609.9,3221.9 1610.6,3224.7 1611.3,3227.3 1611.9,3229.9 1612.6,3232.5 1613.3,3235.1 1613.9,3237.7 1614.6,3240.6 1615.2,3243.1 1616.3,3245.9 1617.4,3248.4 1618.5,3251.1 1619.6,3253.6 1620.7,3256.2 1621.9,3258.9 1623.7,3261.3 1625.6,3263.3 1627.4,3265.0 1629.3,3267.6 1631.1,3269.5 1633.3,3270.5 1635.5,3272.0 1637.7,3273.2 1639.9,3275.2 1642.1,3276.2 1644.3,3277.3 1647.0,3277.9 1649.6,3278.6 1652.3,3279.2 1654.9,3280.0 1657.6,3281.2 1660.2,3281.8 1663.2,3282.0 1666.2,3282.6 1669.1,3282.7 1672.1,3282.3 1675.1,3282.6 1678.1,3283.1 1681.0,3283.5 1684.0,3284.2 1687.0,3284.6 1689.9,3284.4 1692.8,3284.3 1695.8,3284.2 1698.7,3285.1 1701.7,3285.0 1704.6,3284.6 1707.5,3284.3 1710.5,3285.5 1713.4,3284.4 1716.4,3284.9 1719.3,3283.8 1722.2,3284.2 1725.2,3283.6 1728.1,3284.0 1731.1,3283.0 1734.0,3282.6 1736.9,3282.4 1739.6,3283.0 1742.2,3283.0 1744.9,3282.5 1747.5,3282.4 1750.2,3281.7 1752.8,3281.5 1755.4,3281.2 1758.1,3282.1 1760.7,3281.4 1763.4,3282.5 1766.0,3282.6 1768.7,3282.9 1771.3,3283.6 1774.0,3284.6 1776.9,3284.1 1779.8,3284.3 1782.8,3285.2 1785.7,3285.5 1788.7,3285.6 1791.6,3285.5 1794.5,3286.6 1797.5,3286.0 1800.4,3286.4 1803.3,3286.5 1806.1,3286.8 1809.0,3286.7 1811.8,3286.8 1814.7,3287.0 1817.5,3287.2 1820.4,3286.7 1823.2,3286.2 1826.1,3287.2 1828.9,3286.2 1831.8,3286.6 1834.6,3286.3 1837.5,3286.9 1840.3,3287.1 1843.1,3286.4 1845.9,3286.6 1848.7,3287.3 1851.5,3287.1 1854.4,3286.4 1857.2,3287.1 1860.0,3287.3 1862.8,3286.4 1865.7,3285.6 1868.5,3285.8 1871.3,3285.0 1874.2,3284.3 1877.0,3284.0 1879.8,3283.8 1882.2,3282.7 1884.6,3282.2 1887.0,3281.6 1889.4,3280.8 1891.7,3279.9 1893.7,3279.0 1895.7,3277.1 1897.7,3276.1 1899.7,3275.4 1902.3,3274.1 1905.0,3272.8 1907.6,3271.3 1909.4,3269.6 1911.1,3268.3 1912.8,3266.6 1914.6,3264.7 1916.3,3266.6 1918.0,3268.2 1919.8,3270.6 1921.5,3271.9 1923.5,3273.2 1925.5,3274.5 1927.5,3275.3 1929.4,3277.2 1931.8,3278.3 1934.2,3279.3 1936.6,3280.4 1939.0,3280.8 1941.3,3281.6 1944.1,3283.2 1946.9,3284.1 1949.7,3284.8 1952.5,3285.7 1955.2,3286.5 1958.1,3287.6 1960.9,3287.4 1963.7,3288.1 1966.6,3287.8 1969.4,3288.1 1972.2,3288.6 1975.1,3289.2 1978.1,3289.2 1981.0,3288.5 1984.0,3288.7 1987.0,3288.3 1990.0,3288.7 1992.9,3288.5 1995.9,3288.1 1998.9,3287.7 2001.7,3287.7 2004.6,3288.4 2007.4,3288.4 2010.2,3287.8 2013.1,3287.6 2015.9,3287.8 2018.7,3288.8 2021.6,3287.7 2024.4,3288.7 2027.2,3288.4 2030.1,3288.4 2032.9,3288.5 2035.7,3288.3 2038.6,3288.6 2041.4,3288.0 2044.2,3289.1 2047.1,3288.1 2049.9,3288.2 2052.7,3288.8 2055.6,3288.8 2058.4,3289.1 2061.2,3288.9 2064.1,3289.3 2066.9,3288.2 2069.8,3288.2 2072.6,3288.5 2075.4,3289.2 2078.3,3288.5 2081.2,3289.0 2084.2,3289.3 2087.2,3288.6 2090.2,3289.1 2093.1,3289.6 2096.1,3289.5 2099.1,3289.1 2102.1,3289.2 2105.0,3289.0" fill="none" stroke="#c0c0c0" stroke-width="9" stroke-linejoin="round" />
<polyline points="615.9,3274.6 618.9,3275.3 621.9,3275.0 624.8,3274.8 627.8,3274.1 630.8,3274.8 633.7,3274.4 636.7,3274.8 639.7,3274.1 642.6,3274.9 645.6,3274.5 648.6,3274.1 651.5,3274.3 654.5,3274.6 657.5,3274.1 660.3,3274.7 663.1,3273.1 665.9,3274.4 668.7,3274.0 671.5,3273.6 674.4,3274.0 677.2,3272.8 680.0,3273.0 682.9,3273.4 685.9,3273.4 688.8,3272.5 691.8,3273.2 694.7,3272.5 697.6,3271.3 700.6,3271.2 703.5,3271.0 706.5,3271.5 709.4,3270.7 712.3,3270.2 715.3,3270.0 718.2,3269.0 721.2,3269.9 724.1,3269.3 727.0,3268.4 730.0,3267.8 732.9,3267.2 735.6,3267.0 738.2,3265.9 740.8,3266.2 743.5,3265.5 746.1,3264.5 748.8,3264.0 750.9,3261.6 753.0,3260.3 755.1,3259.3 757.2,3257.7 759.4,3256.8 761.3,3255.8 763.3,3254.0 765.3,3252.5 767.3,3249.9 769.0,3252.3 770.6,3254.5 772.3,3257.0 773.9,3259.1 776.3,3260.6 778.7,3261.3 781.1,3263.0 783.4,3263.8 785.8,3265.0 788.8,3264.6 791.7,3265.5 794.6,3265.6 797.6,3265.7 800.5,3265.5 803.5,3265.6 806.4,3265.5 809.3,3265.3 812.3,3266.1 815.2,3266.3 818.2,3265.6 821.1,3266.7 824.0,3266.7 827.0,3266.7 829.9,3266.6 832.9,3266.1 835.8,3265.6 838.7,3265.8 841.4,3266.4 844.0,3266.6 846.7,3265.0 849.3,3264.7 852.0,3265.1 854.6,3264.9 857.2,3265.1 859.9,3264.2 862.5,3264.5 865.2,3262.8 867.8,3262.8 870.5,3261.0 873.1,3260.1 875.8,3259.0 877.9,3257.9 880.0,3255.4 882.1,3253.5 884.2,3250.6 886.3,3249.0 887.7,3246.5 889.0,3244.0 890.3,3241.3 891.6,3238.1 893.0,3235.6 893.4,3233.2 893.8,3230.4 894.3,3227.9 894.7,3225.1 895.2,3222.4 895.6,3220.0 896.0,3217.1 896.5,3214.6 896.9,3211.9 897.2,3209.1 897.5,3206.3 897.8,3203.4 898.2,3200.6 898.5,3197.6 898.8,3194.9 899.1,3191.9 899.4,3189.1 899.7,3186.3 900.0,3183.4 900.3,3180.5 900.6,3177.7 900.9,3174.8 901.0,3171.9 901.2,3169.0 901.3,3166.0 901.5,3163.1 901.6,3160.1 901.8,3157.2 901.9,3154.3 902.1,3151.3 902.2,3148.4 902.4,3145.5 902.5,3142.6 902.7,3139.6 902.8,3136.7 903.0,3133.8 903.1,3130.8 903.3,3127.8 903.4,3124.9 903.5,3122.0 903.6,3119.1 903.7,3116.2 903.7,3113.3 903.8,3110.5 903.8,3107.6 903.9,3104.7 903.9,3101.8 904.0,3098.9 904.1,3096.1 904.1,3093.2 904.2,3090.3 904.2,3087.5 904.3,3084.6 904.4,3081.7 904.4,3078.8 904.5,3075.9 904.5,3073.1 904.6,3070.2 904.6,3067.3 904.7,3064.4 904.8,3061.6 904.8,3058.7 904.9,3055.8 905.0,3053.0 905.1,3050.2 905.2,3047.3 905.2,3044.5 905.3,3041.6 905.4,3038.8 905.5,3036.0 905.6,3033.1 905.7,3030.3 905.8,3027.4 905.9,3024.6 906.0,3021.8 906.1,3019.0 906.2,3016.2 906.7,3013.1 907.2,3010.2 907.7,3007.4 908.3,3004.3 908.8,3001.4 909.3,2998.6 909.5,3001.6 909.7,3004.5 909.9,3007.5 910.1,3010.4 910.3,3013.4 910.5,3016.3 910.6,3019.3 910.8,3022.2 911.0,3025.2 911.2,3028.1 911.4,3031.1 911.6,3034.1 911.8,3037.0 912.0,3040.0 912.1,3043.0 912.3,3046.0 912.4,3049.0 912.5,3051.9 912.7,3054.9 912.8,3057.9 912.9,3060.9 913.0,3063.9 913.2,3066.8 913.3,3069.8 913.4,3072.8 913.6,3075.8 913.7,3078.8 913.8,3081.8 914.0,3084.7 914.1,3087.7 914.2,3090.7 914.3,3093.7 914.5,3096.7 914.6,3099.6 914.7,3102.6 914.9,3105.6 915.0,3108.6 915.1,3105.6 915.1,3102.7 915.2,3099.7 915.2,3096.8 915.3,3093.8 915.4,3090.9 915.4,3087.9 915.5,3084.9 915.5,3082.0 915.6,3079.0 915.6,3076.1 915.7,3073.1 915.8,3070.2 915.8,3067.2 915.9,3064.2 915.9,3061.3 916.0,3058.3 916.1,3055.4 916.1,3052.4 916.2,3049.4 916.2,3046.5 916.3,3043.5 916.4,3040.6 916.4,3037.6 916.5,3034.7 916.5,3031.7 916.6,3028.8 916.6,3025.8 916.7,3022.8 916.8,3019.9 916.8,3016.9 916.9,3014.0 916.9,3011.0 917.0,3008.0 917.1,3005.1 917.1,3002.1 917.2,2999.2 917.2,2996.2 917.3,2993.3 917.4,2990.3 917.4,2987.4 917.5,2984.4 917.5,2981.4 917.6,2978.5 917.7,2975.5 917.7,2972.6 917.8,2969.6 917.8,2966.7 917.9,2963.7 917.9,2960.8 918.0,2957.8 918.1,2954.8 918.1,2951.9 918.2,2948.9 918.2,2945.9 918.3,2943.0 918.3,2940.0 918.3,2937.0 918.4,2934.1 918.4,2931.1 918.4,2928.1 918.4,2925.1 918.5,2922.1 918.5,2919.2 918.5,2916.2 918.5,2913.2 918.6,2910.2 918.6,2907.3 918.6,2904.3 918.6,2901.3 918.7,2898.3 918.7,2895.3 918.7,2892.4 918.8,2889.4 918.8,2886.4 918.8,2883.4 918.8,2880.4 918.9,2877.5 918.9,2874.5 918.9,2871.5 918.9,2868.5 918.9,2865.5 919.0,2862.6 919.0,2859.6 919.0,2856.6 919.0,2853.6 919.1,2850.6 919.1,2847.7 919.1,2844.7 919.1,2841.7 919.2,2838.7 919.2,2835.8 919.2,2832.8 919.2,2829.8 919.3,2826.8 919.3,2823.8 919.3,2820.8 919.4,2817.9 919.4,2814.9 919.4,2811.9 919.4,2808.9 919.5,2806.0 919.5,2803.0 919.5,2800.0 919.5,2797.0 919.5,2794.0 919.5,2791.0 919.6,2788.0 919.6,2785.0 919.6,2782.1 919.6,2779.1 919.6,2776.1 919.6,2773.1 919.6,2770.1 919.7,2767.1 919.7,2764.1 919.7,2761.1 919.7,2758.1 919.7,2755.1 919.7,2752.1 919.7,2749.2 919.8,2746.2 919.8,2743.2 919.8,2740.2 919.8,2737.2 919.8,2734.2 919.8,2731.2 919.8,2728.2 919.9,2725.2 919.9,2722.2 919.9,2719.2 919.9,2716.3 919.9,2713.3 919.9,2710.3 919.9,2707.3 920.0,2704.3 920.0,2701.3 920.0,2698.3 920.0,2695.3 920.0,2692.3 920.0,2689.3 920.0,2686.3 920.1,2683.4 920.1,2680.4 920.1,2677.4 920.1,2674.4 920.1,2671.4 920.1,2668.4 920.1,2665.4 920.2,2662.4 920.2,2659.4 920.2,2656.4 920.2,2653.4 920.2,2650.5 920.2,2647.5 920.2,2644.5 920.3,2641.5 920.3,2638.5 920.3,2635.5 920.3,2632.5 920.3,2629.5 920.3,2626.5 920.3,2623.5 920.3,2620.5 920.4,2617.6 920.4,2614.6 920.4,2611.6 920.4,2608.6 920.4,2605.6 920.4,2602.6 920.4,2599.6 920.5,2596.6 920.5,2593.6 920.5,2590.6 920.5,2587.6 920.5,2584.7 920.5,2581.7 920.5,2578.7 920.6,2575.7 920.6,2572.7 920.6,2569.7 920.6,2566.7 920.6,2563.7 920.6,2560.7 920.6,2557.7 920.7,2554.8 920.7,2551.8 920.7,2548.8 920.7,2545.8 920.7,2542.8 920.7,2539.8 920.7,2536.8 920.8,2533.8 920.8,2530.8 920.8,2527.8 920.8,2524.8 920.8,2521.8 920.8,2518.9 920.8,2515.9 920.9,2512.9 920.9,2509.9 920.9,2506.9 920.9,2503.9 920.9,2500.9 920.9,2497.9 920.9,2494.9 921.0,2491.9 921.0,2489.0 921.0,2486.0 921.0,2483.0 921.0,2480.0 921.0,2477.0 921.0,2474.0 921.1,2471.0 921.1,2468.0 921.1,2465.0 921.1,2462.0 921.1,2459.0 921.1,2456.0 921.1,2453.1 921.2,2450.1 921.2,2447.1 921.2,2444.1 921.2,2441.1 921.2,2438.1 921.2,2435.1 921.2,2432.1 921.3,2429.1 921.3,2426.1 921.3,2423.1 921.3,2420.2 921.3,2417.2 921.3,2414.2 921.3,2411.2 921.4,2408.2 921.4,2405.2 921.4,2402.2 921.4,2399.2 921.4,2396.2 921.4,2393.2 921.4,2390.2 921.5,2387.3 921.5,2384.3 921.5,2381.3 921.5,2378.3 921.5,2375.3 921.5,2372.3 921.5,2369.3 921.6,2366.3 921.6,2363.3 921.6,2360.3 921.6,2357.4 921.6,2354.4 921.6,2351.4 921.6,2348.4 921.7,2345.4 921.7,2342.4 921.7,2339.4 921.7,2336.4 921.7,2333.4 921.7,2330.4 921.7,2327.4 921.8,2324.4 921.8,2321.5 921.8,2318.5 921.8,2315.5 921.8,2312.5 921.8,2309.5 921.8,2306.5 921.8,2303.5 921.9,2300.5 921.9,2297.5 921.9,2294.5 921.9,2291.6 921.9,2288.6 921.9,2285.6 921.9,2282.6 922.0,2279.6 922.0,2276.6 922.0,2273.6 922.0,2270.6 922.0,2267.6 922.0,2264.6 922.0,2261.6 922.1,2258.7 922.1,2255.7 922.1,2252.7 922.1,2249.7 922.1,2246.7 922.1,2243.7 922.1,2240.7 922.2,2237.7 922.2,2234.7 922.2,2231.7 922.2,2228.7 922.2,2225.8 922.2,2222.8 922.2,2219.8 922.3,2216.8 922.3,2213.8 922.3,2210.8 922.3,2207.8 922.3,2204.8 922.3,2201.8 922.3,2198.8 922.4,2195.8 922.4,2192.9 922.4,2189.9 922.4,2186.9 922.4,2183.9 922.4,2180.9 922.4,2177.9 922.5,2174.9 922.5,2171.9 922.5,2168.9 922.5,2165.9 922.5,2162.9 922.5,2160.0 922.5,2157.0 922.6,2154.0 922.6,2151.0 922.6,2148.0 922.6,2145.0 922.6,2148.0 922.6,2151.0 922.7,2154.0 922.7,2157.0 922.7,2160.0 922.7,2162.9 922.7,2165.9 922.8,2168.9 922.8,2171.9 922.8,2174.9 922.8,2177.9 922.8,2180.9 922.9,2183.9 922.9,2186.9 922.9,2189.9 922.9,2192.9 922.9,2195.8 923.0,2198.8 923.0,2201.8 923.0,2204.8 923.0,2207.8 923.0,2210.8 923.1,2213.8 923.1,2216.8 923.1,2219.8 923.1,2222.8 923.1,2225.8 923.2,2228.7 923.2,2231.7 923.2,2234.7 923.2,2237.7 923.2,2240.7 923.3,2243.7 923.3,2246.7 923.3,2249.7 923.3,2252.7 923.3,2255.7 923.4,2258.7 923.4,2261.6 923.4,2264.6 923.4,2267.6 923.4,2270.6 923.5,2273.6 923.5,2276.6 923.5,2279.6 923.5,2282.6 923.5,2285.6 923.6,2288.6 923.6,2291.5 923.6,2294.5 923.6,2297.5 923.6,2300.5 923.7,2303.5 923.7,2306.5 923.7,2309.5 923.7,2312.5 923.7,2315.5 923.8,2318.5 923.8,2321.5 923.8,2324.5 923.8,2327.4 923.8,2330.4 923.9,2333.4 923.9,2336.4 923.9,2339.4 923.9,2342.4 923.9,2345.4 924.0,2348.4 924.0,2351.4 924.0,2354.4 924.0,2357.4 924.0,2360.3 924.1,2363.3 924.1,2366.3 924.1,2369.3 924.1,2372.3 924.1,2375.3 924.2,2378.3 924.2,2381.3 924.2,2384.3 924.2,2387.3 924.2,2390.2 924.3,2393.2 924.3,2396.2 924.3,2399.2 924.3,2402.2 924.3,2405.2 924.4,2408.2 924.4,2411.2 924.4,2414.2 924.4,2417.2 924.4,2420.2 924.5,2423.1 924.5,2426.1 924.5,2429.1 924.5,2432.1 924.5,2435.1 924.6,2438.1 924.6,2441.1 924.6,2444.1 924.6,2447.1 924.6,2450.1 924.7,2453.1 924.7,2456.1 924.7,2459.0 924.7,2462.0 924.7,2465.0 924.8,2468.0 924.8,2471.0 924.8,2474.0 924.8,2477.0 924.9,2480.0 924.9,2483.0 924.9,2486.0 924.9,2489.0 924.9,2491.9 925.0,2494.9 925.0,2497.9 925.0,2500.9 925.0,2503.9 925.0,2506.9 925.1,2509.9 925.1,2512.9 925.1,2515.9 925.1,2518.9 925.1,2521.9 925.2,2524.8 925.2,2527.8 925.2,2530.8 925.2,2533.8 925.2,2536.8 925.3,2539.8 925.3,2542.8 925.3,2545.8 925.3,2548.8 925.3,2551.8 925.4,2554.8 925.4,2557.7 925.4,2560.7 925.4,2563.7 925.4,2566.7 925.5,2569.7 925.5,2572.7 925.5,2575.7 925.5,2578.7 925.5,2581.7 925.6,2584.7 925.6,2587.6 925.6,2590.6 925.6,2593.6 925.6,2596.6 925.7,2599.6 925.7,2602.6 925.7,2605.6 925.7,2608.6 925.7,2611.6 925.8,2614.6 925.8,2617.6 925.8,2620.5 925.8,2623.5 925.8,2626.5 925.9,2629.5 925.9,2632.5 925.9,2635.5 925.9,2638.5 925.9,2641.5 926.0,2644.5 926.0,2647.5 926.0,2650.5 926.0,2653.4 926.0,2656.4 926.1,2659.4 926.1,2662.4 926.1,2665.4 926.1,2668.4 926.1,2671.4 926.2,2674.4 926.2,2677.4 926.2,2680.4 926.2,2683.4 926.2,2686.3 926.3,2689.3 926.3,2692.3 926.3,2695.3 926.3,2698.3 926.3,2701.3 926.4,2704.3 926.4,2707.3 926.4,2710.3 926.4,2713.3 926.4,2716.3 926.5,2719.3 926.5,2722.2 926.5,2725.2 926.5,2728.2 926.5,2731.2 926.6,2734.2 926.6,2737.2 926.6,2740.2 926.6,2743.2 926.6,2746.2 926.7,2749.2 926.7,2752.1 926.7,2755.1 926.7,2758.1 926.7,2761.1 926.8,2764.1 926.8,2767.1 926.8,2770.1 926.8,2773.1 926.8,2776.1 926.9,2779.1 926.9,2782.1 926.9,2785.0 926.9,2788.0 926.9,2791.0 927.0,2794.0 927.0,2797.0 927.0,2800.0 927.0,2803.0 927.1,2806.0 927.1,2808.9 927.1,2811.9 927.2,2814.9 927.2,2817.9 927.2,2820.8 927.2,2823.8 927.3,2826.8 927.3,2829.8 927.3,2832.8 927.4,2835.7 927.4,2838.7 927.4,2841.7 927.5,2844.7 927.5,2847.7 927.5,2850.6 927.6,2853.6 927.6,2856.6 927.6,2859.6 927.7,2862.6 927.7,2865.5 927.7,2868.5 927.8,2871.5 927.8,2874.5 927.8,2877.5 927.8,2880.4 927.9,2883.4 927.9,2886.4 927.9,2889.4 928.0,2892.4 928.0,2895.3 928.0,2898.3 928.1,2901.3 928.1,2904.3 928.1,2907.3 928.2,2910.2 928.2,2913.2 928.2,2916.2 928.2,2919.2 928.3,2922.1 928.3,2925.1 928.3,2928.1 928.4,2931.1 928.4,2934.1 928.4,2937.0 928.5,2940.0 928.5,2943.0 928.5,2946.0 928.6,2948.9 928.6,2951.9 928.7,2954.8 928.8,2957.8 928.8,2960.8 928.9,2963.7 928.9,2966.7 929.0,2969.6 929.0,2972.6 929.0,2975.5 929.1,2978.5 929.1,2981.5 929.2,2984.4 929.2,2987.4 929.3,2990.3 929.4,2993.3 929.4,2996.3 929.4,2999.2 929.5,3002.2 929.5,3005.1 929.6,3008.1 929.6,3011.1 929.7,3014.0 929.8,3017.0 929.8,3019.9 929.9,3022.9 929.9,3025.8 929.9,3028.8 930.0,3031.8 930.0,3034.7 930.1,3037.7 930.1,3040.7 930.2,3043.6 930.2,3046.6 930.3,3049.5 930.4,3052.5 930.4,3055.4 930.4,3058.4 930.5,3061.4 930.5,3064.3 930.6,3067.3 930.6,3070.2 930.7,3073.2 930.8,3076.2 930.8,3079.1 930.8,3082.1 930.9,3085.0 930.9,3088.0 931.0,3090.9 931.0,3093.9 931.1,3096.9 931.1,3099.8 931.2,3102.8 931.2,3105.8 931.3,3108.7 931.4,3111.7 931.5,3114.6 931.7,3117.6 931.8,3120.5 931.9,3123.5 932.0,3126.4 932.1,3129.4 932.3,3132.3 932.4,3135.2 932.5,3138.2 932.6,3141.2 932.8,3144.1 932.9,3147.1 933.0,3150.0 933.1,3152.8 933.2,3155.5 933.3,3158.3 933.4,3161.1 933.5,3163.8 933.6,3166.6 933.8,3169.3 933.9,3172.1 934.0,3174.8 934.3,3177.7 934.5,3180.6 934.8,3183.4 935.1,3186.2 935.4,3189.0 935.7,3191.8 936.0,3194.7 936.2,3197.5 936.5,3200.4 936.8,3203.3 937.1,3206.1 937.4,3208.8 937.7,3211.7 937.9,3214.5 938.5,3217.4 939.1,3220.3 939.7,3223.4 940.3,3226.5 940.9,3229.3 941.5,3232.1 942.1,3235.1 942.6,3238.2 943.2,3240.9 944.6,3243.7 945.9,3246.0 947.2,3247.8 948.5,3250.9 949.8,3253.0 952.0,3254.1 954.1,3255.5 956.2,3257.0 958.3,3258.2 960.4,3260.0 963.1,3260.6 965.7,3260.1 968.4,3260.1 971.0,3261.7 973.7,3262.0 976.3,3262.4 978.9,3261.4 981.6,3261.4 984.2,3262.6 986.9,3261.7 989.5,3261.8 992.2,3262.5 994.8,3261.2 997.5,3261.9 1000.1,3259.8 1002.8,3259.3 1005.4,3258.4 1008.0,3256.4 1009.7,3255.2 1011.3,3253.4 1013.0,3251.3 1014.7,3249.2 1016.4,3248.2 1018.2,3246.6 1019.9,3245.0 1022.2,3247.1 1024.4,3248.9 1026.6,3250.4 1028.7,3252.1 1030.8,3253.0 1032.9,3254.8 1035.0,3256.4 1037.1,3258.7 1039.8,3259.2 1042.4,3259.0 1045.1,3260.7 1047.7,3259.8 1050.4,3260.3 1053.0,3261.3 1055.7,3261.5 1057.8,3264.1 1060.0,3264.6 1062.9,3264.5 1065.8,3265.3 1068.6,3264.7 1071.5,3264.8 1074.4,3264.5 1077.3,3264.5 1080.1,3265.3 1083.0,3264.2 1085.9,3264.5 1088.8,3264.4 1091.6,3263.9 1094.5,3263.8 1097.4,3264.4 1100.3,3264.8 1103.1,3264.2 1106.0,3263.6 1108.9,3265.0 1111.8,3263.7 1114.6,3264.8 1117.5,3263.4 1120.4,3264.4 1123.3,3263.5 1126.1,3263.7 1128.9,3263.9 1131.6,3264.4 1134.4,3263.8 1137.2,3263.7 1139.9,3263.7 1142.7,3263.8 1145.4,3263.4 1148.2,3264.4 1150.9,3263.1 1153.7,3262.9 1156.5,3263.6 1159.2,3263.2 1161.9,3263.4 1164.5,3262.0 1167.1,3262.7 1169.8,3261.9 1172.4,3262.5 1175.3,3261.8 1178.1,3262.3 1180.9,3262.5 1183.8,3263.1 1186.6,3263.1 1189.4,3264.0 1192.3,3263.9 1195.2,3264.5 1198.0,3263.8 1200.9,3264.1 1203.8,3264.4 1206.7,3264.7 1209.5,3264.6 1212.4,3264.3 1215.3,3263.8 1218.2,3263.9 1221.0,3264.0 1223.9,3264.1 1226.8,3264.1 1229.7,3264.9 1232.5,3264.4 1235.4,3265.4 1238.3,3264.4 1241.2,3264.4 1244.0,3264.4 1246.9,3264.3 1249.8,3265.2 1252.7,3265.1 1255.5,3264.6 1258.4,3265.6 1261.3,3265.4 1264.2,3265.0 1267.0,3265.3 1269.9,3265.3 1272.8,3265.0 1275.7,3264.4 1278.5,3264.9 1281.4,3265.8 1284.3,3264.9 1287.2,3265.3 1290.0,3264.4 1292.9,3265.5 1295.8,3265.7 1298.7,3264.9 1301.5,3264.9 1304.4,3265.1 1307.3,3264.7 1310.2,3264.6 1313.0,3264.5 1315.9,3265.4 1318.8,3265.1 1321.7,3265.8 1324.6,3265.8 1327.4,3265.6 1330.3,3265.7 1333.2,3265.5 1336.1,3264.1 1338.9,3264.3 1341.8,3265.6 1344.7,3265.4 1347.6,3264.9 1350.4,3264.9 1353.3,3264.5 1356.2,3264.5 1359.1,3264.0 1361.9,3264.6 1364.8,3264.1 1367.7,3263.8 1370.6,3265.0 1373.4,3264.5 1376.3,3264.9 1379.2,3263.9 1382.1,3264.3 1384.9,3263.8 1387.8,3264.7 1390.7,3263.6 1393.4,3264.2 1396.2,3263.9 1399.0,3263.4 1401.7,3262.9 1404.5,3263.4 1407.2,3263.3 1410.0,3263.6 1412.7,3262.5 1415.5,3262.3 1418.2,3262.4 1421.0,3263.1 1423.8,3262.0 1426.5,3262.2 1429.3,3260.8 1432.0,3260.5 1434.8,3261.0 1437.5,3260.2 1440.3,3259.2 1442.9,3259.1 1445.6,3259.1 1448.2,3257.6 1450.9,3257.2 1453.5,3256.4 1456.2,3256.9 1458.8,3256.6 1461.5,3258.3 1464.1,3258.2 1466.7,3258.2 1469.6,3258.3 1472.5,3258.3 1475.4,3259.7 1478.3,3259.7 1481.2,3259.1 1484.1,3259.6 1487.0,3259.7 1489.9,3259.3 1492.8,3258.9 1495.8,3259.9 1498.7,3258.9 1501.7,3259.5 1504.6,3258.5 1507.5,3258.4 1510.5,3258.5 1513.4,3259.2 1516.3,3259.0 1518.2,3260.3 1520.0,3260.6 1522.6,3259.7 1525.3,3258.2 1527.9,3259.0 1530.6,3257.7 1533.2,3257.6 1535.9,3255.6 1538.5,3256.1 1541.2,3254.7 1543.8,3253.5 1546.5,3253.0 1549.1,3251.7 1551.2,3251.2 1553.3,3249.4 1555.4,3248.7 1557.6,3246.6 1559.7,3246.0 1561.5,3243.8 1563.4,3241.8 1565.2,3239.9 1567.1,3237.1 1568.9,3235.4 1570.3,3232.5 1571.6,3230.2 1572.9,3227.5 1574.2,3224.8 1575.6,3222.0 1576.9,3219.1 1577.7,3216.9 1578.5,3214.2 1579.4,3211.6 1580.2,3208.7 1581.0,3206.2 1581.8,3203.5 1582.7,3201.0 1583.5,3198.3 1584.0,3195.5 1584.6,3192.8 1585.1,3190.3 1585.6,3187.6 1586.1,3184.9 1586.7,3182.4 1587.2,3179.5 1587.7,3176.8 1588.3,3174.3 1588.6,3171.6 1589.0,3169.1 1589.3,3166.3 1589.7,3163.8 1590.0,3161.1 1590.4,3158.4 1590.7,3155.9 1591.1,3153.2 1591.4,3150.5 1591.8,3147.9 1592.1,3145.2 1592.4,3142.7 1592.8,3139.9 1593.1,3137.3 1593.4,3134.6 1593.7,3132.0 1594.1,3129.4 1595.0,3126.5 1595.8,3124.2 1596.7,3121.6 1597.6,3124.2 1598.5,3126.7 1599.4,3129.3 1599.8,3131.9 1600.2,3134.6 1600.6,3137.3 1601.0,3140.0 1601.3,3142.7 1601.7,3145.2 1602.1,3147.9 1602.5,3150.6 1602.9,3153.2 1603.3,3155.9 1603.7,3158.4 1604.1,3161.1 1604.5,3163.8 1604.8,3166.5 1605.2,3169.0 1605.6,3171.6 1606.0,3174.4 1606.4,3177.0 1606.9,3179.6 1607.3,3182.2 1607.7,3184.9 1608.2,3187.6 1608.6,3190.2 1609.1,3192.9 1609.5,3195.5 1609.9,3198.0 1610.6,3201.0 1611.3,3203.4 1611.9,3206.1 1612.6,3208.9 1613.3,3211.3 1613.9,3213.9 1614.6,3216.6 1615.2,3219.2 1616.3,3222.2 1617.4,3224.6 1618.5,3227.0 1619.6,3229.8 1620.7,3232.5 1621.9,3235.0 1623.4,3237.0 1624.9,3239.6 1626.5,3241.1 1628.0,3242.9 1629.6,3245.2 1631.1,3246.7 1633.3,3248.4 1635.5,3249.9 1637.7,3250.5 1639.9,3252.4 1642.1,3253.4 1644.3,3255.4 1647.0,3255.9 1649.6,3257.0 1652.3,3257.2 1654.9,3257.2 1657.6,3257.8 1660.2,3259.3 1663.2,3259.7 1666.2,3258.6 1669.1,3259.4 1672.1,3259.3 1675.1,3259.8 1678.1,3260.6 1681.0,3260.2 1684.0,3260.7 1687.0,3260.7 1689.9,3259.8 1692.8,3260.2 1695.8,3259.8 1698.7,3259.8 1701.7,3259.8 1704.6,3260.0 1707.5,3259.1 1710.5,3260.1 1713.4,3258.9 1716.4,3259.0 1719.3,3259.7 1722.2,3259.8 1725.2,3258.7 1728.1,3259.5 1731.1,3258.0 1734.0,3259.3 1736.9,3258.0 1739.6,3257.5 1742.2,3258.5 1744.9,3257.4 1747.5,3258.1 1750.2,3256.7 1752.8,3256.7 1755.4,3256.9 1758.1,3256.9 1760.7,3258.0 1763.4,3258.3 1766.0,3259.3 1768.7,3259.4 1771.3,3260.6 1774.0,3260.9 1776.9,3259.9 1779.8,3261.3 1782.8,3261.4 1785.7,3261.0 1788.7,3261.1 1791.6,3260.7 1794.5,3261.1 1797.5,3261.0 1800.4,3261.2 1803.3,3261.8 1806.1,3261.4 1809.0,3262.1 1811.8,3261.8 1814.7,3262.2 1817.5,3261.0 1820.4,3262.2 1823.2,3261.7 1826.1,3261.9 1828.9,3261.2 1831.8,3262.0 1834.6,3261.5 1837.5,3262.0 1840.3,3261.7 1843.1,3260.9 1845.9,3261.1 1848.7,3261.8 1851.5,3260.5 1854.4,3261.5 1857.2,3261.2 1860.0,3261.5 1862.8,3260.4 1865.7,3260.2 1868.5,3259.8 1871.3,3259.8 1874.2,3258.3 1877.0,3258.6 1879.8,3257.8 1882.2,3257.3 1884.6,3255.8 1887.0,3254.7 1889.4,3253.8 1891.7,3253.8 1893.7,3251.7 1895.7,3251.2 1897.7,3249.8 1899.7,3247.9 1901.4,3246.8 1903.2,3244.6 1904.9,3244.3 1906.6,3242.4 1908.1,3240.2 1909.7,3239.0 1911.2,3237.3 1913.3,3238.5 1915.4,3239.0 1917.5,3240.9 1919.5,3242.1 1921.5,3243.1 1923.5,3245.6 1925.5,3247.0 1927.5,3247.5 1929.4,3249.2 1931.4,3250.7 1933.8,3251.8 1936.2,3251.5 1938.6,3253.7 1941.0,3253.8 1943.3,3255.6 1945.8,3256.4 1948.3,3257.1 1950.8,3258.7 1953.3,3259.6 1955.9,3260.2 1958.5,3260.5 1961.2,3260.2 1963.8,3260.8 1966.5,3261.1 1969.1,3261.0 1972.1,3261.1 1975.1,3261.2 1978.1,3260.8 1981.0,3260.9 1984.0,3261.9 1987.0,3261.9 1990.0,3261.7 1992.9,3261.7 1995.9,3261.5 1998.9,3261.6 2001.7,3261.8 2004.6,3260.8 2007.4,3261.5 2010.2,3262.4 2013.1,3261.2 2015.9,3261.7 2018.7,3261.1 2021.6,3261.5 2024.4,3262.4 2027.2,3261.2 2030.1,3262.5 2032.9,3262.5 2035.7,3262.6 2038.6,3261.7 2041.4,3262.8 2044.2,3262.0 2047.1,3262.2 2049.9,3263.0 2052.7,3262.4 2055.6,3262.6 2058.4,3261.8 2061.2,3261.7 2064.1,3262.1 2066.9,3261.9 2069.8,3263.1 2072.6,3262.2 2075.4,3263.4 2078.3,3263.0 2081.2,3262.2 2084.2,3263.1 2087.2,3262.5 2090.2,3262.9 2093.1,3262.2 2096.1,3263.5 2099.1,3263.5 2102.1,3263.2 2105.0,3263.4" fill="none" stroke="#0000ff" stroke-width="9" stroke-linejoin="round" />
</g>
<text x="871" y="3651.6" font-family="'Liberation Serif',serif" font-size="93" textLength="716.5" lengthAdjust="spacing">Raman shift (cm<tspan font-size="57" dy="-40">−</tspan><tspan font-size="55" dy="-4.4">1</tspan><tspan dy="44.4">)</tspan></text>
<text transform="translate(231,2700.7) rotate(-90)" font-family="'Liberation Serif',serif" font-size="93" text-anchor="middle" textLength="655" lengthAdjust="spacing">Relative intensity</text>
<line x1="981.2" y1="2209.9" x2="1145.5" y2="2209.9" stroke="#000" stroke-width="8.2" stroke-linecap="round"/>
<text x="1163.3" y="2234.2" font-family="'Liberation Serif',serif" font-size="74" text-anchor="start" letter-spacing="1.6">GCE</text>
<line x1="981.2" y1="2299.9" x2="1145.5" y2="2299.9" stroke="#ff0000" stroke-width="8.2" stroke-linecap="round"/>
<text x="1163.3" y="2324.2" font-family="'Liberation Serif',serif" font-size="74" text-anchor="start" >GCE/SWNT</text>
<line x1="981.2" y1="2390.0" x2="1145.5" y2="2390.0" stroke="#c0c0c0" stroke-width="8.2" stroke-linecap="round"/>
<text x="1163.3" y="2414.3" font-family="'Liberation Serif',serif" font-size="74" text-anchor="start" >GCE/SWNT/Pbase</text>
<line x1="981.2" y1="2480.1" x2="1145.5" y2="2480.1" stroke="#0000ff" stroke-width="8.2" stroke-linecap="round"/>
<text x="1163.3" y="2504.4" font-family="'Liberation Serif',serif" font-size="74" text-anchor="start" >GCE/SWNT/Pbase/DNAzyme</text>
<text x="527.5" y="2263.5" font-family="'Liberation Sans',sans-serif" font-size="97" text-anchor="middle" >B</text>
</g>
</svg>
</body></html>
